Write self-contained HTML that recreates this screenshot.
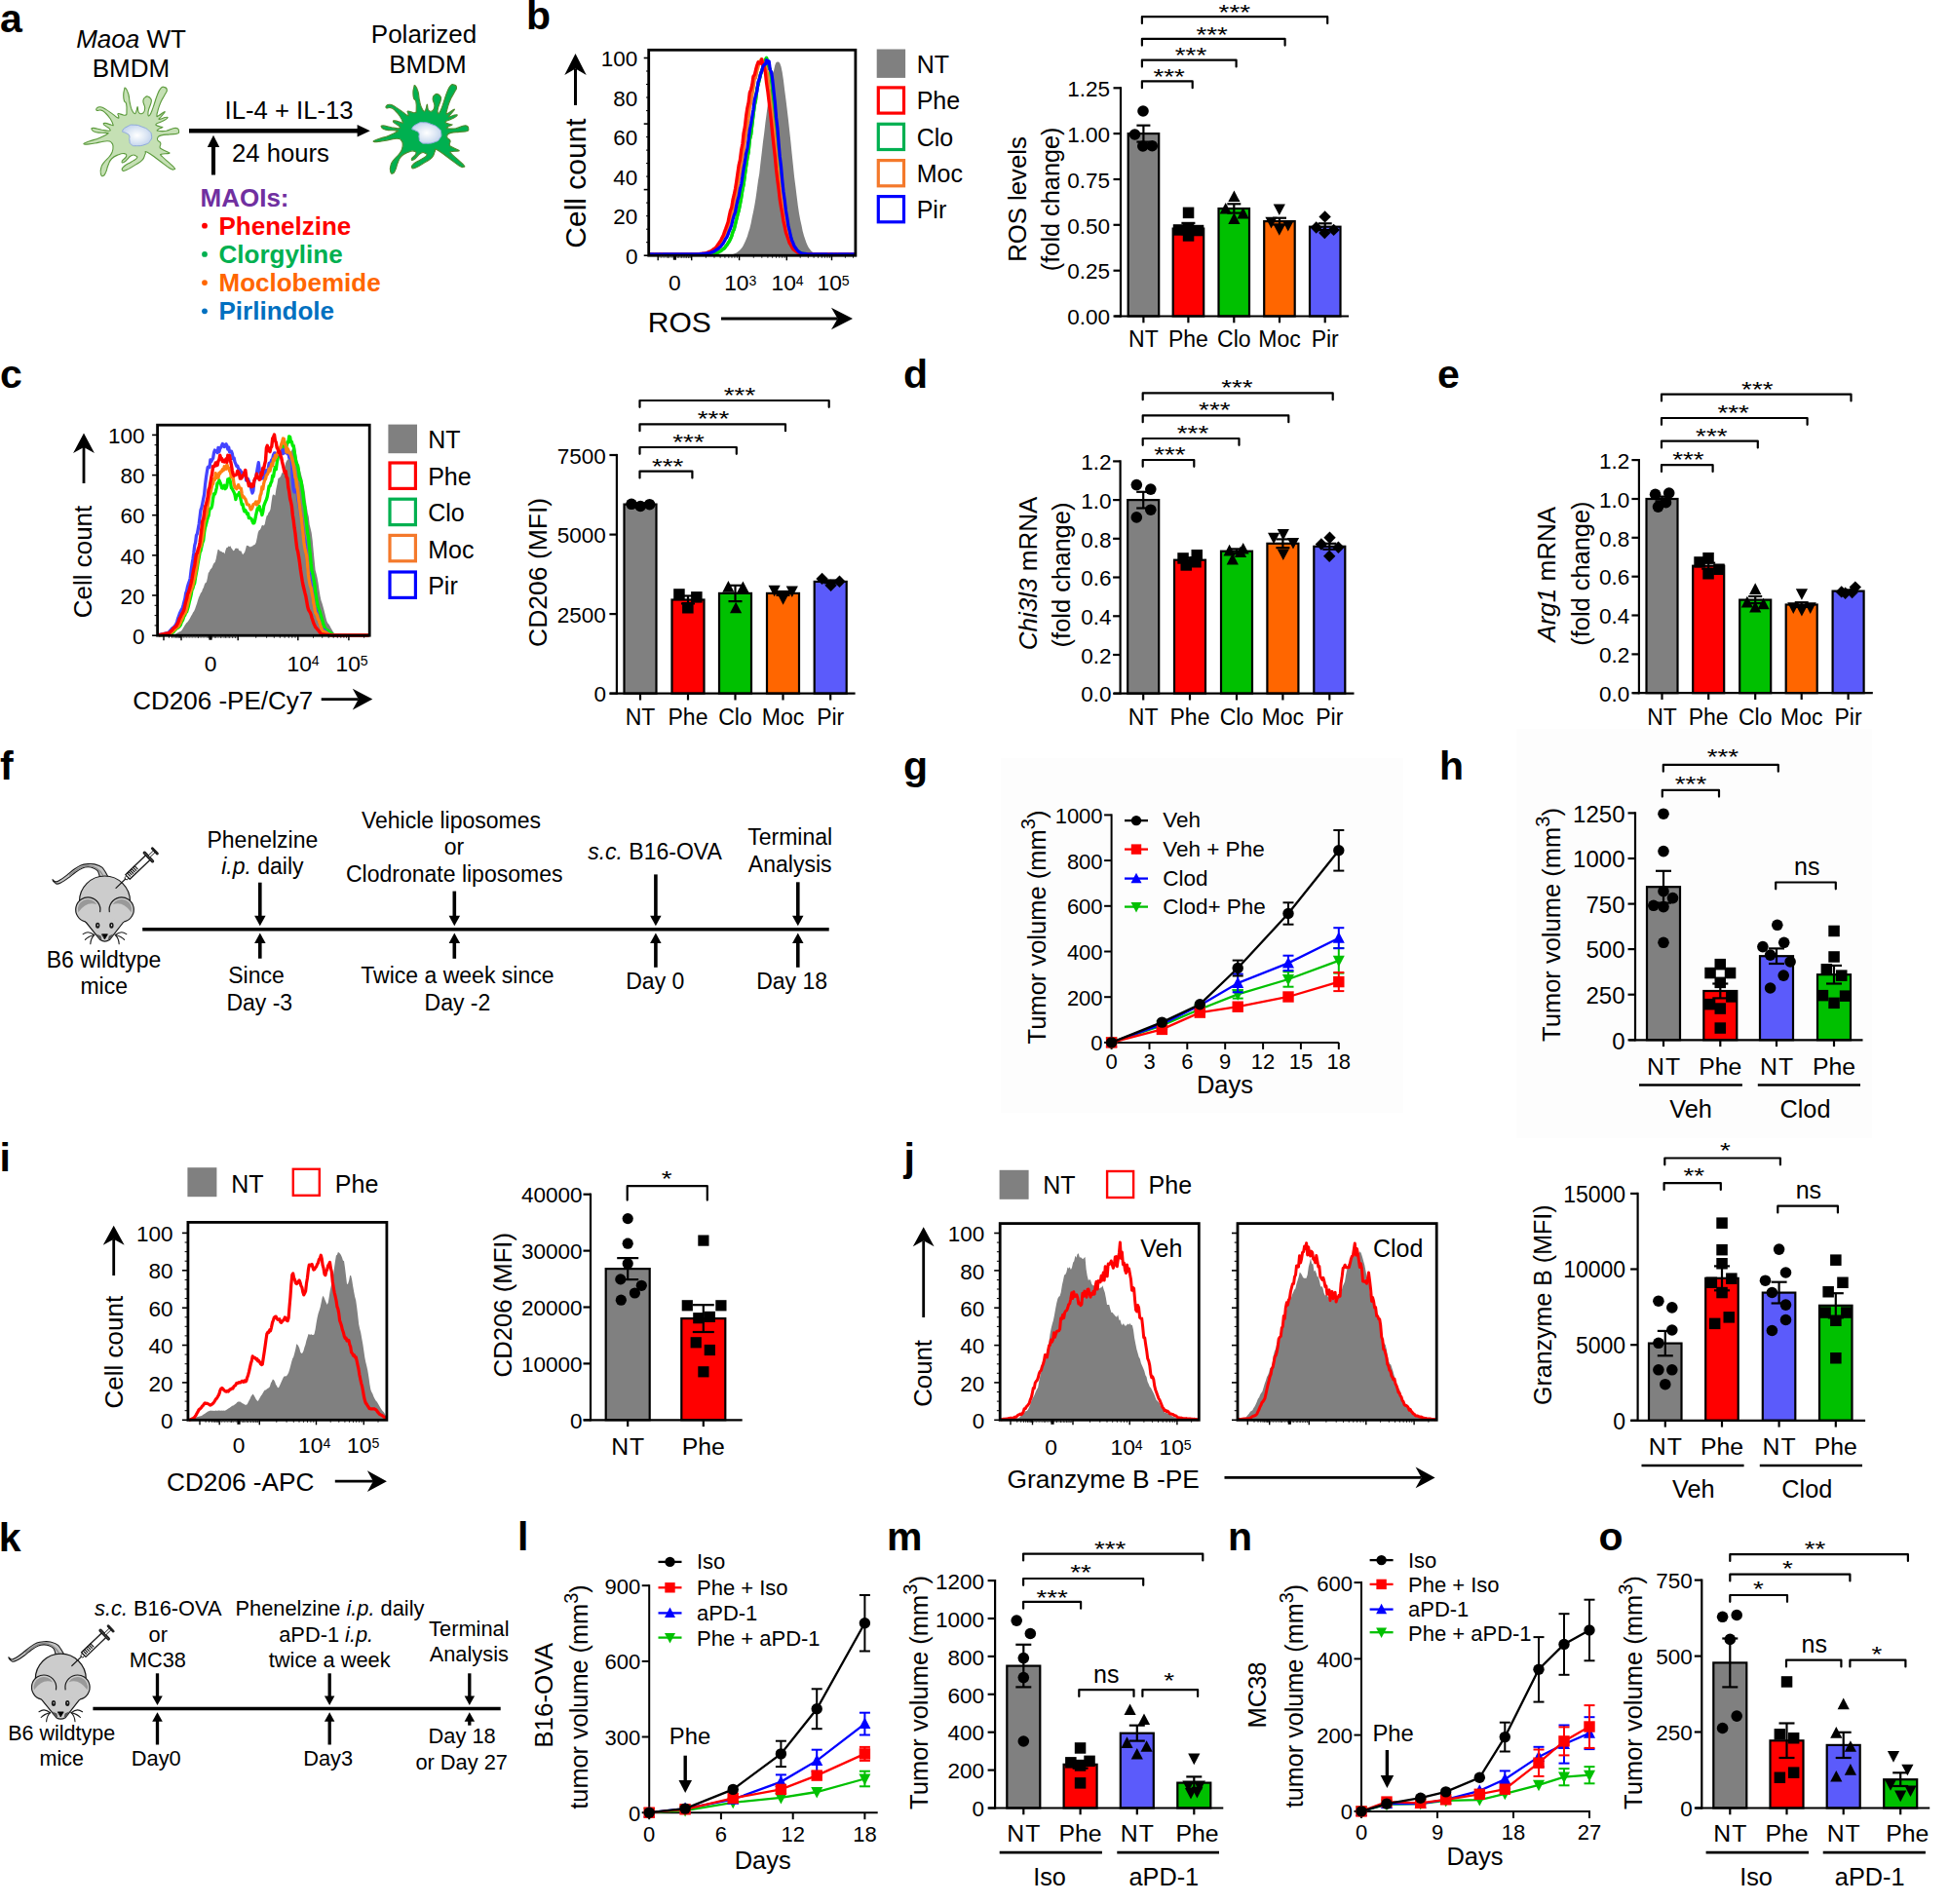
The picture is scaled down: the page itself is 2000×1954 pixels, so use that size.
<!DOCTYPE html>
<html><head><meta charset="utf-8"><title>Figure</title>
<style>
html,body{margin:0;padding:0;background:#fff;}
svg{display:block;font-family:"Liberation Sans",sans-serif;}
</style></head>
<body>
<svg width="2000" height="1954" viewBox="0 0 2000 1954" fill="#000">
<defs><radialGradient id="nuc" cx="0.5" cy="0.5" r="0.6"><stop offset="0" stop-color="#ffffff"/><stop offset="0.55" stop-color="#dbe6f4"/><stop offset="1" stop-color="#b9ccea"/></radialGradient></defs>
<text x="0" y="32.7" font-size="41" font-weight="bold">a</text>
<text x="134.5" y="48.6" font-size="26" text-anchor="middle"><tspan font-style="italic">Maoa</tspan> WT</text>
<text x="134.5" y="78.9" font-size="26" text-anchor="middle">BMDM</text>
<text x="435" y="44.3" font-size="26" text-anchor="middle">Polarized</text>
<text x="439" y="74.6" font-size="26" text-anchor="middle">BMDM</text>
<path d="M128.9 90.4C130.1 91.6 130.6 92.6 131.8 96.5C132.9 100.5 132.3 100.8 133.2 105.2C134.2 109.6 134 110 135.4 113.1C136.7 116.1 137 116.5 138.2 116.7C139.5 116.9 139.3 115.7 140 113.8C140.8 111.9 140.6 109.5 141.1 109.5C141.6 109.5 141.3 112 141.8 113.8C142.4 115.6 141.9 115.7 143.3 116.3C144.6 116.9 145.4 117.4 146.9 115.9C148.3 114.5 148.7 114.2 148.7 110.9C148.7 107.7 146.8 106.7 146.9 103.7C147 100.8 147.7 101 149 99.8C150.4 98.5 150.4 98.6 151.9 99.1C153.4 99.5 153.9 99.9 154.8 101.6C155.6 103.2 155.7 102.3 155.1 105.2C154.5 108 153.5 109.1 152.6 112.4C151.7 115.6 151.6 115.8 151.9 117.4C152.2 118.9 152.3 119.8 153.7 118.1C155 116.4 154.9 116.3 156.9 110.9C158.9 105.6 159.1 103.3 161.2 98C163.3 92.6 162.9 93.1 164.8 90.8C166.7 88.5 166.7 89 168.4 89.4C170.1 89.7 171.1 90.1 171.3 92.2C171.5 94.3 170.9 93.8 169.1 97.3C167.4 100.7 166.7 100.8 164.8 105.2C162.9 109.6 163 110.1 161.9 113.8C160.9 117.4 160.7 117.5 160.9 118.8C161.1 120.2 160.5 120 162.7 118.8C164.9 117.7 168.4 114.3 169.1 114.5C169.9 114.7 167.1 117.4 165.5 119.5C164 121.6 162 122.2 163.4 122.4C164.7 122.6 168.5 120.4 170.6 120.3C172.7 120.1 172.4 120.5 171.3 121.7C170.1 122.8 169.3 122.9 166.3 124.6C163.2 126.2 160 126.3 159.8 127.8C159.6 129.3 163.8 129.5 165.5 130.3C167.3 131.1 167.2 129.9 166.3 130.7C165.3 131.4 162.9 132.2 161.9 133.2C161 134.1 160.4 134 162.7 134.3C165 134.5 166.5 134.9 170.6 134.3C174.6 133.6 174.7 132.4 177.7 131.7C180.8 131.1 180.5 131 182.1 131.7C183.6 132.5 183.5 133.2 183.5 134.6C183.5 136.1 184.5 136.3 182.1 137.1C179.6 138 178.6 137.4 174.2 137.9C169.8 138.3 168.8 138.1 165.5 138.9C162.3 139.8 162.9 139.7 161.9 141.1C161 142.4 161.2 142.4 161.9 144C162.7 145.5 164.2 144.9 164.8 146.8C165.4 148.7 163.7 149.4 164.1 151.1C164.5 152.9 164 152 166.3 153.3C168.6 154.6 170.7 155.1 172.7 156.2C174.7 157.2 174 156.9 173.8 157.2C173.6 157.6 174.2 157.3 172 157.6C169.8 157.9 167.1 157.6 165.5 158.3C164 159.1 164.1 158.2 166.3 160.5C168.4 162.8 170.1 163.9 173.4 166.9C176.8 170 177.5 170.2 178.8 172C180.2 173.8 179.7 173.6 178.5 173.8C177.2 174 178.2 175.1 174.2 172.7C170.1 170.3 169.5 169.2 163.4 164.8C157.3 160.4 155 157.9 151.2 156.2C147.3 154.4 150.4 156.2 149 158.3C147.7 160.4 148.8 161.2 146.1 164.1C143.5 166.9 143.4 166.3 139 169.1C134.6 171.9 133.3 173.1 129.6 174.5C126 175.9 125.9 175.5 125.3 174.5C124.7 173.4 125 172.7 127.5 170.5C130 168.3 131.2 168.4 134.6 166.2C138.1 164 139.2 164 140.4 162.3C141.5 160.6 140.5 160.4 139 159.8C137.4 159.1 137.7 158 134.6 159.8C131.6 161.5 130 164.8 127.5 166.2C125 167.7 124.7 166.7 125.3 165.1C125.9 163.6 129 162.5 129.6 160.5C130.2 158.5 129.6 158.1 127.5 157.6C125.4 157.1 125.2 157.2 121.7 158.7C118.3 160.1 117.4 160 114.5 163C111.7 166 112.5 166.3 110.9 169.8C109.4 173.4 110.1 173.4 108.8 176.3C107.4 179.2 107.4 180 105.9 180.6C104.5 181.2 104 180.7 103.4 178.4C102.8 176.1 102.9 175 103.8 172C104.6 168.9 104.3 170 106.6 166.9C108.9 163.9 110.1 163.5 112.4 160.5C114.7 157.4 114.3 158.1 115.3 155.5C116.2 152.8 116.2 152.8 116 150.4C115.8 148 116.1 148 114.5 146.5C113 144.9 113.7 144.8 110.2 144.7C106.8 144.6 106.6 145.3 101.6 146.1C96.6 147 95.8 147.5 91.5 147.9C87.3 148.3 85.8 148.3 85.8 147.6C85.8 146.8 87.1 146.7 91.5 145C96 143.4 97.3 143.5 102.3 141.4C107.3 139.4 108.5 138.8 110.2 137.5C111.9 136.2 111.9 136.9 108.8 136.4C105.7 135.9 102.6 136.6 98.7 135.7C94.9 134.8 95.2 134.3 94.4 133.2C93.7 132 93.2 131.4 95.9 131.4C98.5 131.4 100.3 132.4 104.5 133.2C108.7 133.9 109.5 134.5 111.7 134.3C113.9 134.1 113.5 133.7 112.7 132.5C112 131.2 110.5 130.9 108.8 129.6C107.1 128.3 106.5 128.3 106.3 127.4C106.1 126.6 105.9 126.2 108.1 126.4C110.3 126.6 112.4 127.8 114.5 128.2C116.6 128.5 116.4 129.5 116 127.8C115.6 126.1 115.2 124.9 113.1 121.7C111 118.5 110.6 118.2 108.1 115.9C105.6 113.6 106.1 113.7 103.8 113.1C101.5 112.4 100.6 114 99.5 113.4C98.3 112.9 98.5 111.9 99.5 110.9C100.4 110 100.6 109.5 103 109.8C105.5 110.2 105.3 110.3 108.8 112.4C112.2 114.4 112.7 115.1 116 117.4C119.2 119.7 119.5 120.4 121 121C122.5 121.5 121.7 120.7 121.7 119.5C121.7 118.4 120.2 117.2 121 116.7C121.8 116.1 122.5 117 124.6 117.4C126.7 117.8 127.5 118.7 128.9 118.1C130.3 117.5 129.8 118.3 130 115.2C130.2 112.2 130.3 109.7 129.6 106.6C128.9 103.5 128.2 106 127.5 103.7C126.7 101.4 126.7 101.1 126.7 98C126.7 94.9 126.9 94.3 127.5 92.2C128 90.2 127.8 89.3 128.9 90.4Z" fill="#c5e0b4" stroke="#5c9a3c" stroke-width="1.1" stroke-linejoin="round"/>
<path d="M125.7 134.3C126.3 132.2 127.5 131.4 131.1 129.6C134.6 127.8 133.2 128 137.5 128.2C141.8 128.3 140.9 128.2 145.4 130C149.9 131.7 149.6 131.2 152.6 133.9C155.6 136.6 155 135.7 155.5 138.9C155.9 142.2 156 141.9 154 144.7C152.1 147.5 153.1 146.8 149 148.3C144.9 149.8 144.7 149.7 140.4 149.7C136.1 149.7 136.9 150 134.6 148.3C132.4 146.5 133.5 146.8 132.9 144C132.2 141.2 133.7 141.2 132.5 138.9C131.3 136.7 130.9 137.8 128.9 136.4C126.9 135 125 136.3 125.7 134.3Z" fill="url(#nuc)" stroke="#8faadc" stroke-width="1"/>
<path d="M426.1 87.9C427.3 89.1 427.8 90.1 429 94C430.1 98 429.5 98.3 430.4 102.7C431.4 107.1 431.2 107.5 432.6 110.6C433.9 113.6 434.2 114 435.4 114.2C436.7 114.4 436.5 113.2 437.2 111.3C438 109.4 437.8 107 438.3 107C438.8 107 438.5 109.5 439 111.3C439.6 113.1 439.1 113.2 440.5 113.8C441.8 114.4 442.6 114.9 444.1 113.4C445.5 112 445.9 111.7 445.9 108.4C445.9 105.2 444 104.2 444.1 101.2C444.2 98.3 444.9 98.5 446.2 97.3C447.6 96 447.6 96.1 449.1 96.6C450.6 97 451.1 97.4 452 99.1C452.8 100.7 452.9 99.8 452.3 102.7C451.7 105.5 450.7 106.6 449.8 109.9C448.9 113.1 448.8 113.3 449.1 114.9C449.4 116.4 449.5 117.3 450.9 115.6C452.2 113.9 452.1 113.8 454.1 108.4C456.1 103.1 456.3 100.8 458.4 95.5C460.5 90.1 460.1 90.6 462 88.3C463.9 86 463.9 86.5 465.6 86.9C467.3 87.2 468.3 87.6 468.5 89.7C468.7 91.8 468.1 91.3 466.3 94.8C464.6 98.2 463.9 98.3 462 102.7C460.1 107.1 460.2 107.6 459.1 111.3C458.1 114.9 457.9 115 458.1 116.3C458.3 117.7 457.7 117.5 459.9 116.3C462.1 115.2 465.6 111.8 466.3 112C467.1 112.2 464.3 114.9 462.7 117C461.2 119.1 459.2 119.7 460.6 119.9C461.9 120.1 465.7 117.9 467.8 117.8C469.9 117.6 469.6 118 468.5 119.2C467.3 120.3 466.5 120.4 463.5 122.1C460.4 123.7 457.2 123.8 457 125.3C456.8 126.8 461 127 462.7 127.8C464.5 128.6 464.4 127.4 463.5 128.2C462.5 128.9 460.1 129.7 459.1 130.7C458.2 131.6 457.6 131.5 459.9 131.8C462.2 132 463.7 132.4 467.8 131.8C471.8 131.1 471.9 129.9 474.9 129.2C478 128.6 477.7 128.5 479.3 129.2C480.8 130 480.7 130.7 480.7 132.1C480.7 133.6 481.7 133.8 479.3 134.6C476.8 135.5 475.8 134.9 471.4 135.4C467 135.8 466 135.6 462.7 136.4C459.5 137.3 460.1 137.2 459.1 138.6C458.2 139.9 458.4 139.9 459.1 141.5C459.9 143 461.4 142.4 462 144.3C462.6 146.2 460.9 146.9 461.3 148.6C461.7 150.4 461.2 149.5 463.5 150.8C465.8 152.1 467.9 152.6 469.9 153.7C471.9 154.7 471.2 154.4 471 154.7C470.8 155.1 471.4 154.8 469.2 155.1C467 155.4 464.3 155.1 462.7 155.8C461.2 156.6 461.3 155.7 463.5 158C465.6 160.3 467.3 161.4 470.6 164.4C474 167.5 474.7 167.7 476 169.5C477.4 171.3 476.9 171.1 475.7 171.3C474.4 171.5 475.4 172.6 471.4 170.2C467.3 167.8 466.7 166.7 460.6 162.3C454.5 157.9 452.2 155.4 448.4 153.7C444.5 151.9 447.6 153.7 446.2 155.8C444.9 157.9 446 158.7 443.3 161.6C440.7 164.4 440.6 163.8 436.2 166.6C431.8 169.4 430.5 170.6 426.8 172C423.2 173.4 423.1 173 422.5 172C421.9 170.9 422.2 170.2 424.7 168C427.2 165.8 428.4 165.9 431.8 163.7C435.3 161.5 436.4 161.5 437.6 159.8C438.7 158.1 437.7 157.9 436.2 157.3C434.6 156.6 434.9 155.5 431.8 157.3C428.8 159 427.2 162.3 424.7 163.7C422.2 165.2 421.9 164.2 422.5 162.6C423.1 161.1 426.2 160 426.8 158C427.4 156 426.8 155.6 424.7 155.1C422.6 154.6 422.4 154.7 418.9 156.2C415.5 157.6 414.6 157.5 411.7 160.5C408.9 163.5 409.7 163.8 408.1 167.3C406.6 170.9 407.3 170.9 406 173.8C404.6 176.7 404.6 177.5 403.1 178.1C401.7 178.7 401.2 178.2 400.6 175.9C400 173.6 400.1 172.5 401 169.5C401.8 166.4 401.5 167.5 403.8 164.4C406.1 161.4 407.3 161 409.6 158C411.9 154.9 411.5 155.6 412.5 153C413.4 150.3 413.4 150.3 413.2 147.9C413 145.5 413.3 145.5 411.7 144C410.2 142.4 410.9 142.3 407.4 142.2C404 142.1 403.8 142.8 398.8 143.6C393.8 144.5 393 145 388.7 145.4C384.5 145.8 383 145.8 383 145.1C383 144.3 384.3 144.2 388.7 142.5C393.2 140.9 394.5 141 399.5 138.9C404.5 136.9 405.7 136.3 407.4 135C409.1 133.7 409.1 134.4 406 133.9C402.9 133.4 399.8 134.1 395.9 133.2C392.1 132.3 392.4 131.8 391.6 130.7C390.9 129.5 390.4 128.9 393.1 128.9C395.7 128.9 397.5 129.9 401.7 130.7C405.9 131.4 406.7 132 408.9 131.8C411.1 131.6 410.7 131.2 409.9 130C409.2 128.7 407.7 128.4 406 127.1C404.3 125.8 403.7 125.8 403.5 124.9C403.3 124.1 403.1 123.7 405.3 123.9C407.5 124.1 409.6 125.3 411.7 125.7C413.8 126 413.6 127 413.2 125.3C412.8 123.6 412.4 122.4 410.3 119.2C408.2 116 407.8 115.7 405.3 113.4C402.8 111.1 403.3 111.2 401 110.6C398.7 109.9 397.8 111.5 396.7 110.9C395.5 110.4 395.7 109.4 396.7 108.4C397.6 107.5 397.8 107 400.2 107.3C402.7 107.7 402.5 107.8 406 109.9C409.4 111.9 409.9 112.6 413.2 114.9C416.4 117.2 416.7 117.9 418.2 118.5C419.7 119 418.9 118.2 418.9 117C418.9 115.9 417.4 114.7 418.2 114.2C419 113.6 419.7 114.5 421.8 114.9C423.9 115.3 424.7 116.2 426.1 115.6C427.5 115 427 115.8 427.2 112.7C427.4 109.7 427.5 107.2 426.8 104.1C426.1 101 425.4 103.5 424.7 101.2C423.9 98.9 423.9 98.6 423.9 95.5C423.9 92.4 424.1 91.8 424.7 89.7C425.2 87.7 425 86.8 426.1 87.9Z" fill="#00b050" stroke="#4f8a2c" stroke-width="1.1" stroke-linejoin="round"/>
<path d="M422.9 131.8C423.5 129.7 424.7 128.9 428.3 127.1C431.8 125.3 430.4 125.5 434.7 125.7C439 125.8 438.1 125.7 442.6 127.5C447.1 129.2 446.8 128.7 449.8 131.4C452.8 134.1 452.2 133.2 452.7 136.4C453.1 139.7 453.2 139.4 451.2 142.2C449.3 145 450.3 144.3 446.2 145.8C442.1 147.3 441.9 147.2 437.6 147.2C433.3 147.2 434.1 147.5 431.8 145.8C429.6 144 430.7 144.3 430.1 141.5C429.4 138.7 430.9 138.7 429.7 136.4C428.5 134.2 428.1 135.3 426.1 133.9C424.1 132.5 422.2 133.8 422.9 131.8Z" fill="url(#nuc)" stroke="#8faadc" stroke-width="1"/>
<line x1="194" y1="134.3" x2="367.6" y2="134.3" stroke="#000" stroke-width="4.6"/>
<polygon points="379.8,134.3 366.6,140.6 366.6,128" fill="#000"/>
<text x="230.5" y="122.1" font-size="25.7">IL-4 + IL-13</text>
<line x1="219" y1="179.5" x2="219" y2="149.9" stroke="#000" stroke-width="4.1"/>
<polygon points="219,138.8 225.2,150.9 212.8,150.9" fill="#000"/>
<text x="238" y="165.9" font-size="25.7">24 hours</text>
<text x="205.5" y="211.6" font-size="26" font-weight="bold" fill="#7030a0">MAOIs:</text>
<circle cx="210" cy="231.7" r="2.9" fill="#ff0000"/>
<text x="224.5" y="240.6" font-size="26" font-weight="bold" fill="#ff0000">Phenelzine</text>
<circle cx="210" cy="260.9" r="2.9" fill="#00b050"/>
<text x="224.5" y="269.8" font-size="26" font-weight="bold" fill="#00b050">Clorgyline</text>
<circle cx="210" cy="290.1" r="2.9" fill="#ff6600"/>
<text x="224.5" y="299" font-size="26" font-weight="bold" fill="#ff6600">Moclobemide</text>
<circle cx="210" cy="319.3" r="2.9" fill="#0070c0"/>
<text x="224.5" y="328.2" font-size="26" font-weight="bold" fill="#0070c0">Pirlindole</text>
<text x="540" y="29.7" font-size="41" font-weight="bold">b</text>
<path d="M666.7 262.2 L666.7 262.2 L667.9 262.2 L669.2 262.2 L670.4 262.2 L671.6 262.2 L672.9 262.2 L674.1 262.2 L675.4 262.2 L676.6 262.2 L677.8 262.2 L679.1 262.2 L680.3 262.2 L681.5 262.2 L682.8 262.2 L684 262.2 L685.2 262.2 L686.5 262.2 L687.7 262.2 L689 262.2 L690.2 262.2 L691.4 262.2 L692.7 262.2 L693.9 262.2 L695.1 262.2 L696.4 262.2 L697.6 262.2 L698.8 262.2 L700.1 262.2 L701.3 262.2 L702.6 262.2 L703.8 262.2 L705 262.2 L706.3 262.2 L707.5 262.2 L708.7 262.2 L710 262.2 L711.2 262.2 L712.4 262.2 L713.7 262.2 L714.9 262.2 L716.2 262.2 L717.4 262.2 L718.6 262.2 L719.9 262.2 L721.1 262.2 L722.3 262.2 L723.6 262.2 L724.8 262.2 L726.1 262.2 L727.3 262.2 L728.5 262.2 L729.8 262.2 L731 262.2 L732.2 262.2 L733.5 262.2 L734.7 262.2 L735.9 262.2 L737.2 262.2 L738.4 262.2 L739.7 262.1 L740.9 262.1 L742.1 262.1 L743.4 262 L744.6 262 L745.8 261.9 L747.1 261.8 L748.3 261.6 L749.5 261.4 L750.8 261.2 L752 260.9 L753.3 260.5 L754.5 260.1 L755.7 259.5 L757 258.5 L758.2 257.4 L759.4 256.4 L760.7 255 L761.9 253.4 L763.1 251.2 L764.4 248.4 L765.6 245.7 L766.9 242.5 L768.1 238.3 L769.3 234.7 L770.6 229.3 L771.8 223.1 L773 217.4 L774.3 210.7 L775.5 203.6 L776.7 194.9 L778 185.3 L779.2 178.5 L780.5 166.8 L781.7 156.7 L782.9 146.2 L784.2 136.4 L785.4 125.9 L786.6 117 L787.9 107.2 L789.1 98.7 L790.3 92 L791.6 80.9 L792.8 75.8 L794.1 72.2 L795.3 66.7 L796.5 64.1 L797.8 63.4 L799 63.6 L800.2 64.7 L801.5 68.3 L802.7 74.1 L803.9 82.1 L805.2 92.7 L806.4 101.7 L807.7 112.6 L808.9 122.5 L810.1 133.4 L811.4 145.6 L812.6 157.6 L813.8 169.1 L815.1 181.7 L816.3 190.7 L817.5 200.8 L818.8 210.9 L820 218.9 L821.3 226 L822.5 231.2 L823.7 237.3 L825 242.1 L826.2 245.6 L827.4 249.1 L828.7 252 L829.9 254.2 L831.2 255.9 L832.4 257.5 L833.6 258.6 L834.9 259.4 L836.1 260.1 L837.3 260.7 L838.6 261.1 L839.8 261.4 L841 261.6 L842.3 261.8 L843.5 261.9 L844.8 262 L846 262.1 L847.2 262.1 L848.5 262.1 L849.7 262.2 L850.9 262.2 L852.2 262.2 L853.4 262.2 L854.6 262.2 L855.9 262.2 L857.1 262.2 L858.4 262.2 L859.6 262.2 L860.8 262.2 L862.1 262.2 L863.3 262.2 L864.5 262.2 L865.8 262.2 L867 262.2 L868.2 262.2 L869.5 262.2 L870.7 262.2 L872 262.2 L873.2 262.2 L874.4 262.2 L875.7 262.2 L876.9 262.2 L876.9 262.2 Z" fill="#808080"/>
<polyline points="666.7,261 667.9,260.9 669.2,260.9 670.4,260.9 671.6,260.9 672.9,260.9 674.1,261.1 675.4,261 676.6,260.9 677.8,261 679.1,260.9 680.3,261 681.5,261 682.8,261 684,261 685.2,261 686.5,261.1 687.7,261 689,261 690.2,260.9 691.4,260.9 692.7,261 693.9,260.9 695.1,261 696.4,261 697.6,261 698.8,261.1 700.1,260.9 701.3,261 702.6,261 703.8,260.9 705,260.9 706.3,261 707.5,260.9 708.7,261 710,260.9 711.2,261 712.4,260.9 713.7,260.9 714.9,260.9 716.2,260.9 717.4,261 718.6,261 719.9,261 721.1,261 722.3,261 723.6,260.9 724.8,260.8 726.1,260.8 727.3,260.6 728.5,260.6 729.8,260.5 731,260.2 732.2,260.1 733.5,259.9 734.7,259.5 735.9,259.1 737.2,258.9 738.4,258 739.7,257.7 740.9,256.5 742.1,255.5 743.4,254.8 744.6,252.9 745.8,251.6 747.1,249.5 748.3,247.8 749.5,245.3 750.8,242.3 752,238 753.3,235.3 754.5,230.3 755.7,225.3 757,220.1 758.2,215.7 759.4,209.6 760.7,202.6 761.9,194.8 763.1,189.2 764.4,179.3 765.6,170.8 766.9,161.9 768.1,156.2 769.3,143.6 770.6,138.2 771.8,128.1 773,118.1 774.3,108 775.5,102.7 776.7,91.9 778,86.9 779.2,81.8 780.5,76.3 781.7,72.5 782.9,69.4 784.2,66.4 785.4,61.6 786.6,59.4 787.9,65.9 789.1,70.3 790.3,70.9 791.6,81.6 792.8,92.1 794.1,104.1 795.3,114.6 796.5,126.5 797.8,141.4 799,154.8 800.2,169 801.5,178.4 802.7,192.7 803.9,202 805.2,210.8 806.4,220.9 807.7,227.2 808.9,233.4 810.1,239.4 811.4,243.8 812.6,248.2 813.8,250.9 815.1,253.6 816.3,255 817.5,256.8 818.8,257.9 820,258.6 821.3,259.3 822.5,259.7 823.7,260.2 825,260.4 826.2,260.6 827.4,260.7 828.7,260.9 829.9,260.9 831.2,261 832.4,261 833.6,260.9 834.9,260.9 836.1,261 837.3,261 838.6,261 839.8,261.1 841,261 842.3,260.9 843.5,260.9 844.8,261 846,260.9 847.2,260.9 848.5,261 849.7,261 850.9,260.9 852.2,261 853.4,260.9 854.6,261 855.9,261 857.1,260.9 858.4,261 859.6,261 860.8,260.9 862.1,261 863.3,261 864.5,261.1 865.8,261 867,261 868.2,261 869.5,261 870.7,260.9 872,261 873.2,260.9 874.4,261 875.7,261 876.9,260.9" fill="none" stroke="#00b050" stroke-width="3.3" stroke-linejoin="round"/>
<polyline points="666.7,261 667.9,260.9 669.2,260.9 670.4,260.9 671.6,260.9 672.9,260.9 674.1,261.1 675.4,261 676.6,260.9 677.8,261 679.1,260.9 680.3,261 681.5,261 682.8,261 684,261 685.2,261 686.5,261.1 687.7,261 689,261 690.2,260.9 691.4,260.9 692.7,261 693.9,260.9 695.1,261 696.4,261 697.6,261 698.8,261.1 700.1,260.9 701.3,261 702.6,261 703.8,260.9 705,260.9 706.3,261 707.5,260.9 708.7,261 710,260.9 711.2,261 712.4,260.9 713.7,260.9 714.9,260.9 716.2,260.9 717.4,261 718.6,261 719.9,261 721.1,261 722.3,261 723.6,260.9 724.8,260.8 726.1,260.8 727.3,260.6 728.5,260.6 729.8,260.5 731,260.2 732.2,260.1 733.5,259.9 734.7,259.5 735.9,259.1 737.2,258.9 738.4,258 739.7,257.7 740.9,256.5 742.1,255.5 743.4,254.8 744.6,252.9 745.8,251.6 747.1,249.5 748.3,247.8 749.5,245.3 750.8,242.3 752,238 753.3,235.3 754.5,230.3 755.7,225.3 757,220.1 758.2,215.7 759.4,209.6 760.7,202.6 761.9,194.8 763.1,189.2 764.4,179.3 765.6,170.8 766.9,161.9 768.1,156.2 769.3,143.6 770.6,138.2 771.8,128.1 773,118.1 774.3,108 775.5,102.7 776.7,91.9 778,86.9 779.2,81.8 780.5,76.3 781.7,72.5 782.9,69.4 784.2,66.4 785.4,61.6 786.6,59.4 787.9,65.9 789.1,70.3 790.3,70.9 791.6,81.6 792.8,92.1 794.1,104.1 795.3,114.6 796.5,126.5 797.8,141.4 799,154.8 800.2,169 801.5,178.4 802.7,192.7 803.9,202 805.2,210.8 806.4,220.9 807.7,227.2 808.9,233.4 810.1,239.4 811.4,243.8 812.6,248.2 813.8,250.9 815.1,253.6 816.3,255 817.5,256.8 818.8,257.9 820,258.6 821.3,259.3 822.5,259.7 823.7,260.2 825,260.4 826.2,260.6 827.4,260.7 828.7,260.9 829.9,260.9 831.2,261 832.4,261 833.6,260.9 834.9,260.9 836.1,261 837.3,261 838.6,261 839.8,261.1 841,261 842.3,260.9 843.5,260.9 844.8,261 846,260.9 847.2,260.9 848.5,261 849.7,261 850.9,260.9 852.2,261 853.4,260.9 854.6,261 855.9,261 857.1,260.9 858.4,261 859.6,261 860.8,260.9 862.1,261 863.3,261 864.5,261.1 865.8,261 867,261 868.2,261 869.5,261 870.7,260.9 872,261 873.2,260.9 874.4,261 875.7,261 876.9,260.9" fill="none" stroke="#00e000" stroke-width="3.3" stroke-linejoin="round"/>
<polyline points="666.7,261 667.9,261 669.2,261 670.4,261.1 671.6,261 672.9,261 674.1,261.1 675.4,261 676.6,261.1 677.8,261 679.1,261.1 680.3,261.1 681.5,261 682.8,260.9 684,261 685.2,261 686.5,261 687.7,260.9 689,261 690.2,261 691.4,260.9 692.7,261.1 693.9,260.9 695.1,261 696.4,261 697.6,261 698.8,261 700.1,260.9 701.3,261 702.6,261 703.8,261 705,261 706.3,261 707.5,261 708.7,261 710,261 711.2,260.9 712.4,260.9 713.7,260.9 714.9,260.9 716.2,260.8 717.4,260.8 718.6,260.7 719.9,260.6 721.1,260.6 722.3,260.4 723.6,260.3 724.8,260 726.1,259.8 727.3,259.7 728.5,259.1 729.8,259 731,258.4 732.2,257.7 733.5,257.2 734.7,256.2 735.9,255.5 737.2,253.9 738.4,252.5 739.7,251 740.9,248.9 742.1,247.3 743.4,244.5 744.6,241.8 745.8,238.8 747.1,235.5 748.3,231 749.5,226.5 750.8,222.6 752,217.1 753.3,212.8 754.5,205.3 755.7,199 757,191.1 758.2,184.2 759.4,178.3 760.7,170.1 761.9,160.9 763.1,155.1 764.4,144.9 765.6,137.7 766.9,129.5 768.1,121.5 769.3,110 770.6,105.5 771.8,97.5 773,90 774.3,81 775.5,80 776.7,73.1 778,68.6 779.2,63.5 780.5,61.8 781.7,60.4 782.9,63.8 784.2,64.7 785.4,68.6 786.6,71 787.9,77.8 789.1,91 790.3,100.6 791.6,111.1 792.8,122.5 794.1,133.3 795.3,145 796.5,158.2 797.8,170.8 799,180.5 800.2,191.2 801.5,200.4 802.7,208.4 803.9,217.2 805.2,224.7 806.4,230.8 807.7,236.2 808.9,241.7 810.1,244.6 811.4,248.1 812.6,250.7 813.8,253 815.1,255.1 816.3,256.5 817.5,257.7 818.8,258.4 820,259.2 821.3,259.7 822.5,260.1 823.7,260.3 825,260.5 826.2,260.7 827.4,260.8 828.7,260.9 829.9,260.9 831.2,260.9 832.4,261 833.6,260.9 834.9,260.9 836.1,261 837.3,261 838.6,261 839.8,261 841,261 842.3,260.9 843.5,260.9 844.8,261 846,261 847.2,261.1 848.5,261.1 849.7,261 850.9,261 852.2,260.9 853.4,261 854.6,261.1 855.9,260.9 857.1,261 858.4,261 859.6,261 860.8,261.1 862.1,261 863.3,260.9 864.5,260.9 865.8,261 867,261 868.2,261 869.5,261 870.7,260.9 872,261 873.2,260.9 874.4,261 875.7,261 876.9,260.9" fill="none" stroke="#f4792b" stroke-width="3.3" stroke-linejoin="round"/>
<polyline points="666.7,261 667.9,261 669.2,261 670.4,261 671.6,261 672.9,261.1 674.1,261.1 675.4,260.9 676.6,261 677.8,261 679.1,260.9 680.3,261 681.5,260.9 682.8,261 684,261 685.2,261 686.5,261 687.7,260.9 689,261 690.2,260.9 691.4,261 692.7,261.1 693.9,260.9 695.1,261 696.4,261 697.6,261.1 698.8,260.9 700.1,261 701.3,260.9 702.6,260.9 703.8,260.9 705,260.9 706.3,261 707.5,260.9 708.7,260.9 710,260.8 711.2,260.8 712.4,260.9 713.7,260.9 714.9,260.8 716.2,260.6 717.4,260.6 718.6,260.5 719.9,260.4 721.1,260.2 722.3,260.1 723.6,259.8 724.8,259.5 726.1,259.1 727.3,258.6 728.5,258.1 729.8,257.4 731,256.7 732.2,255.7 733.5,254.8 734.7,253.9 735.9,252.1 737.2,250.3 738.4,248.5 739.7,246.6 740.9,244 742.1,241.9 743.4,238 744.6,234.9 745.8,231.5 747.1,227.7 748.3,221.6 749.5,216.2 750.8,212.6 752,205 753.3,199.7 754.5,193.7 755.7,186.2 757,177.2 758.2,169.1 759.4,164.1 760.7,153.7 761.9,147.7 763.1,136.5 764.4,129.9 765.6,119.1 766.9,110.6 768.1,105.2 769.3,95.2 770.6,92 771.8,87 773,78.5 774.3,76.8 775.5,71.8 776.7,67.3 778,63.7 779.2,64.9 780.5,65.1 781.7,61 782.9,67.2 784.2,68 785.4,74.8 786.6,85.6 787.9,94.3 789.1,104.2 790.3,114.6 791.6,126.5 792.8,138.5 794.1,150.2 795.3,160.7 796.5,173.7 797.8,184.7 799,193.9 800.2,204.6 801.5,212.8 802.7,219 803.9,226.8 805.2,232.6 806.4,238.5 807.7,242.3 808.9,245.8 810.1,249.4 811.4,251.5 812.6,253.6 813.8,255.6 815.1,256.6 816.3,257.7 817.5,258.5 818.8,259.2 820,259.6 821.3,259.9 822.5,260.4 823.7,260.6 825,260.6 826.2,260.6 827.4,260.9 828.7,260.9 829.9,260.9 831.2,261 832.4,261 833.6,261 834.9,261 836.1,261 837.3,261 838.6,261 839.8,260.9 841,261.1 842.3,261 843.5,260.9 844.8,261 846,261 847.2,260.9 848.5,261 849.7,261 850.9,261 852.2,261 853.4,261.1 854.6,261 855.9,261 857.1,260.9 858.4,261 859.6,260.9 860.8,261 862.1,261 863.3,261 864.5,260.9 865.8,261 867,261 868.2,261 869.5,261 870.7,261 872,260.9 873.2,260.9 874.4,261 875.7,261 876.9,260.9" fill="none" stroke="#ff0000" stroke-width="3.3" stroke-linejoin="round"/>
<polyline points="666.7,261 667.9,261 669.2,261 670.4,260.9 671.6,261.1 672.9,261 674.1,260.9 675.4,261.1 676.6,261 677.8,261 679.1,261.1 680.3,261 681.5,260.9 682.8,261 684,260.9 685.2,261 686.5,261 687.7,261 689,261 690.2,260.9 691.4,261 692.7,260.9 693.9,261 695.1,260.9 696.4,261 697.6,261 698.8,261 700.1,260.9 701.3,261 702.6,261 703.8,261 705,261 706.3,261 707.5,260.9 708.7,261 710,260.9 711.2,260.9 712.4,261 713.7,260.9 714.9,260.9 716.2,260.9 717.4,260.8 718.6,260.6 719.9,260.7 721.1,260.5 722.3,260.5 723.6,260.3 724.8,260 726.1,260 727.3,259.8 728.5,259.5 729.8,259 731,258.8 732.2,258.3 733.5,257.5 734.7,256.6 735.9,256 737.2,255.1 738.4,253.8 739.7,252.9 740.9,251.1 742.1,249.8 743.4,247.5 744.6,245 745.8,243.6 747.1,240.3 748.3,237.2 749.5,234.5 750.8,230.7 752,225.4 753.3,220.9 754.5,217.9 755.7,211.4 757,205.3 758.2,201.2 759.4,193.9 760.7,189.1 761.9,181.2 763.1,173 764.4,165.9 765.6,157.6 766.9,152.6 768.1,143.7 769.3,133.7 770.6,127.1 771.8,120 773,112.8 774.3,102.6 775.5,97.8 776.7,94.3 778,84.1 779.2,81.3 780.5,75.9 781.7,73.1 782.9,68.3 784.2,66.4 785.4,66 786.6,61.8 787.9,64.8 789.1,62.8 790.3,71.7 791.6,74 792.8,82.6 794.1,94.7 795.3,105.4 796.5,120.4 797.8,131.4 799,146.3 800.2,160.4 801.5,170.8 802.7,184.9 803.9,196.4 805.2,205.5 806.4,216 807.7,223.6 808.9,231.6 810.1,236.6 811.4,242.4 812.6,246.8 813.8,249.3 815.1,252.6 816.3,254.3 817.5,256 818.8,257.5 820,258.7 821.3,259.3 822.5,259.8 823.7,260.1 825,260.4 826.2,260.5 827.4,260.7 828.7,260.9 829.9,260.9 831.2,261 832.4,261 833.6,260.9 834.9,260.9 836.1,261 837.3,261 838.6,260.9 839.8,260.9 841,261 842.3,260.9 843.5,261 844.8,260.9 846,260.9 847.2,260.9 848.5,261 849.7,261.1 850.9,261.1 852.2,261 853.4,261 854.6,261 855.9,261.1 857.1,260.9 858.4,261 859.6,261.1 860.8,261 862.1,261 863.3,261 864.5,261 865.8,261 867,261 868.2,260.9 869.5,261 870.7,260.9 872,261.1 873.2,260.9 874.4,260.9 875.7,261 876.9,261" fill="none" stroke="#0000ff" stroke-width="3.3" stroke-linejoin="round"/>
<rect x="665.7" y="51.3" width="212.2" height="210.9" fill="none" stroke="#000" stroke-width="2.8"/>
<text x="654.4" y="270.9" font-size="22.5" text-anchor="end">0</text>
<text x="654.4" y="230.3" font-size="22.5" text-anchor="end">20</text>
<text x="654.4" y="189.8" font-size="22.5" text-anchor="end">40</text>
<text x="654.4" y="149.2" font-size="22.5" text-anchor="end">60</text>
<text x="654.4" y="108.7" font-size="22.5" text-anchor="end">80</text>
<text x="654.4" y="68.2" font-size="22.5" text-anchor="end">100</text>
<line x1="660.7" y1="262.2" x2="665.7" y2="262.2" stroke="#000" stroke-width="1.6"/>
<line x1="663" y1="248.7" x2="665.7" y2="248.7" stroke="#000" stroke-width="1"/>
<line x1="663" y1="235.2" x2="665.7" y2="235.2" stroke="#000" stroke-width="1"/>
<line x1="663" y1="221.7" x2="665.7" y2="221.7" stroke="#000" stroke-width="1"/>
<line x1="663" y1="208.1" x2="665.7" y2="208.1" stroke="#000" stroke-width="1"/>
<line x1="660.7" y1="194.6" x2="665.7" y2="194.6" stroke="#000" stroke-width="1.6"/>
<line x1="663" y1="181.1" x2="665.7" y2="181.1" stroke="#000" stroke-width="1"/>
<line x1="663" y1="167.6" x2="665.7" y2="167.6" stroke="#000" stroke-width="1"/>
<line x1="663" y1="154.1" x2="665.7" y2="154.1" stroke="#000" stroke-width="1"/>
<line x1="663" y1="140.6" x2="665.7" y2="140.6" stroke="#000" stroke-width="1"/>
<line x1="660.7" y1="127.1" x2="665.7" y2="127.1" stroke="#000" stroke-width="1.6"/>
<line x1="663" y1="113.6" x2="665.7" y2="113.6" stroke="#000" stroke-width="1"/>
<line x1="663" y1="100" x2="665.7" y2="100" stroke="#000" stroke-width="1"/>
<line x1="663" y1="86.5" x2="665.7" y2="86.5" stroke="#000" stroke-width="1"/>
<line x1="663" y1="73" x2="665.7" y2="73" stroke="#000" stroke-width="1"/>
<line x1="660.7" y1="59.5" x2="665.7" y2="59.5" stroke="#000" stroke-width="1.6"/>
<line x1="675.2" y1="262.2" x2="675.2" y2="267.2" stroke="#000" stroke-width="1.4"/>
<line x1="709.7" y1="262.2" x2="709.7" y2="267.2" stroke="#000" stroke-width="1.4"/>
<line x1="758.6" y1="262.2" x2="758.6" y2="267.2" stroke="#000" stroke-width="1.4"/>
<line x1="807.3" y1="262.2" x2="807.3" y2="267.2" stroke="#000" stroke-width="1.4"/>
<line x1="853.5" y1="262.2" x2="853.5" y2="267.2" stroke="#000" stroke-width="1.4"/>
<line x1="685.6" y1="262.2" x2="685.6" y2="264.8" stroke="#000" stroke-width="0.8"/>
<line x1="691.7" y1="262.2" x2="691.7" y2="264.8" stroke="#000" stroke-width="0.8"/>
<line x1="696" y1="262.2" x2="696" y2="264.8" stroke="#000" stroke-width="0.8"/>
<line x1="699.3" y1="262.2" x2="699.3" y2="264.8" stroke="#000" stroke-width="0.8"/>
<line x1="702" y1="262.2" x2="702" y2="264.8" stroke="#000" stroke-width="0.8"/>
<line x1="704.4" y1="262.2" x2="704.4" y2="264.8" stroke="#000" stroke-width="0.8"/>
<line x1="706.4" y1="262.2" x2="706.4" y2="264.8" stroke="#000" stroke-width="0.8"/>
<line x1="708.1" y1="262.2" x2="708.1" y2="264.8" stroke="#000" stroke-width="0.8"/>
<line x1="724.4" y1="262.2" x2="724.4" y2="264.8" stroke="#000" stroke-width="0.8"/>
<line x1="733" y1="262.2" x2="733" y2="264.8" stroke="#000" stroke-width="0.8"/>
<line x1="739.1" y1="262.2" x2="739.1" y2="264.8" stroke="#000" stroke-width="0.8"/>
<line x1="743.9" y1="262.2" x2="743.9" y2="264.8" stroke="#000" stroke-width="0.8"/>
<line x1="747.8" y1="262.2" x2="747.8" y2="264.8" stroke="#000" stroke-width="0.8"/>
<line x1="751" y1="262.2" x2="751" y2="264.8" stroke="#000" stroke-width="0.8"/>
<line x1="753.9" y1="262.2" x2="753.9" y2="264.8" stroke="#000" stroke-width="0.8"/>
<line x1="756.4" y1="262.2" x2="756.4" y2="264.8" stroke="#000" stroke-width="0.8"/>
<line x1="773.3" y1="262.2" x2="773.3" y2="264.8" stroke="#000" stroke-width="0.8"/>
<line x1="781.8" y1="262.2" x2="781.8" y2="264.8" stroke="#000" stroke-width="0.8"/>
<line x1="787.9" y1="262.2" x2="787.9" y2="264.8" stroke="#000" stroke-width="0.8"/>
<line x1="792.6" y1="262.2" x2="792.6" y2="264.8" stroke="#000" stroke-width="0.8"/>
<line x1="796.5" y1="262.2" x2="796.5" y2="264.8" stroke="#000" stroke-width="0.8"/>
<line x1="799.8" y1="262.2" x2="799.8" y2="264.8" stroke="#000" stroke-width="0.8"/>
<line x1="802.6" y1="262.2" x2="802.6" y2="264.8" stroke="#000" stroke-width="0.8"/>
<line x1="805.1" y1="262.2" x2="805.1" y2="264.8" stroke="#000" stroke-width="0.8"/>
<line x1="821.2" y1="262.2" x2="821.2" y2="264.8" stroke="#000" stroke-width="0.8"/>
<line x1="829.3" y1="262.2" x2="829.3" y2="264.8" stroke="#000" stroke-width="0.8"/>
<line x1="835.1" y1="262.2" x2="835.1" y2="264.8" stroke="#000" stroke-width="0.8"/>
<line x1="839.6" y1="262.2" x2="839.6" y2="264.8" stroke="#000" stroke-width="0.8"/>
<line x1="843.3" y1="262.2" x2="843.3" y2="264.8" stroke="#000" stroke-width="0.8"/>
<line x1="846.3" y1="262.2" x2="846.3" y2="264.8" stroke="#000" stroke-width="0.8"/>
<line x1="849" y1="262.2" x2="849" y2="264.8" stroke="#000" stroke-width="0.8"/>
<line x1="851.4" y1="262.2" x2="851.4" y2="264.8" stroke="#000" stroke-width="0.8"/>
<line x1="867.4" y1="262.2" x2="867.4" y2="264.8" stroke="#000" stroke-width="0.8"/>
<line x1="875.5" y1="262.2" x2="875.5" y2="264.8" stroke="#000" stroke-width="0.8"/>
<line x1="677" y1="262.2" x2="677" y2="264.8" stroke="#333" stroke-width="0.6"/>
<line x1="678.5" y1="262.2" x2="678.5" y2="264.8" stroke="#333" stroke-width="0.6"/>
<line x1="680.1" y1="262.2" x2="680.1" y2="264.8" stroke="#333" stroke-width="0.6"/>
<line x1="681.6" y1="262.2" x2="681.6" y2="264.8" stroke="#333" stroke-width="0.6"/>
<line x1="683.2" y1="262.2" x2="683.2" y2="264.8" stroke="#333" stroke-width="0.6"/>
<line x1="684.8" y1="262.2" x2="684.8" y2="264.8" stroke="#333" stroke-width="0.6"/>
<line x1="686.3" y1="262.2" x2="686.3" y2="264.8" stroke="#333" stroke-width="0.6"/>
<line x1="687.9" y1="262.2" x2="687.9" y2="264.8" stroke="#333" stroke-width="0.6"/>
<line x1="689.4" y1="262.2" x2="689.4" y2="264.8" stroke="#333" stroke-width="0.6"/>
<line x1="691" y1="262.2" x2="691" y2="264.8" stroke="#333" stroke-width="0.6"/>
<line x1="692.5" y1="262.2" x2="692.5" y2="264.8" stroke="#333" stroke-width="0.6"/>
<line x1="694" y1="262.2" x2="694" y2="264.8" stroke="#333" stroke-width="0.6"/>
<line x1="695.6" y1="262.2" x2="695.6" y2="264.8" stroke="#333" stroke-width="0.6"/>
<line x1="697.1" y1="262.2" x2="697.1" y2="264.8" stroke="#333" stroke-width="0.6"/>
<line x1="698.7" y1="262.2" x2="698.7" y2="264.8" stroke="#333" stroke-width="0.6"/>
<line x1="700.2" y1="262.2" x2="700.2" y2="264.8" stroke="#333" stroke-width="0.6"/>
<line x1="701.8" y1="262.2" x2="701.8" y2="264.8" stroke="#333" stroke-width="0.6"/>
<line x1="703.4" y1="262.2" x2="703.4" y2="264.8" stroke="#333" stroke-width="0.6"/>
<line x1="704.9" y1="262.2" x2="704.9" y2="264.8" stroke="#333" stroke-width="0.6"/>
<line x1="706.5" y1="262.2" x2="706.5" y2="264.8" stroke="#333" stroke-width="0.6"/>
<line x1="708" y1="262.2" x2="708" y2="264.8" stroke="#333" stroke-width="0.6"/>
<rect x="690.8" y="262.2" width="3.2" height="4.5" fill="#000"/>
<text x="692.4" y="298.2" font-size="22.8" text-anchor="middle">0</text>
<text x="743.2" y="298.2" font-size="22.8">10<tspan dy="-5.4" font-size="14.1">3</tspan></text>
<text x="791.5" y="298.2" font-size="22.8">10<tspan dy="-5.4" font-size="14.1">4</tspan></text>
<text x="838.5" y="298.2" font-size="22.8">10<tspan dy="-5.4" font-size="14.1">5</tspan></text>
<text x="601.1" y="188" font-size="30" text-anchor="middle" transform="rotate(-90 601.1 188)">Cell count</text>
<line x1="590.5" y1="108" x2="590.5" y2="70.5" stroke="#000" stroke-width="3"/>
<polygon points="590.5,55 601.7,77 590.5,70.5 579.3,77" fill="#000"/>
<text x="664.8" y="340.8" font-size="30">ROS</text>
<line x1="740" y1="327" x2="859.5" y2="327" stroke="#000" stroke-width="3"/>
<polygon points="875,327 853,338.2 859.5,327 853,315.8" fill="#000"/>
<rect x="899.7" y="50.5" width="29.4" height="29.4" fill="#808080"/>
<text x="940.7" y="74.5" font-size="25">NT</text>
<rect x="901.3" y="89.9" width="26.2" height="26.2" fill="none" stroke="#ff0000" stroke-width="3.2"/>
<text x="940.7" y="112.3" font-size="25">Phe</text>
<rect x="901.3" y="127.3" width="26.2" height="26.2" fill="none" stroke="#00b050" stroke-width="3.2"/>
<text x="940.7" y="149.7" font-size="25">Clo</text>
<rect x="901.3" y="164.6" width="26.2" height="26.2" fill="none" stroke="#f4792b" stroke-width="3.2"/>
<text x="940.7" y="187" font-size="25">Moc</text>
<rect x="901.3" y="201.6" width="26.2" height="26.2" fill="none" stroke="#0000ff" stroke-width="3.2"/>
<text x="940.7" y="224" font-size="25">Pir</text>
<rect x="1157.7" y="137.1" width="31.5" height="187.4" fill="#808080" stroke="#000" stroke-width="2.2"/>
<rect x="1203.7" y="234.6" width="31.5" height="89.9" fill="#ff0000" stroke="#000" stroke-width="2.2"/>
<rect x="1250.5" y="214" width="31.5" height="110.5" fill="#00c000" stroke="#000" stroke-width="2.2"/>
<rect x="1297.2" y="227.1" width="31.5" height="97.4" fill="#ff6600" stroke="#000" stroke-width="2.2"/>
<rect x="1344" y="232.7" width="31.5" height="91.8" fill="#5b5bfb" stroke="#000" stroke-width="2.2"/>
<line x1="1173.4" y1="128.7" x2="1173.4" y2="145.6" stroke="#000" stroke-width="2.2"/>
<line x1="1166.4" y1="128.7" x2="1180.4" y2="128.7" stroke="#000" stroke-width="2.2"/>
<line x1="1166.4" y1="145.6" x2="1180.4" y2="145.6" stroke="#000" stroke-width="2.2"/>
<line x1="1219.4" y1="228.9" x2="1219.4" y2="240.2" stroke="#000" stroke-width="2.2"/>
<line x1="1212.4" y1="228.9" x2="1226.4" y2="228.9" stroke="#000" stroke-width="2.2"/>
<line x1="1212.4" y1="240.2" x2="1226.4" y2="240.2" stroke="#000" stroke-width="2.2"/>
<line x1="1266.3" y1="209.3" x2="1266.3" y2="218.6" stroke="#000" stroke-width="2.2"/>
<line x1="1259.3" y1="209.3" x2="1273.3" y2="209.3" stroke="#000" stroke-width="2.2"/>
<line x1="1259.3" y1="218.6" x2="1273.3" y2="218.6" stroke="#000" stroke-width="2.2"/>
<line x1="1313" y1="223.7" x2="1313" y2="230.4" stroke="#000" stroke-width="2.2"/>
<line x1="1306" y1="223.7" x2="1320" y2="223.7" stroke="#000" stroke-width="2.2"/>
<line x1="1306" y1="230.4" x2="1320" y2="230.4" stroke="#000" stroke-width="2.2"/>
<line x1="1359.7" y1="229.3" x2="1359.7" y2="236.1" stroke="#000" stroke-width="2.2"/>
<line x1="1352.7" y1="229.3" x2="1366.7" y2="229.3" stroke="#000" stroke-width="2.2"/>
<line x1="1352.7" y1="236.1" x2="1366.7" y2="236.1" stroke="#000" stroke-width="2.2"/>
<circle cx="1173" cy="114" r="5.8" fill="#000"/>
<circle cx="1164.5" cy="138" r="5.8" fill="#000"/>
<circle cx="1172.8" cy="150" r="5.8" fill="#000"/>
<circle cx="1182.3" cy="149.7" r="5.8" fill="#000"/>
<rect x="1213.8" y="212.6" width="11.5" height="11.5" fill="#000"/>
<rect x="1203.8" y="230.2" width="11.5" height="11.5" fill="#000"/>
<rect x="1223.8" y="230.8" width="11.5" height="11.5" fill="#000"/>
<rect x="1213.8" y="236.2" width="11.5" height="11.5" fill="#000"/>
<rect x="1213.8" y="229.2" width="11.5" height="11.5" fill="#000"/>
<polygon points="1266.4,195.5 1272.5,207.1 1260.3,207.1" fill="#000"/>
<polygon points="1257.7,207.9 1263.8,219.5 1251.6,219.5" fill="#000"/>
<polygon points="1275.6,212.8 1281.7,224.4 1269.5,224.4" fill="#000"/>
<polygon points="1266.4,218.3 1272.5,229.9 1260.3,229.9" fill="#000"/>
<polygon points="1312.8,221.1 1318.9,209.5 1306.7,209.5" fill="#000"/>
<polygon points="1304.5,234.4 1310.6,222.8 1298.4,222.8" fill="#000"/>
<polygon points="1321.8,237.5 1327.9,225.9 1315.7,225.9" fill="#000"/>
<polygon points="1312.8,241.8 1318.9,230.2 1306.7,230.2" fill="#000"/>
<polygon points="1359.6,216.2 1365.8,222.4 1359.6,228.6 1353.4,222.4" fill="#000"/>
<polygon points="1350.7,227.3 1356.9,233.5 1350.7,239.7 1344.5,233.5" fill="#000"/>
<polygon points="1368.6,229.7 1374.8,235.9 1368.6,242.1 1362.4,235.9" fill="#000"/>
<polygon points="1359.3,232.8 1365.5,239 1359.3,245.2 1353.1,239" fill="#000"/>
<line x1="1150" y1="89.2" x2="1150" y2="325.6" stroke="#000" stroke-width="2.2"/>
<line x1="1143.7" y1="324.5" x2="1384" y2="324.5" stroke="#000" stroke-width="2.2"/>
<line x1="1142.5" y1="324.5" x2="1150" y2="324.5" stroke="#000" stroke-width="2.2"/>
<text x="1139" y="333.2" font-size="22.5" text-anchor="end">0.00</text>
<line x1="1142.5" y1="277.7" x2="1150" y2="277.7" stroke="#000" stroke-width="2.2"/>
<text x="1139" y="286.3" font-size="22.5" text-anchor="end">0.25</text>
<line x1="1142.5" y1="230.8" x2="1150" y2="230.8" stroke="#000" stroke-width="2.2"/>
<text x="1139" y="239.5" font-size="22.5" text-anchor="end">0.50</text>
<line x1="1142.5" y1="184" x2="1150" y2="184" stroke="#000" stroke-width="2.2"/>
<text x="1139" y="192.6" font-size="22.5" text-anchor="end">0.75</text>
<line x1="1142.5" y1="137.1" x2="1150" y2="137.1" stroke="#000" stroke-width="2.2"/>
<text x="1139" y="145.8" font-size="22.5" text-anchor="end">1.00</text>
<line x1="1142.5" y1="90.3" x2="1150" y2="90.3" stroke="#000" stroke-width="2.2"/>
<text x="1139" y="99" font-size="22.5" text-anchor="end">1.25</text>
<line x1="1173.4" y1="324.5" x2="1173.4" y2="331.3" stroke="#000" stroke-width="2.2"/>
<line x1="1219.4" y1="324.5" x2="1219.4" y2="331.3" stroke="#000" stroke-width="2.2"/>
<line x1="1266.3" y1="324.5" x2="1266.3" y2="331.3" stroke="#000" stroke-width="2.2"/>
<line x1="1313" y1="324.5" x2="1313" y2="331.3" stroke="#000" stroke-width="2.2"/>
<line x1="1359.7" y1="324.5" x2="1359.7" y2="331.3" stroke="#000" stroke-width="2.2"/>
<text x="1173.4" y="356.2" font-size="23" text-anchor="middle">NT</text>
<text x="1219.4" y="356.2" font-size="23" text-anchor="middle">Phe</text>
<text x="1266.3" y="356.2" font-size="23" text-anchor="middle">Clo</text>
<text x="1313" y="356.2" font-size="23" text-anchor="middle">Moc</text>
<text x="1359.7" y="356.2" font-size="23" text-anchor="middle">Pir</text>
<text x="1053.4" y="204.5" font-size="25.7" text-anchor="middle" transform="rotate(-90 1053.4 204.5)">ROS levels</text>
<text x="1086.9" y="204.3" font-size="25.3" text-anchor="middle" transform="rotate(-90 1086.9 204.3)">(fold change)</text>
<path d="M1171.9 90.2 V83.4 H1223.7 V90.2" fill="none" stroke="#000" stroke-width="2.2" stroke-linejoin="round" stroke-linecap="round"/>
<text transform="translate(1199.6 86.1) scale(1.11 0.865)" font-size="25" text-anchor="middle">***</text>
<path d="M1171.9 68.4 V61.6 H1268.6 V68.4" fill="none" stroke="#000" stroke-width="2.2" stroke-linejoin="round" stroke-linecap="round"/>
<text transform="translate(1222 64.3) scale(1.11 0.865)" font-size="25" text-anchor="middle">***</text>
<path d="M1171.9 46.6 V39.8 H1318.6 V46.6" fill="none" stroke="#000" stroke-width="2.2" stroke-linejoin="round" stroke-linecap="round"/>
<text transform="translate(1243.7 42.5) scale(1.11 0.865)" font-size="25" text-anchor="middle">***</text>
<path d="M1171.9 24 V17.2 H1362.2 V24" fill="none" stroke="#000" stroke-width="2.2" stroke-linejoin="round" stroke-linecap="round"/>
<text transform="translate(1266.8 19.9) scale(1.11 0.865)" font-size="25" text-anchor="middle">***</text>
<text x="0" y="397.7" font-size="41" font-weight="bold">c</text>
<path d="M162.9 652.2 L162.9 652.2 L163.8 652.2 L164.8 652.2 L165.8 652.2 L166.8 652.2 L167.8 652.2 L168.7 652.2 L169.7 652.2 L170.7 652.2 L171.7 652.2 L172.7 652.2 L173.6 652.2 L174.6 652.2 L175.6 652.2 L176.6 652.2 L177.6 652 L178.5 651.5 L179.5 650.9 L180.5 650.4 L181.5 649.7 L182.5 649.2 L183.4 648.7 L184.4 648.2 L185.4 647.9 L186.4 646.9 L187.4 645.6 L188.3 644.1 L189.3 642.3 L190.3 640.8 L191.3 639.2 L192.3 638.4 L193.2 637.3 L194.2 635.8 L195.2 633.9 L196.2 632 L197.2 630.4 L198.1 628.6 L199.1 627.2 L200.1 624.9 L201.1 622.1 L202.1 619.2 L203 616.1 L204 613.1 L205 610.9 L206 608.6 L207 607.4 L207.9 604.8 L208.9 602.9 L209.9 599.8 L210.9 597.9 L211.9 597.6 L212.8 593.4 L213.8 587.9 L214.8 586.8 L215.8 584.6 L216.8 583.6 L217.7 582.2 L218.7 579.5 L219.7 577.8 L220.7 577 L221.7 573.5 L222.6 568.7 L223.6 564.1 L224.6 564.1 L225.6 565.6 L226.6 565.8 L227.6 566.3 L228.5 567.1 L229.5 566.8 L230.5 568.6 L231.5 564.6 L232.5 562 L233.4 562.1 L234.4 560.4 L235.4 561 L236.4 560.2 L237.4 562.6 L238.3 563.6 L239.3 565.3 L240.3 565 L241.3 563 L242.3 562.5 L243.2 562.9 L244.2 562.6 L245.2 564.8 L246.2 565.4 L247.2 565.2 L248.1 566.9 L249.1 569.2 L250.1 568 L251.1 566.8 L252.1 563.5 L253 559.8 L254 560 L255 560.3 L256 561.1 L257 561.4 L257.9 560.5 L258.9 560.7 L259.9 559.5 L260.9 559.3 L261.9 558.6 L262.8 556.4 L263.8 551.8 L264.8 546.5 L265.8 544.3 L266.8 543.8 L267.7 542 L268.7 539.2 L269.7 538.9 L270.7 539.6 L271.7 538.1 L272.6 533.5 L273.6 529.5 L274.6 528.8 L275.6 526.1 L276.6 525.1 L277.5 522.8 L278.5 515.6 L279.5 508.8 L280.5 507.2 L281.5 507.9 L282.4 508.4 L283.4 501.8 L284.4 497 L285.4 491.1 L286.4 490.4 L287.3 489.7 L288.3 488.2 L289.3 485 L290.3 485.7 L291.3 483.2 L292.2 479.3 L293.2 475 L294.2 472.7 L295.2 471.7 L296.2 468.1 L297.1 467.7 L298.1 465.6 L299.1 462.4 L300.1 460.2 L301.1 458.7 L302.1 455.2 L303 457.5 L304 464.9 L305 471.5 L306 474.7 L307 478.4 L307.9 482.8 L308.9 486.4 L309.9 490.1 L310.9 494.9 L311.9 499.5 L312.8 504.8 L313.8 513.5 L314.8 520.3 L315.8 526.6 L316.8 530.4 L317.7 538.4 L318.7 542.6 L319.7 547.1 L320.7 554.7 L321.7 565.7 L322.6 575.1 L323.6 585 L324.6 588.8 L325.6 593 L326.6 598.7 L327.5 605.3 L328.5 611.4 L329.5 616.3 L330.5 619.1 L331.5 622.4 L332.4 625.8 L333.4 629.8 L334.4 633.9 L335.4 637.5 L336.4 639.5 L337.3 640.5 L338.3 642.1 L339.3 643.9 L340.3 645.8 L341.3 647.5 L342.2 649 L343.2 650.2 L344.2 650.5 L345.2 650.7 L346.2 651 L347.1 651.3 L348.1 651.6 L349.1 651.9 L350.1 652.1 L351.1 652.2 L352 652.2 L353 652.2 L354 652.2 L355 652.2 L356 652.2 L356.9 652.2 L357.9 652.2 L358.9 652.2 L359.9 652.2 L360.9 652.2 L361.8 652.2 L362.8 652.2 L363.8 652.2 L364.8 652.2 L365.8 652.2 L366.7 652.2 L367.7 652.2 L368.7 652.2 L369.7 652.2 L370.7 652.2 L371.6 652.2 L372.6 652.2 L373.6 652.2 L374.6 652.2 L375.6 652.2 L376.6 652.2 L377.5 652.2 L378.5 652.2 L378.5 652.2 Z" fill="#808080"/>
<polyline points="162.9,651.9 163.8,651.7 164.7,651.7 165.5,651.6 166.4,651.5 167.3,651.2 168.2,651.1 169.1,651 170,650.8 170.9,650.8 171.8,650.7 172.7,650.5 173.6,650.3 174.5,650.3 175.4,650.1 176.3,649.8 177.2,649.2 178.1,648.5 179,647.2 179.9,646.3 180.8,645.3 181.7,644.6 182.6,644.3 183.5,643.5 184.4,642.6 185.3,641.5 186.2,638.8 187.1,637.2 188,635.3 188.9,632.3 189.8,631.3 190.7,628.6 191.6,627.9 192.5,625.1 193.4,622 194.3,617.9 195.2,614.4 196.1,610.7 197,605.3 197.9,603.9 198.8,600.4 199.7,598.6 200.6,592.4 201.5,587.6 202.4,582.6 203.3,577.1 204.2,572.4 205.1,567 206,565.2 206.9,561 207.8,556.8 208.7,554.9 209.6,546.8 210.5,541.5 211.4,538.5 212.3,534.6 213.2,531.5 214.1,529.1 215,522.6 215.9,522 216.8,521.6 217.7,518.6 218.6,511.8 219.5,507 220.4,507.2 221.3,504.7 222.2,500.8 223.1,495.9 224,495.6 224.9,492.8 225.8,495.1 226.7,496.9 227.6,500.7 228.4,501.1 229.3,500.6 230.2,498.1 231.1,501.7 232,500.8 232.9,498.4 233.8,491.8 234.7,491.9 235.6,491 236.5,495.1 237.4,500.8 238.3,501.6 239.2,503.5 240.1,505.2 241,507.8 241.9,512.7 242.8,508.9 243.7,507.7 244.6,508.1 245.5,505.5 246.4,509.6 247.3,513.7 248.2,517.9 249.1,517.5 250,522.4 250.9,524.9 251.8,523.6 252.7,525.4 253.6,527.5 254.5,526.9 255.4,531.6 256.3,531.5 257.2,532 258.1,532.6 259,535.1 259.9,536.9 260.8,536.8 261.7,533.6 262.6,528.9 263.5,524.8 264.4,521.5 265.3,521.2 266.2,519.6 267.1,523.9 268,524.9 268.9,528.5 269.8,525.3 270.7,519.4 271.6,516.9 272.5,514.6 273.4,512.8 274.3,509.5 275.2,504.2 276.1,498.8 277,498.9 277.9,495.7 278.8,494.2 279.7,488.1 280.6,489.2 281.5,482.9 282.4,479.5 283.3,481.8 284.2,474.7 285.1,470.5 286,465.9 286.9,465.6 287.8,466.5 288.7,464.1 289.6,458.9 290.5,457.7 291.3,461.4 292.2,460.8 293.1,459.4 294,458.2 294.9,453.7 295.8,454 296.7,447.8 297.6,448.4 298.5,453.6 299.4,453.5 300.3,457.3 301.2,457.9 302.1,463.4 303,469.1 303.9,474.3 304.8,476.7 305.7,478.2 306.6,484.1 307.5,492 308.4,491.7 309.3,495.2 310.2,502.2 311.1,508.6 312,517 312.9,520.8 313.8,531.8 314.7,538 315.6,547.2 316.5,550.5 317.4,560.5 318.3,568.3 319.2,578.7 320.1,586.6 321,589.5 321.9,594.5 322.8,599.1 323.7,607.2 324.6,613.3 325.5,618.9 326.4,622.4 327.3,625.8 328.2,627.4 329.1,630.6 330,633.6 330.9,636.8 331.8,640.6 332.7,643 333.6,645.1 334.5,645.8 335.4,646.6 336.3,646.9 337.2,647.6 338.1,648.7 339,649.5 339.9,650 340.8,650.9 341.7,651.4 342.6,651.6 343.5,651.6 344.4,651.6 345.3,651.6 346.2,651.6 347.1,651.7 348,651.6 348.9,651.6 349.8,651.7 350.7,651.7 351.6,651.7 352.5,651.7 353.4,651.7 354.2,651.7 355.1,651.7 356,651.7 356.9,651.7 357.8,651.7 358.7,651.8 359.6,651.8 360.5,651.8 361.4,651.8 362.3,651.8 363.2,651.8 364.1,651.9 365,651.8 365.9,651.8 366.8,651.8 367.7,651.8 368.6,651.9 369.5,651.9 370.4,651.9 371.3,651.9 372.2,651.9 373.1,651.9 374,651.9 374.9,652 375.8,651.9 376.7,652 377.6,651.9 378.5,651.9" fill="none" stroke="#00ee00" stroke-width="3.3" stroke-linejoin="round"/>
<polyline points="162.9,651.5 163.8,651.5 164.7,651.4 165.5,651 166.4,651 167.3,650.8 168.2,650.4 169.1,650.3 170,650 170.9,650 171.8,649.7 172.7,649.3 173.6,648.5 174.5,647.4 175.4,646.5 176.3,645.3 177.2,644.5 178.1,644.1 179,642.9 179.9,641.9 180.8,640.2 181.7,638 182.6,634.7 183.5,632.4 184.4,629.5 185.3,627.6 186.2,625.7 187.1,624.4 188,621.2 188.9,617.7 189.8,614.4 190.7,608.8 191.6,606.3 192.5,601.9 193.4,598.9 194.3,596.7 195.2,593.3 196.1,585.5 197,579.3 197.9,574 198.8,567.8 199.7,559.9 200.6,556.6 201.5,549.4 202.4,547.8 203.3,542.9 204.2,537.7 205.1,530.5 206,523.3 206.9,520.9 207.8,516.5 208.7,511.9 209.6,507.3 210.5,498.1 211.4,490.7 212.3,484.7 213.2,479.6 214.1,478.9 215,479.5 215.9,471.9 216.8,473.6 217.7,471.7 218.6,470.4 219.5,464.8 220.4,462 221.3,462.8 222.2,463.1 223.1,464.6 224,459.3 224.9,463.5 225.8,460.1 226.7,459.3 227.6,457.3 228.4,455.4 229.3,456.6 230.2,458.6 231.1,456.5 232,455.7 232.9,457.3 233.8,461.1 234.7,459.1 235.6,464 236.5,463.1 237.4,463.2 238.3,465.6 239.2,470.8 240.1,469.9 241,474 241.9,476.2 242.8,478.4 243.7,478.1 244.6,480.7 245.5,483 246.4,482.5 247.3,484.1 248.2,486.8 249.1,485.4 250,486 250.9,487.8 251.8,486.7 252.7,493 253.6,491.4 254.5,491.6 255.4,494 256.3,497.6 257.2,498.4 258.1,503.3 259,506 259.9,503.6 260.8,493.5 261.7,492 262.6,490 263.5,485.1 264.4,479.6 265.3,474.7 266.2,482.3 267.1,486.2 268,491.1 268.9,490.4 269.8,490.9 270.7,488.8 271.6,485.2 272.5,482.9 273.4,482.5 274.3,485.5 275.2,481.1 276.1,475.5 277,477.7 277.9,474.6 278.8,471.8 279.7,470.9 280.6,466.7 281.5,465 282.4,464.9 283.3,465.4 284.2,465.5 285.1,465.3 286,466.5 286.9,462.8 287.8,466 288.7,461.2 289.6,462.4 290.5,465.6 291.3,462.4 292.2,461.3 293.1,464.5 294,461.6 294.9,465.7 295.8,462.9 296.7,469.5 297.6,467.5 298.5,466.7 299.4,475.4 300.3,493.6 301.2,502.4 302.1,505 303,504.7 303.9,502.7 304.8,503.4 305.7,512 306.6,516.5 307.5,521.7 308.4,528.3 309.3,530.2 310.2,537 311.1,545.7 312,551.5 312.9,554.4 313.8,563 314.7,572.5 315.6,580.1 316.5,586.6 317.4,588.3 318.3,594.1 319.2,599.8 320.1,606.3 321,612.6 321.9,619.8 322.8,623.5 323.7,624.6 324.6,627.3 325.5,630.9 326.4,633.8 327.3,637.7 328.2,640.8 329.1,643.6 330,645.3 330.9,646 331.8,646.4 332.7,646.8 333.6,648 334.5,648.6 335.4,649.3 336.3,650.1 337.2,650.8 338.1,651.3 339,651.6 339.9,651.6 340.8,651.6 341.7,651.6 342.6,651.6 343.5,651.7 344.4,651.7 345.3,651.7 346.2,651.6 347.1,651.6 348,651.6 348.9,651.7 349.8,651.7 350.7,651.7 351.6,651.7 352.5,651.7 353.4,651.7 354.2,651.7 355.1,651.7 356,651.7 356.9,651.7 357.8,651.8 358.7,651.8 359.6,651.8 360.5,651.8 361.4,651.8 362.3,651.8 363.2,651.9 364.1,651.9 365,651.9 365.9,651.9 366.8,651.9 367.7,651.9 368.6,651.9 369.5,651.9 370.4,651.9 371.3,651.9 372.2,651.9 373.1,651.9 374,651.9 374.9,651.9 375.8,652 376.7,652 377.6,651.9 378.5,652" fill="none" stroke="#4444ff" stroke-width="3.3" stroke-linejoin="round"/>
<polyline points="162.9,651.8 163.8,651.7 164.7,651.6 165.5,651.6 166.4,651.4 167.3,651.2 168.2,651 169.1,651 170,650.8 170.9,650.6 171.8,650.5 172.7,650.3 173.6,650.3 174.5,650.2 175.4,649.5 176.3,648.8 177.2,648 178.1,647 179,646.2 179.9,645.5 180.8,644.2 181.7,643.6 182.6,643.1 183.5,642.1 184.4,640.1 185.3,638.7 186.2,636.1 187.1,634.3 188,631.9 188.9,630 189.8,629.1 190.7,627.6 191.6,624.1 192.5,620.1 193.4,616.3 194.3,612.4 195.2,608.1 196.1,605.8 197,603.3 197.9,600.6 198.8,595.7 199.7,592.9 200.6,588 201.5,582.7 202.4,577.6 203.3,571.7 204.2,566.1 205.1,561.5 206,560.6 206.9,556.5 207.8,551.4 208.7,545.2 209.6,536.9 210.5,532.3 211.4,529.3 212.3,527.1 213.2,519.6 214.1,514.5 215,508.3 215.9,506.6 216.8,502.1 217.7,497.9 218.6,496.6 219.5,491.3 220.4,492.5 221.3,485.7 222.2,490.4 223.1,488.2 224,490.1 224.9,485.4 225.8,485.9 226.7,483.9 227.6,483.8 228.4,481.7 229.3,482.6 230.2,478.8 231.1,479.3 232,481.2 232.9,476.8 233.8,479.6 234.7,480.2 235.6,483.3 236.5,484.6 237.4,489.7 238.3,488 239.2,489.9 240.1,496.7 241,500.2 241.9,499.9 242.8,501.7 243.7,499.4 244.6,497.6 245.5,500.3 246.4,501 247.3,501.1 248.2,506.6 249.1,510 250,509.6 250.9,511.2 251.8,512.1 252.7,514.7 253.6,517.7 254.5,517.8 255.4,518 256.3,519.9 257.2,522.9 258.1,522.6 259,520.8 259.9,517.6 260.8,517.3 261.7,516.8 262.6,515 263.5,518 264.4,514.9 265.3,515.9 266.2,514.3 267.1,508.6 268,506.3 268.9,499.7 269.8,501.9 270.7,496.1 271.6,492.9 272.5,491.6 273.4,487.8 274.3,486.9 275.2,485.1 276.1,481.3 277,483.3 277.9,479.5 278.8,475.9 279.7,477.7 280.6,471 281.5,472.5 282.4,467.5 283.3,469.3 284.2,466.3 285.1,464.6 286,464.8 286.9,459.2 287.8,459.3 288.7,455.8 289.6,453.3 290.5,450 291.3,450.3 292.2,455.8 293.1,456.3 294,464.1 294.9,460.2 295.8,461.6 296.7,464.9 297.6,464.4 298.5,467.2 299.4,469.7 300.3,473.5 301.2,477.9 302.1,483.5 303,489.9 303.9,491.6 304.8,498.7 305.7,504.3 306.6,512.7 307.5,519.3 308.4,526.9 309.3,531.5 310.2,540.2 311.1,548.4 312,557 312.9,562.6 313.8,566.7 314.7,571.3 315.6,580.6 316.5,590 317.4,596 318.3,601 319.2,603.4 320.1,608.5 321,613.2 321.9,619.9 322.8,623.9 323.7,628.8 324.6,629.8 325.5,632.1 326.4,635.2 327.3,637.1 328.2,640.4 329.1,643 330,645.5 330.9,647 331.8,648.2 332.7,648.3 333.6,648.8 334.5,649.2 335.4,649.8 336.3,650.4 337.2,650.7 338.1,651.2 339,651.6 339.9,651.8 340.8,651.8 341.7,651.9 342.6,651.9 343.5,651.8 344.4,651.9 345.3,651.8 346.2,651.9 347.1,651.8 348,651.9 348.9,651.8 349.8,651.8 350.7,651.9 351.6,651.9 352.5,651.9 353.4,651.9 354.2,651.9 355.1,651.9 356,651.9 356.9,651.9 357.8,651.9 358.7,651.9 359.6,651.9 360.5,651.9 361.4,651.9 362.3,651.9 363.2,651.9 364.1,651.9 365,651.9 365.9,651.9 366.8,651.9 367.7,651.9 368.6,651.9 369.5,652 370.4,651.9 371.3,651.9 372.2,651.9 373.1,652 374,652 374.9,651.9 375.8,651.9 376.7,652 377.6,652 378.5,652" fill="none" stroke="#ff7f10" stroke-width="3.3" stroke-linejoin="round"/>
<polyline points="162.9,651.6 163.8,651.5 164.7,651.4 165.5,651.1 166.4,651.1 167.3,650.8 168.2,650.7 169.1,650.4 170,650.3 170.9,650 171.8,649.9 172.7,649.7 173.6,649.5 174.5,648.7 175.4,647.7 176.3,647.1 177.2,645.9 178.1,644.6 179,643.9 179.9,643.4 180.8,642.7 181.7,640.7 182.6,639.6 183.5,636.8 184.4,634.4 185.3,633.1 186.2,630.9 187.1,629.5 188,627.7 188.9,625.5 189.8,621.3 190.7,617.4 191.6,614.6 192.5,609.6 193.4,608 194.3,605.3 195.2,601.9 196.1,598.3 197,594.1 197.9,588.7 198.8,583.9 199.7,580.4 200.6,573.7 201.5,568.4 202.4,567.5 203.3,563.3 204.2,561.2 205.1,556.5 206,549.4 206.9,542.3 207.8,534.7 208.7,532.5 209.6,525.9 210.5,519.9 211.4,517.8 212.3,514.1 213.2,510.1 214.1,502.7 215,500.4 215.9,495.3 216.8,490.2 217.7,485.7 218.6,478.4 219.5,478.8 220.4,477.7 221.3,474.9 222.2,477.7 223.1,477.3 224,473.1 224.9,471.8 225.8,467.2 226.7,470.4 227.6,470.5 228.4,473.5 229.3,472.2 230.2,474 231.1,473.8 232,471.1 232.9,474.3 233.8,467.3 234.7,467.9 235.6,467.6 236.5,472.8 237.4,477.2 238.3,482.8 239.2,486.5 240.1,488.3 241,487.7 241.9,487.4 242.8,486.9 243.7,483.5 244.6,484.1 245.5,486.1 246.4,491.1 247.3,491.1 248.2,490.1 249.1,487.9 250,487.6 250.9,484.6 251.8,482.5 252.7,489.1 253.6,492.4 254.5,494.2 255.4,498.7 256.3,496.4 257.2,497.9 258.1,499.6 259,497 259.9,498.9 260.8,493.8 261.7,491.1 262.6,490.2 263.5,486.2 264.4,490.2 265.3,490 266.2,492.3 267.1,491.6 268,485.3 268.9,487.4 269.8,480.3 270.7,480.8 271.6,476.4 272.5,472.8 273.4,459.9 274.3,457.3 275.2,462.4 276.1,462.7 277,463.6 277.9,459.2 278.8,458.4 279.7,450 280.6,448.6 281.5,446 282.4,452.3 283.3,454.1 284.2,459.5 285.1,460.8 286,464.2 286.9,463.4 287.8,467.2 288.7,469.6 289.6,474.2 290.5,477.8 291.3,481.5 292.2,485.2 293.1,483.6 294,489.6 294.9,490.6 295.8,500.1 296.7,504.4 297.6,511.5 298.5,515 299.4,519.5 300.3,528.4 301.2,534.1 302.1,541.6 303,547.5 303.9,556 304.8,563.1 305.7,566.3 306.6,571.6 307.5,577.5 308.4,584.7 309.3,590.4 310.2,596.3 311.1,601 312,604.5 312.9,608.4 313.8,611.8 314.7,616.9 315.6,622.2 316.5,625.6 317.4,627.2 318.3,628.6 319.2,630.9 320.1,634.3 321,636.9 321.9,639.7 322.8,641.5 323.7,643.6 324.6,644.3 325.5,645.7 326.4,646.5 327.3,647.8 328.2,648.9 329.1,650.1 330,650.9 330.9,651 331.8,651 332.7,651.1 333.6,651.2 334.5,651.4 335.4,651.4 336.3,651.4 337.2,651.6 338.1,651.7 339,651.7 339.9,651.8 340.8,651.9 341.7,651.9 342.6,651.9 343.5,651.9 344.4,652 345.3,651.9 346.2,651.9 347.1,652 348,652 348.9,652 349.8,651.9 350.7,651.9 351.6,652 352.5,652 353.4,652 354.2,651.9 355.1,651.9 356,652 356.9,652 357.8,651.9 358.7,652 359.6,652 360.5,652 361.4,651.9 362.3,652 363.2,651.9 364.1,652 365,652 365.9,651.9 366.8,652 367.7,652 368.6,652 369.5,652 370.4,652 371.3,651.9 372.2,652 373.1,651.9 374,651.9 374.9,651.9 375.8,652 376.7,652 377.6,651.9 378.5,652" fill="none" stroke="#ff0000" stroke-width="3.4" stroke-linejoin="round"/>
<rect x="161.6" y="436.2" width="217.6" height="216" fill="none" stroke="#000" stroke-width="2.8"/>
<text x="148.6" y="660.9" font-size="22.5" text-anchor="end">0</text>
<text x="148.6" y="619.7" font-size="22.5" text-anchor="end">20</text>
<text x="148.6" y="578.5" font-size="22.5" text-anchor="end">40</text>
<text x="148.6" y="537.4" font-size="22.5" text-anchor="end">60</text>
<text x="148.6" y="496.2" font-size="22.5" text-anchor="end">80</text>
<text x="148.6" y="455.1" font-size="22.5" text-anchor="end">100</text>
<line x1="156.1" y1="652.2" x2="161.6" y2="652.2" stroke="#000" stroke-width="1.6"/>
<line x1="158.6" y1="641.9" x2="161.6" y2="641.9" stroke="#000" stroke-width="1"/>
<line x1="158.6" y1="631.6" x2="161.6" y2="631.6" stroke="#000" stroke-width="1"/>
<line x1="158.6" y1="621.3" x2="161.6" y2="621.3" stroke="#000" stroke-width="1"/>
<line x1="156.1" y1="611" x2="161.6" y2="611" stroke="#000" stroke-width="1.6"/>
<line x1="158.6" y1="600.8" x2="161.6" y2="600.8" stroke="#000" stroke-width="1"/>
<line x1="158.6" y1="590.5" x2="161.6" y2="590.5" stroke="#000" stroke-width="1"/>
<line x1="158.6" y1="580.2" x2="161.6" y2="580.2" stroke="#000" stroke-width="1"/>
<line x1="156.1" y1="569.9" x2="161.6" y2="569.9" stroke="#000" stroke-width="1.6"/>
<line x1="158.6" y1="559.6" x2="161.6" y2="559.6" stroke="#000" stroke-width="1"/>
<line x1="158.6" y1="549.3" x2="161.6" y2="549.3" stroke="#000" stroke-width="1"/>
<line x1="158.6" y1="539" x2="161.6" y2="539" stroke="#000" stroke-width="1"/>
<line x1="156.1" y1="528.7" x2="161.6" y2="528.7" stroke="#000" stroke-width="1.6"/>
<line x1="158.6" y1="518.4" x2="161.6" y2="518.4" stroke="#000" stroke-width="1"/>
<line x1="158.6" y1="508.1" x2="161.6" y2="508.1" stroke="#000" stroke-width="1"/>
<line x1="158.6" y1="497.9" x2="161.6" y2="497.9" stroke="#000" stroke-width="1"/>
<line x1="156.1" y1="487.6" x2="161.6" y2="487.6" stroke="#000" stroke-width="1.6"/>
<line x1="158.6" y1="477.3" x2="161.6" y2="477.3" stroke="#000" stroke-width="1"/>
<line x1="158.6" y1="467" x2="161.6" y2="467" stroke="#000" stroke-width="1"/>
<line x1="158.6" y1="456.7" x2="161.6" y2="456.7" stroke="#000" stroke-width="1"/>
<line x1="156.1" y1="446.4" x2="161.6" y2="446.4" stroke="#000" stroke-width="1.6"/>
<line x1="168" y1="652.2" x2="168" y2="657.2" stroke="#000" stroke-width="1.4"/>
<line x1="186" y1="652.2" x2="186" y2="657.2" stroke="#000" stroke-width="1.4"/>
<line x1="244.2" y1="652.2" x2="244.2" y2="657.2" stroke="#000" stroke-width="1.4"/>
<line x1="305.8" y1="652.2" x2="305.8" y2="657.2" stroke="#000" stroke-width="1.4"/>
<line x1="357.9" y1="652.2" x2="357.9" y2="657.2" stroke="#000" stroke-width="1.4"/>
<line x1="173.4" y1="652.2" x2="173.4" y2="654.8" stroke="#000" stroke-width="0.8"/>
<line x1="176.6" y1="652.2" x2="176.6" y2="654.8" stroke="#000" stroke-width="0.8"/>
<line x1="178.8" y1="652.2" x2="178.8" y2="654.8" stroke="#000" stroke-width="0.8"/>
<line x1="180.6" y1="652.2" x2="180.6" y2="654.8" stroke="#000" stroke-width="0.8"/>
<line x1="182" y1="652.2" x2="182" y2="654.8" stroke="#000" stroke-width="0.8"/>
<line x1="183.2" y1="652.2" x2="183.2" y2="654.8" stroke="#000" stroke-width="0.8"/>
<line x1="184.3" y1="652.2" x2="184.3" y2="654.8" stroke="#000" stroke-width="0.8"/>
<line x1="185.2" y1="652.2" x2="185.2" y2="654.8" stroke="#000" stroke-width="0.8"/>
<line x1="203.5" y1="652.2" x2="203.5" y2="654.8" stroke="#000" stroke-width="0.8"/>
<line x1="213.8" y1="652.2" x2="213.8" y2="654.8" stroke="#000" stroke-width="0.8"/>
<line x1="221" y1="652.2" x2="221" y2="654.8" stroke="#000" stroke-width="0.8"/>
<line x1="226.7" y1="652.2" x2="226.7" y2="654.8" stroke="#000" stroke-width="0.8"/>
<line x1="231.3" y1="652.2" x2="231.3" y2="654.8" stroke="#000" stroke-width="0.8"/>
<line x1="235.2" y1="652.2" x2="235.2" y2="654.8" stroke="#000" stroke-width="0.8"/>
<line x1="238.6" y1="652.2" x2="238.6" y2="654.8" stroke="#000" stroke-width="0.8"/>
<line x1="241.5" y1="652.2" x2="241.5" y2="654.8" stroke="#000" stroke-width="0.8"/>
<line x1="262.7" y1="652.2" x2="262.7" y2="654.8" stroke="#000" stroke-width="0.8"/>
<line x1="273.6" y1="652.2" x2="273.6" y2="654.8" stroke="#000" stroke-width="0.8"/>
<line x1="281.3" y1="652.2" x2="281.3" y2="654.8" stroke="#000" stroke-width="0.8"/>
<line x1="287.3" y1="652.2" x2="287.3" y2="654.8" stroke="#000" stroke-width="0.8"/>
<line x1="292.1" y1="652.2" x2="292.1" y2="654.8" stroke="#000" stroke-width="0.8"/>
<line x1="296.3" y1="652.2" x2="296.3" y2="654.8" stroke="#000" stroke-width="0.8"/>
<line x1="299.8" y1="652.2" x2="299.8" y2="654.8" stroke="#000" stroke-width="0.8"/>
<line x1="303" y1="652.2" x2="303" y2="654.8" stroke="#000" stroke-width="0.8"/>
<line x1="321.5" y1="652.2" x2="321.5" y2="654.8" stroke="#000" stroke-width="0.8"/>
<line x1="330.7" y1="652.2" x2="330.7" y2="654.8" stroke="#000" stroke-width="0.8"/>
<line x1="337.2" y1="652.2" x2="337.2" y2="654.8" stroke="#000" stroke-width="0.8"/>
<line x1="342.2" y1="652.2" x2="342.2" y2="654.8" stroke="#000" stroke-width="0.8"/>
<line x1="346.3" y1="652.2" x2="346.3" y2="654.8" stroke="#000" stroke-width="0.8"/>
<line x1="349.8" y1="652.2" x2="349.8" y2="654.8" stroke="#000" stroke-width="0.8"/>
<line x1="352.9" y1="652.2" x2="352.9" y2="654.8" stroke="#000" stroke-width="0.8"/>
<line x1="355.5" y1="652.2" x2="355.5" y2="654.8" stroke="#000" stroke-width="0.8"/>
<line x1="373.6" y1="652.2" x2="373.6" y2="654.8" stroke="#000" stroke-width="0.8"/>
<line x1="187" y1="652.2" x2="187" y2="654.8" stroke="#333" stroke-width="0.6"/>
<line x1="188.5" y1="652.2" x2="188.5" y2="654.8" stroke="#333" stroke-width="0.6"/>
<line x1="190" y1="652.2" x2="190" y2="654.8" stroke="#333" stroke-width="0.6"/>
<line x1="191.5" y1="652.2" x2="191.5" y2="654.8" stroke="#333" stroke-width="0.6"/>
<line x1="193.1" y1="652.2" x2="193.1" y2="654.8" stroke="#333" stroke-width="0.6"/>
<line x1="194.6" y1="652.2" x2="194.6" y2="654.8" stroke="#333" stroke-width="0.6"/>
<line x1="196.1" y1="652.2" x2="196.1" y2="654.8" stroke="#333" stroke-width="0.6"/>
<line x1="197.6" y1="652.2" x2="197.6" y2="654.8" stroke="#333" stroke-width="0.6"/>
<line x1="199.1" y1="652.2" x2="199.1" y2="654.8" stroke="#333" stroke-width="0.6"/>
<line x1="200.6" y1="652.2" x2="200.6" y2="654.8" stroke="#333" stroke-width="0.6"/>
<line x1="202.1" y1="652.2" x2="202.1" y2="654.8" stroke="#333" stroke-width="0.6"/>
<line x1="203.6" y1="652.2" x2="203.6" y2="654.8" stroke="#333" stroke-width="0.6"/>
<line x1="205.2" y1="652.2" x2="205.2" y2="654.8" stroke="#333" stroke-width="0.6"/>
<line x1="206.7" y1="652.2" x2="206.7" y2="654.8" stroke="#333" stroke-width="0.6"/>
<line x1="208.2" y1="652.2" x2="208.2" y2="654.8" stroke="#333" stroke-width="0.6"/>
<line x1="209.7" y1="652.2" x2="209.7" y2="654.8" stroke="#333" stroke-width="0.6"/>
<line x1="211.2" y1="652.2" x2="211.2" y2="654.8" stroke="#333" stroke-width="0.6"/>
<line x1="212.7" y1="652.2" x2="212.7" y2="654.8" stroke="#333" stroke-width="0.6"/>
<line x1="214.2" y1="652.2" x2="214.2" y2="654.8" stroke="#333" stroke-width="0.6"/>
<line x1="215.8" y1="652.2" x2="215.8" y2="654.8" stroke="#333" stroke-width="0.6"/>
<line x1="217.3" y1="652.2" x2="217.3" y2="654.8" stroke="#333" stroke-width="0.6"/>
<line x1="218.8" y1="652.2" x2="218.8" y2="654.8" stroke="#333" stroke-width="0.6"/>
<line x1="220.3" y1="652.2" x2="220.3" y2="654.8" stroke="#333" stroke-width="0.6"/>
<line x1="221.8" y1="652.2" x2="221.8" y2="654.8" stroke="#333" stroke-width="0.6"/>
<line x1="223.3" y1="652.2" x2="223.3" y2="654.8" stroke="#333" stroke-width="0.6"/>
<line x1="224.8" y1="652.2" x2="224.8" y2="654.8" stroke="#333" stroke-width="0.6"/>
<line x1="226.4" y1="652.2" x2="226.4" y2="654.8" stroke="#333" stroke-width="0.6"/>
<line x1="227.9" y1="652.2" x2="227.9" y2="654.8" stroke="#333" stroke-width="0.6"/>
<line x1="229.4" y1="652.2" x2="229.4" y2="654.8" stroke="#333" stroke-width="0.6"/>
<line x1="230.9" y1="652.2" x2="230.9" y2="654.8" stroke="#333" stroke-width="0.6"/>
<line x1="232.4" y1="652.2" x2="232.4" y2="654.8" stroke="#333" stroke-width="0.6"/>
<line x1="233.9" y1="652.2" x2="233.9" y2="654.8" stroke="#333" stroke-width="0.6"/>
<line x1="235.4" y1="652.2" x2="235.4" y2="654.8" stroke="#333" stroke-width="0.6"/>
<line x1="236.9" y1="652.2" x2="236.9" y2="654.8" stroke="#333" stroke-width="0.6"/>
<line x1="238.5" y1="652.2" x2="238.5" y2="654.8" stroke="#333" stroke-width="0.6"/>
<line x1="240" y1="652.2" x2="240" y2="654.8" stroke="#333" stroke-width="0.6"/>
<line x1="241.5" y1="652.2" x2="241.5" y2="654.8" stroke="#333" stroke-width="0.6"/>
<line x1="243" y1="652.2" x2="243" y2="654.8" stroke="#333" stroke-width="0.6"/>
<rect x="214.4" y="652.2" width="3.2" height="4.5" fill="#000"/>
<text x="216" y="688.6" font-size="22.8" text-anchor="middle">0</text>
<text x="294.5" y="688.6" font-size="22.8">10<tspan dy="-5.4" font-size="14.1">4</tspan></text>
<text x="344.5" y="688.6" font-size="22.8">10<tspan dy="-5.4" font-size="14.1">5</tspan></text>
<text x="94.3" y="576.5" font-size="26" text-anchor="middle" transform="rotate(-90 94.3 576.5)">Cell count</text>
<line x1="86" y1="496" x2="86" y2="459" stroke="#000" stroke-width="2.8"/>
<polygon points="86,444.5 96.9,465 86,459 75.1,465" fill="#000"/>
<text x="136.3" y="727.6" font-size="26">CD206 -PE/Cy7</text>
<line x1="329.7" y1="717.6" x2="367.8" y2="717.6" stroke="#000" stroke-width="2.8"/>
<polygon points="382.3,717.6 361.8,728.5 367.8,717.6 361.8,706.7" fill="#000"/>
<rect x="398.4" y="435.6" width="29.6" height="29.6" fill="#808080"/>
<text x="439.2" y="460.4" font-size="25">NT</text>
<rect x="400" y="475" width="26.4" height="26.4" fill="none" stroke="#ff0000" stroke-width="3.2"/>
<text x="439.2" y="498.2" font-size="25">Phe</text>
<rect x="400" y="512.2" width="26.4" height="26.4" fill="none" stroke="#00b050" stroke-width="3.2"/>
<text x="439.2" y="535.4" font-size="25">Clo</text>
<rect x="400" y="549.4" width="26.4" height="26.4" fill="none" stroke="#f4792b" stroke-width="3.2"/>
<text x="439.2" y="572.6" font-size="25">Moc</text>
<rect x="400" y="587" width="26.4" height="26.4" fill="none" stroke="#0000ff" stroke-width="3.2"/>
<text x="439.2" y="610.2" font-size="25">Pir</text>
<rect x="640.5" y="517.6" width="33" height="194.1" fill="#808080" stroke="#000" stroke-width="2.2"/>
<rect x="689.5" y="615.5" width="33" height="96.2" fill="#ff0000" stroke="#000" stroke-width="2.2"/>
<rect x="738" y="608.9" width="33" height="102.8" fill="#00c000" stroke="#000" stroke-width="2.2"/>
<rect x="787" y="608.9" width="33" height="102.8" fill="#ff6600" stroke="#000" stroke-width="2.2"/>
<rect x="835.7" y="596.9" width="33" height="114.8" fill="#5b5bfb" stroke="#000" stroke-width="2.2"/>
<line x1="657" y1="516.3" x2="657" y2="518.9" stroke="#000" stroke-width="2.2"/>
<line x1="650" y1="516.3" x2="664" y2="516.3" stroke="#000" stroke-width="2.2"/>
<line x1="650" y1="518.9" x2="664" y2="518.9" stroke="#000" stroke-width="2.2"/>
<line x1="706" y1="611.5" x2="706" y2="619.4" stroke="#000" stroke-width="2.2"/>
<line x1="699" y1="611.5" x2="713" y2="611.5" stroke="#000" stroke-width="2.2"/>
<line x1="699" y1="619.4" x2="713" y2="619.4" stroke="#000" stroke-width="2.2"/>
<line x1="754.5" y1="600.8" x2="754.5" y2="617.1" stroke="#000" stroke-width="2.2"/>
<line x1="747.5" y1="600.8" x2="761.5" y2="600.8" stroke="#000" stroke-width="2.2"/>
<line x1="747.5" y1="617.1" x2="761.5" y2="617.1" stroke="#000" stroke-width="2.2"/>
<line x1="803.5" y1="607" x2="803.5" y2="610.9" stroke="#000" stroke-width="2.2"/>
<line x1="796.5" y1="607" x2="810.5" y2="607" stroke="#000" stroke-width="2.2"/>
<line x1="796.5" y1="610.9" x2="810.5" y2="610.9" stroke="#000" stroke-width="2.2"/>
<line x1="852.2" y1="595.5" x2="852.2" y2="598.2" stroke="#000" stroke-width="2.2"/>
<line x1="845.2" y1="595.5" x2="859.2" y2="595.5" stroke="#000" stroke-width="2.2"/>
<line x1="845.2" y1="598.2" x2="859.2" y2="598.2" stroke="#000" stroke-width="2.2"/>
<circle cx="648" cy="517.3" r="5.8" fill="#000"/>
<circle cx="657.2" cy="519.5" r="5.8" fill="#000"/>
<circle cx="666.6" cy="517.7" r="5.8" fill="#000"/>
<rect x="691.2" y="604.2" width="11.5" height="11.5" fill="#000"/>
<rect x="709.1" y="607.1" width="11.5" height="11.5" fill="#000"/>
<rect x="700.1" y="618" width="11.5" height="11.5" fill="#000"/>
<polygon points="747.4,596.1 753.5,607.7 741.3,607.7" fill="#000"/>
<polygon points="762.4,596.5 768.5,608.1 756.3,608.1" fill="#000"/>
<polygon points="755.1,617.7 761.2,629.3 749,629.3" fill="#000"/>
<polygon points="794.6,612.3 800.7,600.7 788.5,600.7" fill="#000"/>
<polygon points="812.8,613 818.9,601.4 806.7,601.4" fill="#000"/>
<polygon points="803.6,620.7 809.7,609.1 797.5,609.1" fill="#000"/>
<polygon points="843.6,587.7 849.8,593.9 843.6,600.1 837.4,593.9" fill="#000"/>
<polygon points="861.5,590.6 867.7,596.8 861.5,603 855.3,596.8" fill="#000"/>
<polygon points="852.6,594.5 858.8,600.7 852.6,606.9 846.4,600.7" fill="#000"/>
<line x1="632.9" y1="465.9" x2="632.9" y2="712.8" stroke="#000" stroke-width="2.2"/>
<line x1="625.7" y1="711.7" x2="877.6" y2="711.7" stroke="#000" stroke-width="2.2"/>
<line x1="625.4" y1="711.7" x2="632.9" y2="711.7" stroke="#000" stroke-width="2.2"/>
<text x="621.9" y="720.4" font-size="22.5" text-anchor="end">0</text>
<line x1="625.4" y1="630.1" x2="632.9" y2="630.1" stroke="#000" stroke-width="2.2"/>
<text x="621.9" y="638.8" font-size="22.5" text-anchor="end">2500</text>
<line x1="625.4" y1="548.6" x2="632.9" y2="548.6" stroke="#000" stroke-width="2.2"/>
<text x="621.9" y="557.2" font-size="22.5" text-anchor="end">5000</text>
<line x1="625.4" y1="467" x2="632.9" y2="467" stroke="#000" stroke-width="2.2"/>
<text x="621.9" y="475.7" font-size="22.5" text-anchor="end">7500</text>
<line x1="657" y1="711.7" x2="657" y2="718.5" stroke="#000" stroke-width="2.2"/>
<line x1="706" y1="711.7" x2="706" y2="718.5" stroke="#000" stroke-width="2.2"/>
<line x1="754.5" y1="711.7" x2="754.5" y2="718.5" stroke="#000" stroke-width="2.2"/>
<line x1="803.5" y1="711.7" x2="803.5" y2="718.5" stroke="#000" stroke-width="2.2"/>
<line x1="852.2" y1="711.7" x2="852.2" y2="718.5" stroke="#000" stroke-width="2.2"/>
<text x="657" y="743.9" font-size="23" text-anchor="middle">NT</text>
<text x="706" y="743.9" font-size="23" text-anchor="middle">Phe</text>
<text x="754.5" y="743.9" font-size="23" text-anchor="middle">Clo</text>
<text x="803.5" y="743.9" font-size="23" text-anchor="middle">Moc</text>
<text x="852.2" y="743.9" font-size="23" text-anchor="middle">Pir</text>
<text x="561.4" y="587.4" font-size="26.5" text-anchor="middle" transform="rotate(-90 561.4 587.4)">CD206 (MFI)</text>
<path d="M656.5 490.4 V483.6 H710.4 V490.4" fill="none" stroke="#000" stroke-width="2.2" stroke-linejoin="round" stroke-linecap="round"/>
<text transform="translate(685.2 485.5) scale(1.11 0.865)" font-size="25" text-anchor="middle">***</text>
<path d="M656.5 465.8 V459 H755.8 V465.8" fill="none" stroke="#000" stroke-width="2.2" stroke-linejoin="round" stroke-linecap="round"/>
<text transform="translate(706.5 460.9) scale(1.11 0.865)" font-size="25" text-anchor="middle">***</text>
<path d="M656.5 442.2 V435.4 H806 V442.2" fill="none" stroke="#000" stroke-width="2.2" stroke-linejoin="round" stroke-linecap="round"/>
<text transform="translate(732 437.3) scale(1.11 0.865)" font-size="25" text-anchor="middle">***</text>
<path d="M656.5 417.8 V411 H850.7 V417.8" fill="none" stroke="#000" stroke-width="2.2" stroke-linejoin="round" stroke-linecap="round"/>
<text transform="translate(759 412.9) scale(1.11 0.865)" font-size="25" text-anchor="middle">***</text>
<text x="927" y="397.7" font-size="41" font-weight="bold">d</text>
<rect x="1157.2" y="513.1" width="32" height="198.6" fill="#808080" stroke="#000" stroke-width="2.2"/>
<rect x="1205" y="574.7" width="32" height="137" fill="#ff0000" stroke="#000" stroke-width="2.2"/>
<rect x="1253" y="565.7" width="32" height="146" fill="#00c000" stroke="#000" stroke-width="2.2"/>
<rect x="1300.4" y="557.8" width="32" height="153.9" fill="#ff6600" stroke="#000" stroke-width="2.2"/>
<rect x="1348.3" y="560.8" width="32" height="150.9" fill="#5b5bfb" stroke="#000" stroke-width="2.2"/>
<line x1="1173.2" y1="504.8" x2="1173.2" y2="521.5" stroke="#000" stroke-width="2.2"/>
<line x1="1166.2" y1="504.8" x2="1180.2" y2="504.8" stroke="#000" stroke-width="2.2"/>
<line x1="1166.2" y1="521.5" x2="1180.2" y2="521.5" stroke="#000" stroke-width="2.2"/>
<line x1="1221" y1="572.3" x2="1221" y2="577.1" stroke="#000" stroke-width="2.2"/>
<line x1="1214" y1="572.3" x2="1228" y2="572.3" stroke="#000" stroke-width="2.2"/>
<line x1="1214" y1="577.1" x2="1228" y2="577.1" stroke="#000" stroke-width="2.2"/>
<line x1="1269" y1="563.4" x2="1269" y2="568.1" stroke="#000" stroke-width="2.2"/>
<line x1="1262" y1="563.4" x2="1276" y2="563.4" stroke="#000" stroke-width="2.2"/>
<line x1="1262" y1="568.1" x2="1276" y2="568.1" stroke="#000" stroke-width="2.2"/>
<line x1="1316.4" y1="553.4" x2="1316.4" y2="562.2" stroke="#000" stroke-width="2.2"/>
<line x1="1309.4" y1="553.4" x2="1323.4" y2="553.4" stroke="#000" stroke-width="2.2"/>
<line x1="1309.4" y1="562.2" x2="1323.4" y2="562.2" stroke="#000" stroke-width="2.2"/>
<line x1="1364.3" y1="557.8" x2="1364.3" y2="563.8" stroke="#000" stroke-width="2.2"/>
<line x1="1357.3" y1="557.8" x2="1371.3" y2="557.8" stroke="#000" stroke-width="2.2"/>
<line x1="1357.3" y1="563.8" x2="1371.3" y2="563.8" stroke="#000" stroke-width="2.2"/>
<circle cx="1166.3" cy="497.6" r="5.8" fill="#000"/>
<circle cx="1180.8" cy="502.1" r="5.8" fill="#000"/>
<circle cx="1180.8" cy="523.2" r="5.8" fill="#000"/>
<circle cx="1166.3" cy="530.9" r="5.8" fill="#000"/>
<rect x="1208.3" y="567.2" width="11.5" height="11.5" fill="#000"/>
<rect x="1222.5" y="564" width="11.5" height="11.5" fill="#000"/>
<rect x="1221.2" y="571" width="11.5" height="11.5" fill="#000"/>
<rect x="1211.5" y="574.2" width="11.5" height="11.5" fill="#000"/>
<polygon points="1261.6,558.8 1267.7,570.4 1255.5,570.4" fill="#000"/>
<polygon points="1275.7,556.9 1281.8,568.5 1269.6,568.5" fill="#000"/>
<polygon points="1264.8,567.8 1270.9,579.4 1258.7,579.4" fill="#000"/>
<polygon points="1273,560.5 1279.1,572.1 1266.9,572.1" fill="#000"/>
<polygon points="1316.8,554.5 1322.9,542.9 1310.7,542.9" fill="#000"/>
<polygon points="1307.1,558.3 1313.2,546.7 1301,546.7" fill="#000"/>
<polygon points="1327,563.5 1333.1,551.9 1320.9,551.9" fill="#000"/>
<polygon points="1316.8,575 1322.9,563.4 1310.7,563.4" fill="#000"/>
<polygon points="1364.5,545.6 1370.7,551.8 1364.5,558 1358.3,551.8" fill="#000"/>
<polygon points="1355.9,552.3 1362.1,558.5 1355.9,564.7 1349.7,558.5" fill="#000"/>
<polygon points="1373.4,555.6 1379.6,561.8 1373.4,568 1367.2,561.8" fill="#000"/>
<polygon points="1364.2,564.6 1370.4,570.8 1364.2,577 1358,570.8" fill="#000"/>
<line x1="1149.6" y1="472.3" x2="1149.6" y2="712.8" stroke="#000" stroke-width="2.2"/>
<line x1="1143" y1="711.7" x2="1389.5" y2="711.7" stroke="#000" stroke-width="2.2"/>
<line x1="1142.1" y1="711.7" x2="1149.6" y2="711.7" stroke="#000" stroke-width="2.2"/>
<text x="1140.6" y="720.4" font-size="22.5" text-anchor="end">0.0</text>
<line x1="1142.1" y1="672" x2="1149.6" y2="672" stroke="#000" stroke-width="2.2"/>
<text x="1140.6" y="680.6" font-size="22.5" text-anchor="end">0.2</text>
<line x1="1142.1" y1="632.3" x2="1149.6" y2="632.3" stroke="#000" stroke-width="2.2"/>
<text x="1140.6" y="640.9" font-size="22.5" text-anchor="end">0.4</text>
<line x1="1142.1" y1="592.5" x2="1149.6" y2="592.5" stroke="#000" stroke-width="2.2"/>
<text x="1140.6" y="601.2" font-size="22.5" text-anchor="end">0.6</text>
<line x1="1142.1" y1="552.8" x2="1149.6" y2="552.8" stroke="#000" stroke-width="2.2"/>
<text x="1140.6" y="561.5" font-size="22.5" text-anchor="end">0.8</text>
<line x1="1142.1" y1="513.1" x2="1149.6" y2="513.1" stroke="#000" stroke-width="2.2"/>
<text x="1140.6" y="521.8" font-size="22.5" text-anchor="end">1.0</text>
<line x1="1142.1" y1="473.4" x2="1149.6" y2="473.4" stroke="#000" stroke-width="2.2"/>
<text x="1140.6" y="482.1" font-size="22.5" text-anchor="end">1.2</text>
<line x1="1173.2" y1="711.7" x2="1173.2" y2="718.5" stroke="#000" stroke-width="2.2"/>
<line x1="1221" y1="711.7" x2="1221" y2="718.5" stroke="#000" stroke-width="2.2"/>
<line x1="1269" y1="711.7" x2="1269" y2="718.5" stroke="#000" stroke-width="2.2"/>
<line x1="1316.4" y1="711.7" x2="1316.4" y2="718.5" stroke="#000" stroke-width="2.2"/>
<line x1="1364.3" y1="711.7" x2="1364.3" y2="718.5" stroke="#000" stroke-width="2.2"/>
<text x="1173.2" y="743.9" font-size="23" text-anchor="middle">NT</text>
<text x="1221" y="743.9" font-size="23" text-anchor="middle">Phe</text>
<text x="1269" y="743.9" font-size="23" text-anchor="middle">Clo</text>
<text x="1316.4" y="743.9" font-size="23" text-anchor="middle">Moc</text>
<text x="1364.3" y="743.9" font-size="23" text-anchor="middle">Pir</text>
<text x="1064.1" y="588.4" font-size="26" text-anchor="middle" transform="rotate(-90 1064.1 588.4)"><tspan font-style="italic">Chi3l3</tspan> mRNA</text>
<text x="1098.1" y="590" font-size="25.5" text-anchor="middle" transform="rotate(-90 1098.1 590)">(fold change)</text>
<path d="M1172.7 478.8 V472 H1225.3 V478.8" fill="none" stroke="#000" stroke-width="2.2" stroke-linejoin="round" stroke-linecap="round"/>
<text transform="translate(1200.4 473.9) scale(1.11 0.865)" font-size="25" text-anchor="middle">***</text>
<path d="M1172.7 456.8 V450 H1271.5 V456.8" fill="none" stroke="#000" stroke-width="2.2" stroke-linejoin="round" stroke-linecap="round"/>
<text transform="translate(1224 451.9) scale(1.11 0.865)" font-size="25" text-anchor="middle">***</text>
<path d="M1172.7 433.2 V426.4 H1322.3 V433.2" fill="none" stroke="#000" stroke-width="2.2" stroke-linejoin="round" stroke-linecap="round"/>
<text transform="translate(1246.3 428.3) scale(1.11 0.865)" font-size="25" text-anchor="middle">***</text>
<path d="M1172.7 410.2 V403.4 H1367.7 V410.2" fill="none" stroke="#000" stroke-width="2.2" stroke-linejoin="round" stroke-linecap="round"/>
<text transform="translate(1269.4 405.3) scale(1.11 0.865)" font-size="25" text-anchor="middle">***</text>
<text x="1475" y="397.7" font-size="41" font-weight="bold">e</text>
<rect x="1689.5" y="512" width="32" height="199.2" fill="#808080" stroke="#000" stroke-width="2.2"/>
<rect x="1737.2" y="580.7" width="32" height="130.5" fill="#ff0000" stroke="#000" stroke-width="2.2"/>
<rect x="1785.2" y="615.6" width="32" height="95.6" fill="#00c000" stroke="#000" stroke-width="2.2"/>
<rect x="1832.7" y="620.5" width="32" height="90.7" fill="#ff6600" stroke="#000" stroke-width="2.2"/>
<rect x="1880.6" y="606.6" width="32" height="104.6" fill="#5b5bfb" stroke="#000" stroke-width="2.2"/>
<line x1="1705.5" y1="509.6" x2="1705.5" y2="514.3" stroke="#000" stroke-width="2.2"/>
<line x1="1698.5" y1="509.6" x2="1712.5" y2="509.6" stroke="#000" stroke-width="2.2"/>
<line x1="1698.5" y1="514.3" x2="1712.5" y2="514.3" stroke="#000" stroke-width="2.2"/>
<line x1="1753.2" y1="577.7" x2="1753.2" y2="583.7" stroke="#000" stroke-width="2.2"/>
<line x1="1746.2" y1="577.7" x2="1760.2" y2="577.7" stroke="#000" stroke-width="2.2"/>
<line x1="1746.2" y1="583.7" x2="1760.2" y2="583.7" stroke="#000" stroke-width="2.2"/>
<line x1="1801.2" y1="612" x2="1801.2" y2="619.1" stroke="#000" stroke-width="2.2"/>
<line x1="1794.2" y1="612" x2="1808.2" y2="612" stroke="#000" stroke-width="2.2"/>
<line x1="1794.2" y1="619.1" x2="1808.2" y2="619.1" stroke="#000" stroke-width="2.2"/>
<line x1="1848.7" y1="618.2" x2="1848.7" y2="622.9" stroke="#000" stroke-width="2.2"/>
<line x1="1841.7" y1="618.2" x2="1855.7" y2="618.2" stroke="#000" stroke-width="2.2"/>
<line x1="1841.7" y1="622.9" x2="1855.7" y2="622.9" stroke="#000" stroke-width="2.2"/>
<line x1="1896.6" y1="605.4" x2="1896.6" y2="607.8" stroke="#000" stroke-width="2.2"/>
<line x1="1889.6" y1="605.4" x2="1903.6" y2="605.4" stroke="#000" stroke-width="2.2"/>
<line x1="1889.6" y1="607.8" x2="1903.6" y2="607.8" stroke="#000" stroke-width="2.2"/>
<circle cx="1698.6" cy="507.3" r="5.8" fill="#000"/>
<circle cx="1712.7" cy="506" r="5.8" fill="#000"/>
<circle cx="1709.5" cy="515.7" r="5.8" fill="#000"/>
<circle cx="1701.5" cy="520.1" r="5.8" fill="#000"/>
<rect x="1747.3" y="567" width="11.5" height="11.5" fill="#000"/>
<rect x="1738.3" y="571.2" width="11.5" height="11.5" fill="#000"/>
<rect x="1758.2" y="578.5" width="11.5" height="11.5" fill="#000"/>
<rect x="1747.3" y="583" width="11.5" height="11.5" fill="#000"/>
<polygon points="1801.2,598.3 1807.3,609.9 1795.1,609.9" fill="#000"/>
<polygon points="1792.9,611.8 1799,623.4 1786.8,623.4" fill="#000"/>
<polygon points="1809.6,613.7 1815.7,625.3 1803.5,625.3" fill="#000"/>
<polygon points="1801.2,616.9 1807.3,628.5 1795.1,628.5" fill="#000"/>
<polygon points="1848.9,615.8 1855,604.2 1842.8,604.2" fill="#000"/>
<polygon points="1840.3,629.9 1846.4,618.3 1834.2,618.3" fill="#000"/>
<polygon points="1857.7,629.9 1863.8,618.3 1851.6,618.3" fill="#000"/>
<polygon points="1848.9,632.5 1855,620.9 1842.8,620.9" fill="#000"/>
<polygon points="1903.8,596.4 1910,602.6 1903.8,608.8 1897.6,602.6" fill="#000"/>
<polygon points="1889.7,601.2 1895.9,607.4 1889.7,613.6 1883.5,607.4" fill="#000"/>
<polygon points="1893.6,602.5 1899.8,608.7 1893.6,614.9 1887.4,608.7" fill="#000"/>
<polygon points="1900.6,601.8 1906.8,608 1900.6,614.2 1894.4,608" fill="#000"/>
<line x1="1681.9" y1="471" x2="1681.9" y2="712.3" stroke="#000" stroke-width="2.2"/>
<line x1="1675.5" y1="711.2" x2="1921.8" y2="711.2" stroke="#000" stroke-width="2.2"/>
<line x1="1674.4" y1="711.2" x2="1681.9" y2="711.2" stroke="#000" stroke-width="2.2"/>
<text x="1672.4" y="719.9" font-size="22.5" text-anchor="end">0.0</text>
<line x1="1674.4" y1="671.4" x2="1681.9" y2="671.4" stroke="#000" stroke-width="2.2"/>
<text x="1672.4" y="680" font-size="22.5" text-anchor="end">0.2</text>
<line x1="1674.4" y1="631.5" x2="1681.9" y2="631.5" stroke="#000" stroke-width="2.2"/>
<text x="1672.4" y="640.2" font-size="22.5" text-anchor="end">0.4</text>
<line x1="1674.4" y1="591.7" x2="1681.9" y2="591.7" stroke="#000" stroke-width="2.2"/>
<text x="1672.4" y="600.3" font-size="22.5" text-anchor="end">0.6</text>
<line x1="1674.4" y1="551.8" x2="1681.9" y2="551.8" stroke="#000" stroke-width="2.2"/>
<text x="1672.4" y="560.5" font-size="22.5" text-anchor="end">0.8</text>
<line x1="1674.4" y1="512" x2="1681.9" y2="512" stroke="#000" stroke-width="2.2"/>
<text x="1672.4" y="520.6" font-size="22.5" text-anchor="end">1.0</text>
<line x1="1674.4" y1="472.1" x2="1681.9" y2="472.1" stroke="#000" stroke-width="2.2"/>
<text x="1672.4" y="480.8" font-size="22.5" text-anchor="end">1.2</text>
<line x1="1705.5" y1="711.2" x2="1705.5" y2="718" stroke="#000" stroke-width="2.2"/>
<line x1="1753.2" y1="711.2" x2="1753.2" y2="718" stroke="#000" stroke-width="2.2"/>
<line x1="1801.2" y1="711.2" x2="1801.2" y2="718" stroke="#000" stroke-width="2.2"/>
<line x1="1848.7" y1="711.2" x2="1848.7" y2="718" stroke="#000" stroke-width="2.2"/>
<line x1="1896.6" y1="711.2" x2="1896.6" y2="718" stroke="#000" stroke-width="2.2"/>
<text x="1705.5" y="743.9" font-size="23" text-anchor="middle">NT</text>
<text x="1753.2" y="743.9" font-size="23" text-anchor="middle">Phe</text>
<text x="1801.2" y="743.9" font-size="23" text-anchor="middle">Clo</text>
<text x="1848.7" y="743.9" font-size="23" text-anchor="middle">Moc</text>
<text x="1896.6" y="743.9" font-size="23" text-anchor="middle">Pir</text>
<text x="1596.1" y="589.3" font-size="26" text-anchor="middle" transform="rotate(-90 1596.1 589.3)"><tspan font-style="italic">Arg1</tspan> mRNA</text>
<text x="1631.1" y="588.6" font-size="25.4" text-anchor="middle" transform="rotate(-90 1631.1 588.6)">(fold change)</text>
<path d="M1705 484 V477.2 H1757.6 V484" fill="none" stroke="#000" stroke-width="2.2" stroke-linejoin="round" stroke-linecap="round"/>
<text transform="translate(1732.4 479.1) scale(1.11 0.865)" font-size="25" text-anchor="middle">***</text>
<path d="M1705 459.4 V452.6 H1803.8 V459.4" fill="none" stroke="#000" stroke-width="2.2" stroke-linejoin="round" stroke-linecap="round"/>
<text transform="translate(1756.3 454.5) scale(1.11 0.865)" font-size="25" text-anchor="middle">***</text>
<path d="M1705 435.8 V429 H1854.6 V435.8" fill="none" stroke="#000" stroke-width="2.2" stroke-linejoin="round" stroke-linecap="round"/>
<text transform="translate(1778.6 430.9) scale(1.11 0.865)" font-size="25" text-anchor="middle">***</text>
<path d="M1705 411.4 V404.6 H1899.5 V411.4" fill="none" stroke="#000" stroke-width="2.2" stroke-linejoin="round" stroke-linecap="round"/>
<text transform="translate(1803.3 406.5) scale(1.11 0.865)" font-size="25" text-anchor="middle">***</text>
<text x="0" y="799.7" font-size="41" font-weight="bold">f</text>
<g transform="translate(107.5 925) scale(1)" stroke-linecap="round" stroke-linejoin="round">
<path d="M3.6 -25C2.5 -26.6 -0.4 -32.6 -2.8 -34.8C-5.2 -37 -8.3 -37.5 -10.7 -38.1C-13.1 -38.7 -14.9 -38.6 -17.2 -38.4C-19.5 -38.2 -22 -38 -24.4 -37C-26.8 -36 -29.2 -34.4 -31.6 -32.7C-34 -31 -36.4 -28.7 -38.8 -26.9C-41.2 -25.1 -44 -23 -45.9 -21.9C-47.8 -20.8 -49 -20 -50.3 -20.1C-51.6 -20.2 -53 -21.9 -53.5 -22.3L-52.9 -20.7C-52.3 -20.2 -50.8 -18.2 -49.5 -17.9C-48.2 -17.6 -47.2 -18 -45.2 -19C-43.2 -20 -39.8 -22.3 -37.3 -24.1C-34.8 -25.9 -32.5 -28.1 -30.1 -29.8C-27.7 -31.5 -25.1 -33.2 -23 -34.1C-20.9 -35 -19.1 -35.2 -17.2 -35.2C-15.3 -35.2 -13.2 -34.8 -11.5 -34.1C-9.8 -33.4 -8.3 -32.7 -7.2 -31.2C-6.1 -29.7 -5.4 -26 -5 -25Z" fill="#c4c4c4" stroke="#1a1a1a" stroke-width="1.1"/>
<path d="M-2 -27 C-5 -32 -10 -36.4 -17.2 -36.7 C-24 -36.8 -30 -32 -36 -27" fill="none" stroke="#8a8a8a" stroke-width="1.2"/>
<circle cx="0" cy="0" r="26" fill="#cccccc" stroke="#1a1a1a" stroke-width="1.2"/>
<path d="M-20.1 20.5 L-4.6 39.6 Q0 42.6 4.9 39.6 L19.8 20.5 L19 8 L-19 8 Z" fill="#cccccc"/>
<path d="M-20.1 20.5 L-4.6 39.6 Q0 42.6 4.9 39.6 L19.8 20.5" fill="none" stroke="#1a1a1a" stroke-width="1.2"/>
<circle cx="-17.2" cy="8.5" r="12.6" fill="#cccccc"/>
<path d="M-27.3 11.2 A10.4 10.4 0 0 1 -8.2 3.3 Q-18.2 -1 -27.3 11.2 Z" fill="#999999"/>
<path d="M-20.1 20.8 A12.6 12.6 0 1 1 -4.8 10.7" fill="none" stroke="#1a1a1a" stroke-width="1.2"/>
<circle cx="17.2" cy="8.5" r="12.6" fill="#cccccc"/>
<path d="M27.3 11.2 A10.4 10.4 0 0 0 8.2 3.3 Q18.2 -1 27.3 11.2 Z" fill="#999999"/>
<path d="M20.1 20.8 A12.6 12.6 0 1 0 4.8 10.7" fill="none" stroke="#1a1a1a" stroke-width="1.2"/>
<ellipse cx="-7.3" cy="24.8" rx="2.2" ry="3" fill="#1a1a1a"/>
<ellipse cx="-7.2" cy="24.5" rx="0.55" ry="0.95" fill="#fff"/>
<ellipse cx="6.9" cy="24.8" rx="2.2" ry="3" fill="#1a1a1a"/>
<ellipse cx="7" cy="24.5" rx="0.55" ry="0.95" fill="#fff"/>
<polygon points="-8.5,33.5 -4,35.5 -3,39.5 -6,38.2" fill="#555"/>
<polygon points="8.5,33.5 4.3,35.5 3.3,39.5 6.3,38.2" fill="#555"/>
<polygon points="-2.7,33.8 2.9,33.8 0.1,38.6" fill="#000" stroke="#000" stroke-width="0.8"/>
<path d="M10.8 34.5 C16 30.5 19 31.5 22.3 33.6" fill="none" stroke="#1a1a1a" stroke-width="1.1"/>
<path d="M10.8 34.5 C15 35.5 18 37 20.1 39.4" fill="none" stroke="#1a1a1a" stroke-width="1.1"/>
<path d="M10.8 34.5 C13.5 37 14.5 41 14.7 43.7" fill="none" stroke="#1a1a1a" stroke-width="1.1"/>
<path d="M-10.8 34.5 C-16 30.5 -19 31.5 -22.3 33.6" fill="none" stroke="#1a1a1a" stroke-width="1.1"/>
<path d="M-10.8 34.5 C-15 35.5 -18 37 -20.1 39.4" fill="none" stroke="#1a1a1a" stroke-width="1.1"/>
<path d="M-10.8 34.5 C-13.5 37 -14.5 41 -14.7 43.7" fill="none" stroke="#1a1a1a" stroke-width="1.1"/>
<g transform="translate(11.5 -13.6) rotate(-43.7)">
<line x1="0" y1="0" x2="15" y2="0" stroke="#1a1a1a" stroke-width="1.2"/>
<rect x="14" y="-1.6" width="2.6" height="3.2" fill="#fff" stroke="#1a1a1a" stroke-width="0.9"/>
<rect x="16.6" y="-3.2" width="29" height="6.4" fill="#fff" stroke="#1a1a1a" stroke-width="1.35"/>
<line x1="19" y1="-3.2" x2="19" y2="1.2" stroke="#1a1a1a" stroke-width="1.2"/>
<line x1="21.1" y1="-3.2" x2="21.1" y2="1.2" stroke="#1a1a1a" stroke-width="1.2"/>
<line x1="23.2" y1="-3.2" x2="23.2" y2="1.2" stroke="#1a1a1a" stroke-width="1.2"/>
<line x1="25.3" y1="-3.2" x2="25.3" y2="1.2" stroke="#1a1a1a" stroke-width="1.2"/>
<line x1="27.4" y1="-3.2" x2="27.4" y2="1.2" stroke="#1a1a1a" stroke-width="1.2"/>
<line x1="29.5" y1="-3.2" x2="29.5" y2="1.2" stroke="#1a1a1a" stroke-width="1.2"/>
<rect x="45.2" y="-7" width="2" height="14" rx="1" fill="#555" stroke="#1a1a1a" stroke-width="1.3"/>
<rect x="47.4" y="-1.2" width="7" height="2.4" fill="#fff" stroke="#1a1a1a" stroke-width="0.9"/>
<rect x="54.2" y="-4.6" width="1.8" height="9.2" rx="0.9" fill="#1a1a1a" stroke="#1a1a1a" stroke-width="1"/>
</g>
</g>
<text x="106.5" y="992.6" font-size="23" text-anchor="middle">B6 wildtype</text>
<text x="106.7" y="1020.2" font-size="23" text-anchor="middle">mice</text>
<line x1="146.2" y1="953.8" x2="850.7" y2="953.8" stroke="#000" stroke-width="3.6"/>
<text x="269.4" y="869.6" font-size="23" text-anchor="middle">Phenelzine</text>
<text x="269.4" y="896.6" font-size="23" text-anchor="middle"><tspan font-style="italic">i.p.</tspan> daily</text>
<line x1="266.8" y1="905.7" x2="266.8" y2="940.7" stroke="#000" stroke-width="3.6"/>
<polygon points="266.8,950.2 261.1,939.7 272.6,939.7" fill="#000"/>
<line x1="266.8" y1="983.7" x2="266.8" y2="966.9" stroke="#000" stroke-width="3.6"/>
<polygon points="266.8,957.4 272.6,967.9 261.1,967.9" fill="#000"/>
<text x="263" y="1009.4" font-size="23" text-anchor="middle">Since</text>
<text x="266.3" y="1037.1" font-size="23" text-anchor="middle">Day -3</text>
<text x="463" y="849.5" font-size="23" text-anchor="middle">Vehicle liposomes</text>
<text x="466" y="876.9" font-size="23" text-anchor="middle">or</text>
<text x="466.2" y="904.5" font-size="23" text-anchor="middle">Clodronate liposomes</text>
<line x1="466.3" y1="914.6" x2="466.3" y2="940.7" stroke="#000" stroke-width="3.6"/>
<polygon points="466.3,950.2 460.6,939.7 472.1,939.7" fill="#000"/>
<line x1="466.3" y1="983.8" x2="466.3" y2="966.9" stroke="#000" stroke-width="3.6"/>
<polygon points="466.3,957.4 472.1,967.9 460.6,967.9" fill="#000"/>
<text x="469.4" y="1008.9" font-size="23" text-anchor="middle">Twice a week since</text>
<text x="469.4" y="1037.2" font-size="23" text-anchor="middle">Day -2</text>
<text x="672" y="881.9" font-size="23" text-anchor="middle"><tspan font-style="italic">s.c.</tspan> B16-OVA</text>
<line x1="672.9" y1="897.4" x2="672.9" y2="940.7" stroke="#000" stroke-width="3.6"/>
<polygon points="672.9,950.2 667.1,939.7 678.6,939.7" fill="#000"/>
<line x1="672.9" y1="992.8" x2="672.9" y2="966.9" stroke="#000" stroke-width="3.6"/>
<polygon points="672.9,957.4 678.6,967.9 667.1,967.9" fill="#000"/>
<text x="672.3" y="1015.1" font-size="23" text-anchor="middle">Day 0</text>
<text x="810.7" y="867" font-size="23" text-anchor="middle">Terminal</text>
<text x="810.7" y="894.6" font-size="23" text-anchor="middle">Analysis</text>
<line x1="818.8" y1="905.3" x2="818.8" y2="940.7" stroke="#000" stroke-width="3.6"/>
<polygon points="818.8,950.2 813,939.7 824.5,939.7" fill="#000"/>
<line x1="818.8" y1="992.8" x2="818.8" y2="966.9" stroke="#000" stroke-width="3.6"/>
<polygon points="818.8,957.4 824.5,967.9 813,967.9" fill="#000"/>
<text x="812.6" y="1015.1" font-size="23" text-anchor="middle">Day 18</text>
<text x="927" y="799.7" font-size="41" font-weight="bold">g</text>
<rect x="1027" y="778" width="413" height="364" fill="#fdfdfd"/>
<line x1="1140.6" y1="835.4" x2="1140.6" y2="1070.9" stroke="#000" stroke-width="2"/>
<line x1="1139.6" y1="1069.9" x2="1373.8" y2="1069.9" stroke="#000" stroke-width="2"/>
<line x1="1133.1" y1="1069.9" x2="1140.6" y2="1069.9" stroke="#000" stroke-width="2"/>
<text x="1131.6" y="1078.4" font-size="22" text-anchor="end">0</text>
<line x1="1133.1" y1="1023.2" x2="1140.6" y2="1023.2" stroke="#000" stroke-width="2"/>
<text x="1131.6" y="1031.7" font-size="22" text-anchor="end">200</text>
<line x1="1133.1" y1="976.5" x2="1140.6" y2="976.5" stroke="#000" stroke-width="2"/>
<text x="1131.6" y="985" font-size="22" text-anchor="end">400</text>
<line x1="1133.1" y1="929.8" x2="1140.6" y2="929.8" stroke="#000" stroke-width="2"/>
<text x="1131.6" y="938.3" font-size="22" text-anchor="end">600</text>
<line x1="1133.1" y1="883.1" x2="1140.6" y2="883.1" stroke="#000" stroke-width="2"/>
<text x="1131.6" y="891.6" font-size="22" text-anchor="end">800</text>
<line x1="1133.1" y1="836.4" x2="1140.6" y2="836.4" stroke="#000" stroke-width="2"/>
<text x="1131.6" y="844.9" font-size="22" text-anchor="end">1000</text>
<line x1="1140.6" y1="1069.9" x2="1140.6" y2="1076.9" stroke="#000" stroke-width="2"/>
<text x="1140.6" y="1096.6" font-size="22" text-anchor="middle">0</text>
<line x1="1179.5" y1="1069.9" x2="1179.5" y2="1076.9" stroke="#000" stroke-width="2"/>
<text x="1179.5" y="1096.6" font-size="22" text-anchor="middle">3</text>
<line x1="1218.3" y1="1069.9" x2="1218.3" y2="1076.9" stroke="#000" stroke-width="2"/>
<text x="1218.3" y="1096.6" font-size="22" text-anchor="middle">6</text>
<line x1="1257.2" y1="1069.9" x2="1257.2" y2="1076.9" stroke="#000" stroke-width="2"/>
<text x="1257.2" y="1096.6" font-size="22" text-anchor="middle">9</text>
<line x1="1296.1" y1="1069.9" x2="1296.1" y2="1076.9" stroke="#000" stroke-width="2"/>
<text x="1296.1" y="1096.6" font-size="22" text-anchor="middle">12</text>
<line x1="1334.9" y1="1069.9" x2="1334.9" y2="1076.9" stroke="#000" stroke-width="2"/>
<text x="1334.9" y="1096.6" font-size="22" text-anchor="middle">15</text>
<line x1="1373.8" y1="1069.9" x2="1373.8" y2="1076.9" stroke="#000" stroke-width="2"/>
<text x="1373.8" y="1096.6" font-size="22" text-anchor="middle">18</text>
<polyline points="1140.6,1069.9 1192.4,1052.4 1231.3,1035.8 1270.2,1020.4 1322,1005 1373.8,985.8" fill="none" stroke="#00c000" stroke-width="2.3"/>
<line x1="1270.2" y1="1016.2" x2="1270.2" y2="1024.6" stroke="#00c000" stroke-width="2"/>
<line x1="1264.7" y1="1016.2" x2="1275.7" y2="1016.2" stroke="#00c000" stroke-width="2"/>
<line x1="1264.7" y1="1024.6" x2="1275.7" y2="1024.6" stroke="#00c000" stroke-width="2"/>
<line x1="1322" y1="997.3" x2="1322" y2="1012.7" stroke="#00c000" stroke-width="2"/>
<line x1="1316.5" y1="997.3" x2="1327.5" y2="997.3" stroke="#00c000" stroke-width="2"/>
<line x1="1316.5" y1="1012.7" x2="1327.5" y2="1012.7" stroke="#00c000" stroke-width="2"/>
<line x1="1373.8" y1="973" x2="1373.8" y2="998.7" stroke="#00c000" stroke-width="2"/>
<line x1="1368.3" y1="973" x2="1379.3" y2="973" stroke="#00c000" stroke-width="2"/>
<line x1="1368.3" y1="998.7" x2="1379.3" y2="998.7" stroke="#00c000" stroke-width="2"/>
<polygon points="1140.6,1076.3 1146.6,1064.8 1134.6,1064.8" fill="#00c000"/>
<polygon points="1192.4,1058.8 1198.5,1047.3 1186.4,1047.3" fill="#00c000"/>
<polygon points="1231.3,1042.2 1237.3,1030.7 1225.2,1030.7" fill="#00c000"/>
<polygon points="1270.2,1026.8 1276.2,1015.3 1264.1,1015.3" fill="#00c000"/>
<polygon points="1322,1011.4 1328,999.9 1315.9,999.9" fill="#00c000"/>
<polygon points="1373.8,992.3 1379.8,980.8 1367.8,980.8" fill="#00c000"/>
<polyline points="1140.6,1069.9 1192.4,1051.2 1231.3,1031.8 1270.2,1009 1322,988.4 1373.8,962.7" fill="none" stroke="#0000ff" stroke-width="2.3"/>
<line x1="1270.2" y1="999.6" x2="1270.2" y2="1018.3" stroke="#0000ff" stroke-width="2"/>
<line x1="1264.7" y1="999.6" x2="1275.7" y2="999.6" stroke="#0000ff" stroke-width="2"/>
<line x1="1264.7" y1="1018.3" x2="1275.7" y2="1018.3" stroke="#0000ff" stroke-width="2"/>
<line x1="1322" y1="980.7" x2="1322" y2="996.1" stroke="#0000ff" stroke-width="2"/>
<line x1="1316.5" y1="980.7" x2="1327.5" y2="980.7" stroke="#0000ff" stroke-width="2"/>
<line x1="1316.5" y1="996.1" x2="1327.5" y2="996.1" stroke="#0000ff" stroke-width="2"/>
<line x1="1373.8" y1="952.2" x2="1373.8" y2="973.2" stroke="#0000ff" stroke-width="2"/>
<line x1="1368.3" y1="952.2" x2="1379.3" y2="952.2" stroke="#0000ff" stroke-width="2"/>
<line x1="1368.3" y1="973.2" x2="1379.3" y2="973.2" stroke="#0000ff" stroke-width="2"/>
<polygon points="1140.6,1063.5 1146.6,1075 1134.6,1075" fill="#0000ff"/>
<polygon points="1192.4,1044.8 1198.5,1056.3 1186.4,1056.3" fill="#0000ff"/>
<polygon points="1231.3,1025.4 1237.3,1036.9 1225.2,1036.9" fill="#0000ff"/>
<polygon points="1270.2,1002.5 1276.2,1014 1264.1,1014" fill="#0000ff"/>
<polygon points="1322,982 1328,993.5 1315.9,993.5" fill="#0000ff"/>
<polygon points="1373.8,956.3 1379.8,967.8 1367.8,967.8" fill="#0000ff"/>
<polyline points="1140.6,1069.9 1192.4,1056.4 1231.3,1039.1 1270.2,1033.2 1322,1023 1373.8,1007.6" fill="none" stroke="#ff0000" stroke-width="2.3"/>
<line x1="1373.8" y1="998" x2="1373.8" y2="1017.1" stroke="#ff0000" stroke-width="2"/>
<line x1="1368.3" y1="998" x2="1379.3" y2="998" stroke="#ff0000" stroke-width="2"/>
<line x1="1368.3" y1="1017.1" x2="1379.3" y2="1017.1" stroke="#ff0000" stroke-width="2"/>
<rect x="1134.9" y="1064.2" width="11.4" height="11.4" fill="#ff0000"/>
<rect x="1186.7" y="1050.7" width="11.4" height="11.4" fill="#ff0000"/>
<rect x="1225.6" y="1033.4" width="11.4" height="11.4" fill="#ff0000"/>
<rect x="1264.5" y="1027.5" width="11.4" height="11.4" fill="#ff0000"/>
<rect x="1316.3" y="1017.3" width="11.4" height="11.4" fill="#ff0000"/>
<rect x="1368.1" y="1001.9" width="11.4" height="11.4" fill="#ff0000"/>
<polyline points="1140.6,1069.9 1192.4,1049.1 1231.3,1030.7 1270.2,993.5 1322,937.5 1373.8,872.8" fill="none" stroke="#000" stroke-width="2.3"/>
<line x1="1270.2" y1="985.6" x2="1270.2" y2="1001.5" stroke="#000" stroke-width="2"/>
<line x1="1264.7" y1="985.6" x2="1275.7" y2="985.6" stroke="#000" stroke-width="2"/>
<line x1="1264.7" y1="1001.5" x2="1275.7" y2="1001.5" stroke="#000" stroke-width="2"/>
<line x1="1322" y1="926.3" x2="1322" y2="948.7" stroke="#000" stroke-width="2"/>
<line x1="1316.5" y1="926.3" x2="1327.5" y2="926.3" stroke="#000" stroke-width="2"/>
<line x1="1316.5" y1="948.7" x2="1327.5" y2="948.7" stroke="#000" stroke-width="2"/>
<line x1="1373.8" y1="852" x2="1373.8" y2="893.6" stroke="#000" stroke-width="2"/>
<line x1="1368.3" y1="852" x2="1379.3" y2="852" stroke="#000" stroke-width="2"/>
<line x1="1368.3" y1="893.6" x2="1379.3" y2="893.6" stroke="#000" stroke-width="2"/>
<circle cx="1140.6" cy="1069.9" r="5.7" fill="#000"/>
<circle cx="1192.4" cy="1049.1" r="5.7" fill="#000"/>
<circle cx="1231.3" cy="1030.7" r="5.7" fill="#000"/>
<circle cx="1270.2" cy="993.5" r="5.7" fill="#000"/>
<circle cx="1322" cy="937.5" r="5.7" fill="#000"/>
<circle cx="1373.8" cy="872.8" r="5.7" fill="#000"/>
<text x="1257" y="1122.3" font-size="25.5" text-anchor="middle">Days</text>
<text x="1073.2" y="951.5" font-size="25.5" text-anchor="middle" transform="rotate(-90 1073.2 951.5)">Tumor volume (mm<tspan dy="-10.7" font-size="20.1">3</tspan><tspan dy="10.7">)</tspan></text>
<line x1="1154" y1="842.1" x2="1178" y2="842.1" stroke="#000" stroke-width="2.3"/>
<circle cx="1166" cy="842.1" r="5.2" fill="#000"/>
<text x="1193.2" y="849.1" font-size="22.5">Veh</text>
<line x1="1154" y1="871.6" x2="1178" y2="871.6" stroke="#ff0000" stroke-width="2.3"/>
<rect x="1160.8" y="866.4" width="10.4" height="10.4" fill="#ff0000"/>
<text x="1193.2" y="878.6" font-size="22.5">Veh + Phe</text>
<line x1="1154" y1="901.6" x2="1178" y2="901.6" stroke="#0000ff" stroke-width="2.3"/>
<polygon points="1166,895.7 1171.5,906.2 1160.5,906.2" fill="#0000ff"/>
<text x="1193.2" y="908.9" font-size="22.5">Clod</text>
<line x1="1154" y1="930.6" x2="1178" y2="930.6" stroke="#00c000" stroke-width="2.3"/>
<polygon points="1166,936.5 1171.5,926 1160.5,926" fill="#00c000"/>
<text x="1193.2" y="938.4" font-size="22.5">Clod+ Phe</text>
<rect x="1556" y="748" width="365" height="420" fill="#fdfdfd"/>
<text x="1477" y="799.7" font-size="41" font-weight="bold">h</text>
<rect x="1690" y="910.2" width="34" height="157.1" fill="#808080" stroke="#000" stroke-width="2.2"/>
<rect x="1748.3" y="1017" width="34" height="50.3" fill="#ff0000" stroke="#000" stroke-width="2.2"/>
<rect x="1806" y="981.2" width="34" height="86.1" fill="#5b5bfb" stroke="#000" stroke-width="2.2"/>
<rect x="1865" y="1000.2" width="34" height="67.1" fill="#00c000" stroke="#000" stroke-width="2.2"/>
<line x1="1707" y1="893.8" x2="1707" y2="926.6" stroke="#000" stroke-width="2.2"/>
<line x1="1699" y1="893.8" x2="1715" y2="893.8" stroke="#000" stroke-width="2.2"/>
<line x1="1699" y1="926.6" x2="1715" y2="926.6" stroke="#000" stroke-width="2.2"/>
<line x1="1765.3" y1="1009.5" x2="1765.3" y2="1024.4" stroke="#000" stroke-width="2.2"/>
<line x1="1757.3" y1="1009.5" x2="1773.3" y2="1009.5" stroke="#000" stroke-width="2.2"/>
<line x1="1757.3" y1="1024.4" x2="1773.3" y2="1024.4" stroke="#000" stroke-width="2.2"/>
<line x1="1823" y1="973.4" x2="1823" y2="989" stroke="#000" stroke-width="2.2"/>
<line x1="1815" y1="973.4" x2="1831" y2="973.4" stroke="#000" stroke-width="2.2"/>
<line x1="1815" y1="989" x2="1831" y2="989" stroke="#000" stroke-width="2.2"/>
<line x1="1882" y1="990.9" x2="1882" y2="1009.5" stroke="#000" stroke-width="2.2"/>
<line x1="1874" y1="990.9" x2="1890" y2="990.9" stroke="#000" stroke-width="2.2"/>
<line x1="1874" y1="1009.5" x2="1890" y2="1009.5" stroke="#000" stroke-width="2.2"/>
<circle cx="1707" cy="835.2" r="5.8" fill="#000"/>
<circle cx="1707" cy="873.6" r="5.8" fill="#000"/>
<circle cx="1707" cy="914.7" r="5.8" fill="#000"/>
<circle cx="1716.5" cy="921.6" r="5.8" fill="#000"/>
<circle cx="1696.8" cy="929.3" r="5.8" fill="#000"/>
<circle cx="1707" cy="930.6" r="5.8" fill="#000"/>
<circle cx="1707" cy="967.3" r="5.8" fill="#000"/>
<rect x="1759.5" y="983.9" width="11.5" height="11.5" fill="#000"/>
<rect x="1749.3" y="992.8" width="11.5" height="11.5" fill="#000"/>
<rect x="1769.8" y="992.8" width="11.5" height="11.5" fill="#000"/>
<rect x="1759.5" y="1002.6" width="11.5" height="11.5" fill="#000"/>
<rect x="1771.1" y="1017.2" width="11.5" height="11.5" fill="#000"/>
<rect x="1748.8" y="1024.9" width="11.5" height="11.5" fill="#000"/>
<rect x="1759.5" y="1029.3" width="11.5" height="11.5" fill="#000"/>
<rect x="1759.5" y="1049.3" width="11.5" height="11.5" fill="#000"/>
<circle cx="1823.8" cy="949.3" r="5.8" fill="#000"/>
<circle cx="1830.7" cy="967.3" r="5.8" fill="#000"/>
<circle cx="1808.9" cy="971.6" r="5.8" fill="#000"/>
<circle cx="1816.6" cy="980.1" r="5.8" fill="#000"/>
<circle cx="1837.1" cy="987" r="5.8" fill="#000"/>
<circle cx="1830.2" cy="1001.1" r="5.8" fill="#000"/>
<circle cx="1816.6" cy="1014" r="5.8" fill="#000"/>
<rect x="1876.3" y="949.7" width="11.5" height="11.5" fill="#000"/>
<rect x="1876.3" y="976.2" width="11.5" height="11.5" fill="#000"/>
<rect x="1868.6" y="989" width="11.5" height="11.5" fill="#000"/>
<rect x="1884" y="995.4" width="11.5" height="11.5" fill="#000"/>
<rect x="1864.7" y="1015.9" width="11.5" height="11.5" fill="#000"/>
<rect x="1887.8" y="1016.4" width="11.5" height="11.5" fill="#000"/>
<rect x="1876.3" y="1023.6" width="11.5" height="11.5" fill="#000"/>
<line x1="1678" y1="833.3" x2="1678" y2="1068.4" stroke="#000" stroke-width="2.2"/>
<line x1="1671.6" y1="1067.3" x2="1911.5" y2="1067.3" stroke="#000" stroke-width="2.2"/>
<line x1="1670.5" y1="1067.3" x2="1678" y2="1067.3" stroke="#000" stroke-width="2.2"/>
<text x="1667.5" y="1076.5" font-size="24" text-anchor="end">0</text>
<line x1="1670.5" y1="1020.7" x2="1678" y2="1020.7" stroke="#000" stroke-width="2.2"/>
<text x="1667.5" y="1029.9" font-size="24" text-anchor="end">250</text>
<line x1="1670.5" y1="974.1" x2="1678" y2="974.1" stroke="#000" stroke-width="2.2"/>
<text x="1667.5" y="983.3" font-size="24" text-anchor="end">500</text>
<line x1="1670.5" y1="927.6" x2="1678" y2="927.6" stroke="#000" stroke-width="2.2"/>
<text x="1667.5" y="936.8" font-size="24" text-anchor="end">750</text>
<line x1="1670.5" y1="881" x2="1678" y2="881" stroke="#000" stroke-width="2.2"/>
<text x="1667.5" y="890.2" font-size="24" text-anchor="end">1000</text>
<line x1="1670.5" y1="834.4" x2="1678" y2="834.4" stroke="#000" stroke-width="2.2"/>
<text x="1667.5" y="843.6" font-size="24" text-anchor="end">1250</text>
<line x1="1707" y1="1067.3" x2="1707" y2="1074.1" stroke="#000" stroke-width="2.2"/>
<line x1="1765.3" y1="1067.3" x2="1765.3" y2="1074.1" stroke="#000" stroke-width="2.2"/>
<line x1="1823" y1="1067.3" x2="1823" y2="1074.1" stroke="#000" stroke-width="2.2"/>
<line x1="1882" y1="1067.3" x2="1882" y2="1074.1" stroke="#000" stroke-width="2.2"/>
<text x="1707.5" y="1102.6" font-size="24.8" text-anchor="middle" letter-spacing="1">NT</text>
<text x="1765.3" y="1102.6" font-size="24.8" text-anchor="middle">Phe</text>
<text x="1823.5" y="1102.6" font-size="24.8" text-anchor="middle" letter-spacing="1">NT</text>
<text x="1882" y="1102.6" font-size="24.8" text-anchor="middle">Phe</text>
<line x1="1682" y1="1113.5" x2="1787.9" y2="1113.5" stroke="#000" stroke-width="2.7"/>
<line x1="1803.8" y1="1113.5" x2="1909" y2="1113.5" stroke="#000" stroke-width="2.7"/>
<text x="1735" y="1146.8" font-size="25.3" text-anchor="middle">Veh</text>
<text x="1852.5" y="1146.8" font-size="25.3" text-anchor="middle">Clod</text>
<text x="1601.2" y="949" font-size="25.5" text-anchor="middle" transform="rotate(-90 1601.2 949)">Tumor volume (mm<tspan dy="-10.7" font-size="20.1">3</tspan><tspan dy="10.7">)</tspan></text>
<path d="M1705.8 817.6 V810.8 H1764 V817.6" fill="none" stroke="#000" stroke-width="2.2" stroke-linejoin="round" stroke-linecap="round"/>
<text transform="translate(1735 811.6) scale(1.11 0.865)" font-size="25" text-anchor="middle">***</text>
<path d="M1706.8 791.7 V784.9 H1824.8 V791.7" fill="none" stroke="#000" stroke-width="2.2" stroke-linejoin="round" stroke-linecap="round"/>
<text transform="translate(1767.9 783.9) scale(1.11 0.865)" font-size="25" text-anchor="middle">***</text>
<path d="M1822.2 912.3 V905.5 H1883.8 V912.3" fill="none" stroke="#000" stroke-width="2.2" stroke-linejoin="round" stroke-linecap="round"/>
<text x="1854.3" y="898.1" font-size="25" text-anchor="middle">ns</text>
<text x="-0.5" y="1202" font-size="41" font-weight="bold">i</text>
<rect x="192.4" y="1198.2" width="30" height="30" fill="#808080"/>
<text x="237.3" y="1223.7" font-size="25">NT</text>
<rect x="300.8" y="1199.8" width="27" height="27" fill="none" stroke="#ff0000" stroke-width="2.4"/>
<text x="343.8" y="1223.7" font-size="25">Phe</text>
<path d="M193.7 1457.3 L193.7 1457.3 L194.7 1457.1 L195.7 1456.8 L196.7 1456.4 L197.7 1456.1 L198.8 1455.6 L199.8 1455.3 L200.8 1454.8 L201.8 1454.4 L202.8 1454.1 L203.8 1453.7 L204.8 1453.6 L205.9 1453.3 L206.9 1452.9 L207.9 1452.2 L208.9 1451.6 L209.9 1451 L210.9 1450.3 L212 1449.6 L213 1448.7 L214 1448.2 L215 1448 L216 1447.6 L217 1447.8 L218 1447.7 L219.1 1447.8 L220.1 1447.9 L221.1 1447.6 L222.1 1447.8 L223.1 1447.8 L224.1 1447.5 L225.1 1447.6 L226.2 1447.8 L227.2 1447.5 L228.2 1447.7 L229.2 1447.6 L230.2 1447.8 L231.2 1447.4 L232.2 1447 L233.3 1446.3 L234.3 1445.5 L235.3 1445 L236.3 1444.2 L237.3 1443.5 L238.3 1442.8 L239.3 1442.4 L240.4 1441.8 L241.4 1440.9 L242.4 1440.3 L243.4 1439 L244.4 1438.5 L245.4 1438.4 L246.4 1438.5 L247.5 1439.2 L248.5 1439.9 L249.5 1440.4 L250.5 1440.9 L251.5 1441.8 L252.5 1441.7 L253.6 1441.3 L254.6 1439.2 L255.6 1437.2 L256.6 1435.6 L257.6 1433.1 L258.6 1431.7 L259.6 1430.4 L260.7 1432.2 L261.7 1434.1 L262.7 1436 L263.7 1437.2 L264.7 1437.9 L265.7 1436.3 L266.7 1434.5 L267.8 1432.6 L268.8 1431.2 L269.8 1429.4 L270.8 1427.8 L271.8 1426.5 L272.8 1426.6 L273.8 1425.4 L274.9 1424.8 L275.9 1424.3 L276.9 1423.1 L277.9 1419.6 L278.9 1417.8 L279.9 1415.5 L280.9 1416 L282 1417.7 L283 1420.7 L284 1422.3 L285 1424.3 L286 1423.9 L287 1421.9 L288 1419.7 L289.1 1417.3 L290.1 1415.1 L291.1 1413 L292.1 1412.2 L293.1 1412.6 L294.1 1412.1 L295.2 1410.5 L296.2 1408.5 L297.2 1405.2 L298.2 1401.6 L299.2 1397.5 L300.2 1394.3 L301.2 1392.6 L302.3 1388.6 L303.3 1384.5 L304.3 1379.2 L305.3 1380.1 L306.3 1381.6 L307.3 1383.8 L308.3 1387.7 L309.4 1389 L310.4 1388.6 L311.4 1386.4 L312.4 1382.7 L313.4 1380 L314.4 1375.7 L315.4 1372.8 L316.5 1369.1 L317.5 1369.6 L318.5 1369.7 L319.5 1369.2 L320.5 1369.9 L321.5 1370 L322.5 1369.2 L323.6 1364.2 L324.6 1357.7 L325.6 1352.3 L326.6 1347.9 L327.6 1345 L328.6 1341.8 L329.6 1336.9 L330.7 1331.6 L331.7 1329.8 L332.7 1332.1 L333.7 1334.4 L334.7 1336.8 L335.7 1338.9 L336.8 1336.6 L337.8 1330.4 L338.8 1324.1 L339.8 1319.4 L340.8 1313.8 L341.8 1309.8 L342.8 1302.7 L343.9 1294.7 L344.9 1288.4 L345.9 1287.7 L346.9 1284.9 L347.9 1285.5 L348.9 1286.6 L349.9 1288.1 L351 1290.6 L352 1293.7 L353 1293.9 L354 1301 L355 1309.2 L356 1317.8 L357 1317.8 L358.1 1314.3 L359.1 1308.9 L360.1 1309 L361.1 1313 L362.1 1319.6 L363.1 1325.2 L364.1 1330.6 L365.2 1334.6 L366.2 1341.8 L367.2 1350.1 L368.2 1358.9 L369.2 1363.8 L370.2 1367.5 L371.2 1373.2 L372.3 1379.2 L373.3 1386.1 L374.3 1393 L375.3 1397.9 L376.3 1401.9 L377.3 1406.5 L378.4 1413.3 L379.4 1420.7 L380.4 1426.2 L381.4 1428.8 L382.4 1430.6 L383.4 1433.3 L384.4 1435.2 L385.5 1437.3 L386.5 1438.3 L387.5 1439.8 L388.5 1441.4 L389.5 1443.2 L390.5 1445.1 L391.5 1446.6 L392.6 1447.9 L393.6 1449 L394.6 1450.6 L395.6 1452.3 L396.6 1453.5 L396.6 1457.3 Z" fill="#808080"/>
<polyline points="193.7,1457.3 194.6,1457 195.5,1456.7 196.5,1456.3 197.4,1455.9 198.3,1455.5 199.2,1455 200.1,1453.8 201.1,1452.4 202,1450.5 202.9,1449.1 203.8,1447.2 204.8,1446.1 205.7,1445.5 206.6,1444.5 207.5,1443.2 208.4,1442.3 209.4,1440.8 210.3,1439.8 211.2,1440.4 212.1,1440.2 213.1,1440.6 214,1440.9 214.9,1441.6 215.8,1442.1 216.7,1441.7 217.7,1441 218.6,1440.2 219.5,1439.2 220.4,1437.7 221.4,1436 222.3,1435.2 223.2,1433.8 224.1,1432.3 225.1,1430 226,1426.7 226.9,1425.1 227.8,1424.5 228.7,1425.3 229.7,1426.6 230.6,1427.3 231.5,1427.9 232.4,1428.1 233.4,1427.4 234.3,1428 235.2,1426.9 236.1,1425.9 237,1425.7 238,1424.8 238.9,1425 239.8,1423.1 240.7,1422.3 241.7,1421.6 242.6,1419.7 243.5,1419.3 244.4,1419.3 245.3,1418.7 246.3,1419 247.2,1418.7 248.1,1417.4 249,1417.4 250,1418.3 250.9,1416.9 251.8,1417.9 252.7,1417.2 253.6,1414 254.6,1411.2 255.5,1407.9 256.4,1403.6 257.3,1399.6 258.3,1396.5 259.2,1391.9 260.1,1393.3 261,1393.2 261.9,1393.5 262.9,1395.1 263.8,1394.7 264.7,1396.8 265.6,1396.4 266.6,1398 267.5,1399.8 268.4,1400.5 269.3,1400 270.2,1394.1 271.2,1387.6 272.1,1381.2 273,1374.7 273.9,1368.8 274.9,1367.2 275.8,1367.5 276.7,1365 277.6,1365.7 278.5,1362.3 279.5,1357.4 280.4,1355 281.3,1352.2 282.2,1351.4 283.2,1351.1 284.1,1353 285,1354.2 285.9,1354.3 286.8,1353.8 287.8,1356.8 288.7,1357.3 289.6,1356.1 290.5,1355.2 291.5,1354.1 292.4,1351.9 293.3,1352.7 294.2,1355.1 295.2,1355.6 296.1,1352.5 297,1341.4 297.9,1331.3 298.8,1318.6 299.8,1308.3 300.7,1306.9 301.6,1311.4 302.5,1313.4 303.5,1316.9 304.4,1317.5 305.3,1316.7 306.2,1315 307.1,1313.9 308.1,1316.4 309,1319.8 309.9,1321.3 310.8,1326 311.8,1328.9 312.7,1327.1 313.6,1325.1 314.5,1317.1 315.4,1311.8 316.4,1303.1 317.3,1298 318.2,1298 319.1,1298.7 320.1,1297.4 321,1300.6 321.9,1303.1 322.8,1302.6 323.7,1300.8 324.7,1299.8 325.6,1297.3 326.5,1296 327.4,1292.4 328.4,1291.2 329.3,1288.2 330.2,1291.7 331.1,1298.4 332,1301.4 333,1307.6 333.9,1308.6 334.8,1304.6 335.7,1302.9 336.7,1298.6 337.6,1297.4 338.5,1295.4 339.4,1301.4 340.3,1305.1 341.3,1315.5 342.2,1321 343.1,1326.3 344,1330 345,1334.6 345.9,1340.8 346.8,1343.1 347.7,1347.6 348.6,1355.3 349.6,1357.9 350.5,1360.8 351.4,1364.8 352.3,1367.2 353.3,1371.3 354.2,1373.5 355.1,1373.2 356,1376 357,1375.2 357.9,1375.5 358.8,1379.8 359.7,1382 360.6,1387.9 361.6,1389 362.5,1391.2 363.4,1390.7 364.3,1393 365.3,1392.9 366.2,1396.9 367.1,1401.1 368,1405.2 368.9,1411 369.9,1415.9 370.8,1419.8 371.7,1423.2 372.6,1428.1 373.6,1433.9 374.5,1437.6 375.4,1440.1 376.3,1441 377.2,1442.6 378.2,1444.2 379.1,1445.6 380,1445.6 380.9,1446 381.9,1445.8 382.8,1445.8 383.7,1445.8 384.6,1446.1 385.5,1446.6 386.5,1447.4 387.4,1448.9 388.3,1449.9 389.2,1451.1 390.2,1451.7 391.1,1452.1 392,1452.5 392.9,1453.2 393.8,1453.9 394.8,1454.6 395.7,1455 396.6,1455.3" fill="none" stroke="#ff0000" stroke-width="3.2" stroke-linejoin="round"/>
<rect x="192.9" y="1254.4" width="204" height="202.9" fill="none" stroke="#000" stroke-width="2.8"/>
<text x="177.5" y="1466" font-size="22.5" text-anchor="end">0</text>
<text x="177.5" y="1427.6" font-size="22.5" text-anchor="end">20</text>
<text x="177.5" y="1389.2" font-size="22.5" text-anchor="end">40</text>
<text x="177.5" y="1350.8" font-size="22.5" text-anchor="end">60</text>
<text x="177.5" y="1312.4" font-size="22.5" text-anchor="end">80</text>
<text x="177.5" y="1274.1" font-size="22.5" text-anchor="end">100</text>
<line x1="186.9" y1="1457.3" x2="192.9" y2="1457.3" stroke="#000" stroke-width="1.6"/>
<line x1="189.6" y1="1447.7" x2="192.9" y2="1447.7" stroke="#000" stroke-width="1"/>
<line x1="189.6" y1="1438.1" x2="192.9" y2="1438.1" stroke="#000" stroke-width="1"/>
<line x1="189.6" y1="1428.5" x2="192.9" y2="1428.5" stroke="#000" stroke-width="1"/>
<line x1="186.9" y1="1418.9" x2="192.9" y2="1418.9" stroke="#000" stroke-width="1.6"/>
<line x1="189.6" y1="1409.3" x2="192.9" y2="1409.3" stroke="#000" stroke-width="1"/>
<line x1="189.6" y1="1399.7" x2="192.9" y2="1399.7" stroke="#000" stroke-width="1"/>
<line x1="189.6" y1="1390.1" x2="192.9" y2="1390.1" stroke="#000" stroke-width="1"/>
<line x1="186.9" y1="1380.5" x2="192.9" y2="1380.5" stroke="#000" stroke-width="1.6"/>
<line x1="189.6" y1="1370.9" x2="192.9" y2="1370.9" stroke="#000" stroke-width="1"/>
<line x1="189.6" y1="1361.3" x2="192.9" y2="1361.3" stroke="#000" stroke-width="1"/>
<line x1="189.6" y1="1351.8" x2="192.9" y2="1351.8" stroke="#000" stroke-width="1"/>
<line x1="186.9" y1="1342.2" x2="192.9" y2="1342.2" stroke="#000" stroke-width="1.6"/>
<line x1="189.6" y1="1332.6" x2="192.9" y2="1332.6" stroke="#000" stroke-width="1"/>
<line x1="189.6" y1="1323" x2="192.9" y2="1323" stroke="#000" stroke-width="1"/>
<line x1="189.6" y1="1313.4" x2="192.9" y2="1313.4" stroke="#000" stroke-width="1"/>
<line x1="186.9" y1="1303.8" x2="192.9" y2="1303.8" stroke="#000" stroke-width="1.6"/>
<line x1="189.6" y1="1294.2" x2="192.9" y2="1294.2" stroke="#000" stroke-width="1"/>
<line x1="189.6" y1="1284.6" x2="192.9" y2="1284.6" stroke="#000" stroke-width="1"/>
<line x1="189.6" y1="1275" x2="192.9" y2="1275" stroke="#000" stroke-width="1"/>
<line x1="186.9" y1="1265.4" x2="192.9" y2="1265.4" stroke="#000" stroke-width="1.6"/>
<line x1="205" y1="1457.3" x2="205" y2="1462.3" stroke="#000" stroke-width="1.4"/>
<line x1="225.2" y1="1457.3" x2="225.2" y2="1462.3" stroke="#000" stroke-width="1.4"/>
<line x1="266.3" y1="1457.3" x2="266.3" y2="1462.3" stroke="#000" stroke-width="1.4"/>
<line x1="324.5" y1="1457.3" x2="324.5" y2="1462.3" stroke="#000" stroke-width="1.4"/>
<line x1="373.3" y1="1457.3" x2="373.3" y2="1462.3" stroke="#000" stroke-width="1.4"/>
<line x1="211.1" y1="1457.3" x2="211.1" y2="1459.9" stroke="#000" stroke-width="0.8"/>
<line x1="214.6" y1="1457.3" x2="214.6" y2="1459.9" stroke="#000" stroke-width="0.8"/>
<line x1="217.2" y1="1457.3" x2="217.2" y2="1459.9" stroke="#000" stroke-width="0.8"/>
<line x1="219.1" y1="1457.3" x2="219.1" y2="1459.9" stroke="#000" stroke-width="0.8"/>
<line x1="220.7" y1="1457.3" x2="220.7" y2="1459.9" stroke="#000" stroke-width="0.8"/>
<line x1="222.1" y1="1457.3" x2="222.1" y2="1459.9" stroke="#000" stroke-width="0.8"/>
<line x1="223.2" y1="1457.3" x2="223.2" y2="1459.9" stroke="#000" stroke-width="0.8"/>
<line x1="224.3" y1="1457.3" x2="224.3" y2="1459.9" stroke="#000" stroke-width="0.8"/>
<line x1="237.6" y1="1457.3" x2="237.6" y2="1459.9" stroke="#000" stroke-width="0.8"/>
<line x1="244.8" y1="1457.3" x2="244.8" y2="1459.9" stroke="#000" stroke-width="0.8"/>
<line x1="249.9" y1="1457.3" x2="249.9" y2="1459.9" stroke="#000" stroke-width="0.8"/>
<line x1="253.9" y1="1457.3" x2="253.9" y2="1459.9" stroke="#000" stroke-width="0.8"/>
<line x1="257.2" y1="1457.3" x2="257.2" y2="1459.9" stroke="#000" stroke-width="0.8"/>
<line x1="259.9" y1="1457.3" x2="259.9" y2="1459.9" stroke="#000" stroke-width="0.8"/>
<line x1="262.3" y1="1457.3" x2="262.3" y2="1459.9" stroke="#000" stroke-width="0.8"/>
<line x1="264.4" y1="1457.3" x2="264.4" y2="1459.9" stroke="#000" stroke-width="0.8"/>
<line x1="283.8" y1="1457.3" x2="283.8" y2="1459.9" stroke="#000" stroke-width="0.8"/>
<line x1="294.1" y1="1457.3" x2="294.1" y2="1459.9" stroke="#000" stroke-width="0.8"/>
<line x1="301.3" y1="1457.3" x2="301.3" y2="1459.9" stroke="#000" stroke-width="0.8"/>
<line x1="307" y1="1457.3" x2="307" y2="1459.9" stroke="#000" stroke-width="0.8"/>
<line x1="311.6" y1="1457.3" x2="311.6" y2="1459.9" stroke="#000" stroke-width="0.8"/>
<line x1="315.5" y1="1457.3" x2="315.5" y2="1459.9" stroke="#000" stroke-width="0.8"/>
<line x1="318.9" y1="1457.3" x2="318.9" y2="1459.9" stroke="#000" stroke-width="0.8"/>
<line x1="321.8" y1="1457.3" x2="321.8" y2="1459.9" stroke="#000" stroke-width="0.8"/>
<line x1="339.2" y1="1457.3" x2="339.2" y2="1459.9" stroke="#000" stroke-width="0.8"/>
<line x1="347.8" y1="1457.3" x2="347.8" y2="1459.9" stroke="#000" stroke-width="0.8"/>
<line x1="353.9" y1="1457.3" x2="353.9" y2="1459.9" stroke="#000" stroke-width="0.8"/>
<line x1="358.6" y1="1457.3" x2="358.6" y2="1459.9" stroke="#000" stroke-width="0.8"/>
<line x1="362.5" y1="1457.3" x2="362.5" y2="1459.9" stroke="#000" stroke-width="0.8"/>
<line x1="365.7" y1="1457.3" x2="365.7" y2="1459.9" stroke="#000" stroke-width="0.8"/>
<line x1="368.6" y1="1457.3" x2="368.6" y2="1459.9" stroke="#000" stroke-width="0.8"/>
<line x1="371.1" y1="1457.3" x2="371.1" y2="1459.9" stroke="#000" stroke-width="0.8"/>
<line x1="388" y1="1457.3" x2="388" y2="1459.9" stroke="#000" stroke-width="0.8"/>
<line x1="226" y1="1457.3" x2="226" y2="1459.9" stroke="#333" stroke-width="0.6"/>
<line x1="227.5" y1="1457.3" x2="227.5" y2="1459.9" stroke="#333" stroke-width="0.6"/>
<line x1="229" y1="1457.3" x2="229" y2="1459.9" stroke="#333" stroke-width="0.6"/>
<line x1="230.5" y1="1457.3" x2="230.5" y2="1459.9" stroke="#333" stroke-width="0.6"/>
<line x1="232" y1="1457.3" x2="232" y2="1459.9" stroke="#333" stroke-width="0.6"/>
<line x1="233.5" y1="1457.3" x2="233.5" y2="1459.9" stroke="#333" stroke-width="0.6"/>
<line x1="235" y1="1457.3" x2="235" y2="1459.9" stroke="#333" stroke-width="0.6"/>
<line x1="236.5" y1="1457.3" x2="236.5" y2="1459.9" stroke="#333" stroke-width="0.6"/>
<line x1="238" y1="1457.3" x2="238" y2="1459.9" stroke="#333" stroke-width="0.6"/>
<line x1="239.5" y1="1457.3" x2="239.5" y2="1459.9" stroke="#333" stroke-width="0.6"/>
<line x1="241" y1="1457.3" x2="241" y2="1459.9" stroke="#333" stroke-width="0.6"/>
<line x1="242.5" y1="1457.3" x2="242.5" y2="1459.9" stroke="#333" stroke-width="0.6"/>
<line x1="244" y1="1457.3" x2="244" y2="1459.9" stroke="#333" stroke-width="0.6"/>
<line x1="245.5" y1="1457.3" x2="245.5" y2="1459.9" stroke="#333" stroke-width="0.6"/>
<line x1="247" y1="1457.3" x2="247" y2="1459.9" stroke="#333" stroke-width="0.6"/>
<line x1="248.5" y1="1457.3" x2="248.5" y2="1459.9" stroke="#333" stroke-width="0.6"/>
<line x1="250" y1="1457.3" x2="250" y2="1459.9" stroke="#333" stroke-width="0.6"/>
<line x1="251.5" y1="1457.3" x2="251.5" y2="1459.9" stroke="#333" stroke-width="0.6"/>
<line x1="253" y1="1457.3" x2="253" y2="1459.9" stroke="#333" stroke-width="0.6"/>
<line x1="254.5" y1="1457.3" x2="254.5" y2="1459.9" stroke="#333" stroke-width="0.6"/>
<line x1="256" y1="1457.3" x2="256" y2="1459.9" stroke="#333" stroke-width="0.6"/>
<line x1="257.5" y1="1457.3" x2="257.5" y2="1459.9" stroke="#333" stroke-width="0.6"/>
<line x1="259" y1="1457.3" x2="259" y2="1459.9" stroke="#333" stroke-width="0.6"/>
<line x1="260.5" y1="1457.3" x2="260.5" y2="1459.9" stroke="#333" stroke-width="0.6"/>
<line x1="262" y1="1457.3" x2="262" y2="1459.9" stroke="#333" stroke-width="0.6"/>
<line x1="263.5" y1="1457.3" x2="263.5" y2="1459.9" stroke="#333" stroke-width="0.6"/>
<line x1="265" y1="1457.3" x2="265" y2="1459.9" stroke="#333" stroke-width="0.6"/>
<rect x="243.4" y="1457.3" width="3.2" height="4.5" fill="#000"/>
<text x="245" y="1491.3" font-size="22.8" text-anchor="middle">0</text>
<text x="306.1" y="1491.3" font-size="22.8">10<tspan dy="-5.4" font-size="14.1">4</tspan></text>
<text x="356.1" y="1491.3" font-size="22.8">10<tspan dy="-5.4" font-size="14.1">5</tspan></text>
<text x="126.3" y="1387.7" font-size="26" text-anchor="middle" transform="rotate(-90 126.3 1387.7)">Cell count</text>
<line x1="116.7" y1="1309" x2="116.7" y2="1271.7" stroke="#000" stroke-width="2.8"/>
<polygon points="116.7,1257.7 127.6,1277.7 116.7,1271.7 105.8,1277.7" fill="#000"/>
<text x="171" y="1530.3" font-size="26.2">CD206 -APC</text>
<line x1="343.8" y1="1520.2" x2="382.9" y2="1520.2" stroke="#000" stroke-width="2.8"/>
<polygon points="396.9,1520.2 376.9,1531.1 382.9,1520.2 376.9,1509.3" fill="#000"/>
<rect x="621.7" y="1302.1" width="45" height="155.2" fill="#808080" stroke="#000" stroke-width="2.2"/>
<rect x="699.3" y="1353.1" width="45" height="104.2" fill="#ff0000" stroke="#000" stroke-width="2.2"/>
<line x1="644.2" y1="1291.1" x2="644.2" y2="1313.1" stroke="#000" stroke-width="2.2"/>
<line x1="633.2" y1="1291.1" x2="655.2" y2="1291.1" stroke="#000" stroke-width="2.2"/>
<line x1="633.2" y1="1313.1" x2="655.2" y2="1313.1" stroke="#000" stroke-width="2.2"/>
<line x1="721.8" y1="1339.2" x2="721.8" y2="1367" stroke="#000" stroke-width="2.2"/>
<line x1="710.8" y1="1339.2" x2="732.8" y2="1339.2" stroke="#000" stroke-width="2.2"/>
<line x1="710.8" y1="1367" x2="732.8" y2="1367" stroke="#000" stroke-width="2.2"/>
<circle cx="644.2" cy="1250.6" r="5.6" fill="#000"/>
<circle cx="644.2" cy="1276.2" r="5.6" fill="#000"/>
<circle cx="644.2" cy="1296.7" r="5.6" fill="#000"/>
<circle cx="636.8" cy="1312.9" r="5.6" fill="#000"/>
<circle cx="658.3" cy="1319.3" r="5.6" fill="#000"/>
<circle cx="651.4" cy="1327" r="5.6" fill="#000"/>
<circle cx="637.3" cy="1334.2" r="5.6" fill="#000"/>
<rect x="716.3" y="1267.5" width="11.2" height="11.2" fill="#000"/>
<rect x="699.7" y="1334.2" width="11.2" height="11.2" fill="#000"/>
<rect x="734.3" y="1334.2" width="11.2" height="11.2" fill="#000"/>
<rect x="711.2" y="1347.1" width="11.2" height="11.2" fill="#000"/>
<rect x="722.7" y="1345.8" width="11.2" height="11.2" fill="#000"/>
<rect x="708.6" y="1372.2" width="11.2" height="11.2" fill="#000"/>
<rect x="722.7" y="1379.9" width="11.2" height="11.2" fill="#000"/>
<rect x="716.3" y="1402.2" width="11.2" height="11.2" fill="#000"/>
<line x1="606" y1="1224.6" x2="606" y2="1458.4" stroke="#000" stroke-width="2.2"/>
<line x1="598.8" y1="1457.3" x2="761.7" y2="1457.3" stroke="#000" stroke-width="2.2"/>
<line x1="598.5" y1="1457.3" x2="606" y2="1457.3" stroke="#000" stroke-width="2.2"/>
<text x="597.5" y="1466" font-size="22.5" text-anchor="end">0</text>
<line x1="598.5" y1="1399.4" x2="606" y2="1399.4" stroke="#000" stroke-width="2.2"/>
<text x="597.5" y="1408.1" font-size="22.5" text-anchor="end">10000</text>
<line x1="598.5" y1="1341.5" x2="606" y2="1341.5" stroke="#000" stroke-width="2.2"/>
<text x="597.5" y="1350.2" font-size="22.5" text-anchor="end">20000</text>
<line x1="598.5" y1="1283.6" x2="606" y2="1283.6" stroke="#000" stroke-width="2.2"/>
<text x="597.5" y="1292.3" font-size="22.5" text-anchor="end">30000</text>
<line x1="598.5" y1="1225.7" x2="606" y2="1225.7" stroke="#000" stroke-width="2.2"/>
<text x="597.5" y="1234.4" font-size="22.5" text-anchor="end">40000</text>
<line x1="644.2" y1="1457.3" x2="644.2" y2="1464.1" stroke="#000" stroke-width="2.2"/>
<line x1="721.8" y1="1457.3" x2="721.8" y2="1464.1" stroke="#000" stroke-width="2.2"/>
<text x="644.7" y="1493.1" font-size="24.8" text-anchor="middle" letter-spacing="1">NT</text>
<text x="721.8" y="1493.1" font-size="24.8" text-anchor="middle">Phe</text>
<text x="525" y="1339.2" font-size="25.7" text-anchor="middle" transform="rotate(-90 525 1339.2)">CD206 (MFI)</text>
<path d="M643.7 1231.6 V1217.2 H725.8 V1231.6" fill="none" stroke="#000" stroke-width="2.2" stroke-linejoin="round" stroke-linecap="round"/>
<text transform="translate(684.2 1217.4) scale(1.11 0.865)" font-size="25" text-anchor="middle">*</text>
<text x="927.5" y="1202" font-size="41" font-weight="bold">j</text>
<rect x="1025.6" y="1200.8" width="30" height="30" fill="#808080"/>
<text x="1070.3" y="1225.4" font-size="25">NT</text>
<rect x="1136.1" y="1202" width="27" height="27" fill="none" stroke="#ff0000" stroke-width="2.4"/>
<text x="1178.6" y="1225.4" font-size="25">Phe</text>
<path d="M1026.8 1457.3 L1026.8 1457.3 L1028 1457.2 L1029.1 1457.1 L1030.2 1457 L1031.3 1456.9 L1032.5 1456.8 L1033.6 1456.7 L1034.7 1456.4 L1035.8 1456.4 L1037 1456.1 L1038.1 1456 L1039.2 1456 L1040.3 1455.8 L1041.5 1455.7 L1042.6 1455.6 L1043.7 1455.3 L1044.8 1455.4 L1046 1454.8 L1047.1 1453.6 L1048.2 1452.7 L1049.3 1451.7 L1050.5 1450.5 L1051.6 1449.4 L1052.7 1448 L1053.8 1448 L1055 1446.6 L1056.1 1444 L1057.2 1441.4 L1058.3 1438 L1059.5 1435.2 L1060.6 1433.2 L1061.7 1431.2 L1062.8 1428.3 L1064 1425.7 L1065.1 1423.9 L1066.2 1417.8 L1067.3 1412.4 L1068.5 1407.6 L1069.6 1403.8 L1070.7 1397.7 L1071.8 1394.5 L1073 1393.3 L1074.1 1387.2 L1075.2 1382.7 L1076.4 1376.9 L1077.5 1369.3 L1078.6 1363.6 L1079.7 1359 L1080.9 1354.9 L1082 1349.4 L1083.1 1343.3 L1084.2 1337.5 L1085.4 1332.7 L1086.5 1330.7 L1087.6 1329.9 L1088.7 1326.2 L1089.9 1318.7 L1091 1313.9 L1092.1 1308.4 L1093.2 1307.9 L1094.4 1305.5 L1095.5 1300.6 L1096.6 1301.7 L1097.7 1300.2 L1098.9 1303 L1100 1300.7 L1101.1 1295.7 L1102.2 1294.3 L1103.4 1288.8 L1104.5 1290.7 L1105.6 1286.9 L1106.7 1286.2 L1107.9 1290.5 L1109 1290.2 L1110.1 1291.2 L1111.2 1292.3 L1112.4 1291.1 L1113.5 1290.1 L1114.6 1302.5 L1115.7 1309.3 L1116.9 1313.9 L1118 1313.1 L1119.1 1313.8 L1120.2 1317.6 L1121.4 1319.2 L1122.5 1319 L1123.6 1322.3 L1124.7 1321.5 L1125.9 1319.9 L1127 1319.4 L1128.1 1322.4 L1129.2 1321.6 L1130.4 1321.3 L1131.5 1319.3 L1132.6 1323.2 L1133.7 1326.3 L1134.9 1332.2 L1136 1338.9 L1137.1 1339.1 L1138.2 1339.1 L1139.4 1343.7 L1140.5 1347 L1141.6 1346.9 L1142.7 1348.6 L1143.9 1349.8 L1145 1351.2 L1146.1 1351.6 L1147.2 1349.3 L1148.4 1354.8 L1149.5 1354.5 L1150.6 1358.4 L1151.7 1360.1 L1152.9 1358.1 L1154 1360.3 L1155.1 1360.8 L1156.3 1359.7 L1157.4 1358.6 L1158.5 1359.4 L1159.6 1357.9 L1160.8 1359.9 L1161.9 1360 L1163 1364.7 L1164.1 1373.1 L1165.3 1379.2 L1166.4 1384.7 L1167.5 1388.5 L1168.6 1392.4 L1169.8 1394.6 L1170.9 1398.9 L1172 1401.5 L1173.1 1404.1 L1174.3 1407 L1175.4 1411.2 L1176.5 1413 L1177.6 1418.1 L1178.8 1420.4 L1179.9 1423.2 L1181 1424.2 L1182.1 1426.4 L1183.3 1428.8 L1184.4 1431.1 L1185.5 1434 L1186.6 1436.8 L1187.8 1437.7 L1188.9 1438.9 L1190 1440.5 L1191.1 1443.4 L1192.3 1444.8 L1193.4 1446.6 L1194.5 1448.8 L1195.6 1449.9 L1196.8 1449.8 L1197.9 1450.5 L1199 1451.1 L1200.1 1451.4 L1201.3 1452.3 L1202.4 1453.1 L1203.5 1453.7 L1204.6 1454.2 L1205.8 1454.6 L1206.9 1455.1 L1208 1455.3 L1209.1 1455.6 L1210.3 1455.6 L1211.4 1455.6 L1212.5 1455.7 L1213.6 1455.8 L1214.8 1455.8 L1215.9 1456.1 L1217 1456.2 L1218.1 1456.4 L1219.3 1456.4 L1220.4 1456.6 L1221.5 1456.7 L1222.6 1456.8 L1223.8 1456.9 L1224.9 1457 L1226 1457.1 L1227.1 1457.2 L1228.3 1457.2 L1229.4 1457.3 L1229.4 1457.3 Z" fill="#808080"/>
<polyline points="1026.8,1456.8 1027.8,1456.7 1028.9,1456.6 1029.9,1456.3 1030.9,1456.3 1031.9,1456.1 1032.9,1456.2 1033.9,1455.9 1034.9,1455.6 1035.9,1455.6 1037,1455.2 1038,1455.2 1039,1455.4 1040,1455.3 1041,1454.3 1042,1454.4 1043,1454 1044.1,1452.8 1045.1,1452.1 1046.1,1451.7 1047.1,1451.1 1048.1,1451.7 1049.1,1450.7 1050.1,1449.2 1051.1,1445.7 1052.2,1445.7 1053.2,1443.8 1054.2,1442.7 1055.2,1441.5 1056.2,1440.1 1057.2,1436.7 1058.2,1434.3 1059.2,1430.5 1060.3,1424.5 1061.3,1424.7 1062.3,1419 1063.3,1417.6 1064.3,1416.5 1065.3,1413.9 1066.3,1409.7 1067.3,1407.4 1068.4,1406.2 1069.4,1402.3 1070.4,1400 1071.4,1396.4 1072.4,1390.5 1073.4,1392.7 1074.4,1392.9 1075.4,1386.9 1076.5,1380.9 1077.5,1380.4 1078.5,1375 1079.5,1377.1 1080.5,1374.9 1081.5,1367.8 1082.5,1372.2 1083.6,1368.6 1084.6,1366.2 1085.6,1366.1 1086.6,1365.7 1087.6,1364 1088.6,1352.9 1089.6,1353.6 1090.6,1349.3 1091.7,1352.6 1092.7,1346.8 1093.7,1345.3 1094.7,1344.7 1095.7,1342.1 1096.7,1338.5 1097.7,1338 1098.7,1333.2 1099.8,1326.8 1100.8,1332.6 1101.8,1325.7 1102.8,1330.5 1103.8,1330.3 1104.8,1328.8 1105.8,1331.7 1106.8,1338.1 1107.9,1337.4 1108.9,1339.6 1109.9,1338.6 1110.9,1327.2 1111.9,1330.4 1112.9,1325.1 1113.9,1326.4 1115,1331.2 1116,1323.2 1117,1323 1118,1327.7 1119,1331.1 1120,1327.4 1121,1328.4 1122,1325.2 1123.1,1328.1 1124.1,1319.7 1125.1,1315.2 1126.1,1323 1127.1,1314.5 1128.1,1315.5 1129.1,1315.7 1130.1,1309.3 1131.2,1314 1132.2,1306.1 1133.2,1313.9 1134.2,1299.7 1135.2,1308.3 1136.2,1309.8 1137.2,1297 1138.2,1297.6 1139.3,1296.6 1140.3,1294 1141.3,1298.1 1142.3,1301.4 1143.3,1298.7 1144.3,1290 1145.3,1289.6 1146.3,1299.7 1147.4,1292.1 1148.4,1285.9 1149.4,1275.1 1150.4,1291.5 1151.4,1285 1152.4,1297.7 1153.4,1296 1154.5,1303.6 1155.5,1306.5 1156.5,1298 1157.5,1304.7 1158.5,1302 1159.5,1307.6 1160.5,1313 1161.5,1324.2 1162.6,1321.4 1163.6,1322.4 1164.6,1334.3 1165.6,1344.5 1166.6,1346 1167.6,1339.4 1168.6,1342.1 1169.6,1352.2 1170.7,1353.3 1171.7,1353.1 1172.7,1362 1173.7,1372.7 1174.7,1372.8 1175.7,1380.1 1176.7,1386.2 1177.7,1394.2 1178.8,1396.8 1179.8,1401.4 1180.8,1410 1181.8,1413.8 1182.8,1412.9 1183.8,1415.7 1184.8,1422.7 1185.8,1426.5 1186.9,1429.4 1187.9,1432.3 1188.9,1435.1 1189.9,1436.5 1190.9,1439 1191.9,1441.5 1192.9,1444.1 1194,1445.5 1195,1447.6 1196,1447.2 1197,1448.6 1198,1448 1199,1448.9 1200,1450.4 1201,1451.1 1202.1,1451 1203.1,1451.5 1204.1,1451.8 1205.1,1452.7 1206.1,1452.8 1207.1,1453.2 1208.1,1454.2 1209.1,1454.9 1210.2,1454.9 1211.2,1455.5 1212.2,1455.1 1213.2,1455.4 1214.2,1455.8 1215.2,1455.7 1216.2,1455.9 1217.2,1455.6 1218.3,1455.9 1219.3,1456.2 1220.3,1455.9 1221.3,1456 1222.3,1456.2 1223.3,1456.3 1224.3,1456.6 1225.3,1456.3 1226.4,1456.6 1227.4,1456.6 1228.4,1456.7 1229.4,1456.7" fill="none" stroke="#ff0000" stroke-width="3" stroke-linejoin="round"/>
<rect x="1026.2" y="1255.6" width="204.1" height="201.7" fill="none" stroke="#000" stroke-width="2.8"/>
<text x="1010.3" y="1466" font-size="22.5" text-anchor="end">0</text>
<text x="1010.3" y="1427.6" font-size="22.5" text-anchor="end">20</text>
<text x="1010.3" y="1389.2" font-size="22.5" text-anchor="end">40</text>
<text x="1010.3" y="1350.9" font-size="22.5" text-anchor="end">60</text>
<text x="1010.3" y="1312.5" font-size="22.5" text-anchor="end">80</text>
<text x="1010.3" y="1274.2" font-size="22.5" text-anchor="end">100</text>
<line x1="1020.2" y1="1457.3" x2="1026.2" y2="1457.3" stroke="#000" stroke-width="1.6"/>
<line x1="1022.9" y1="1447.7" x2="1026.2" y2="1447.7" stroke="#000" stroke-width="1"/>
<line x1="1022.9" y1="1438.1" x2="1026.2" y2="1438.1" stroke="#000" stroke-width="1"/>
<line x1="1022.9" y1="1428.5" x2="1026.2" y2="1428.5" stroke="#000" stroke-width="1"/>
<line x1="1020.2" y1="1418.9" x2="1026.2" y2="1418.9" stroke="#000" stroke-width="1.6"/>
<line x1="1022.9" y1="1409.3" x2="1026.2" y2="1409.3" stroke="#000" stroke-width="1"/>
<line x1="1022.9" y1="1399.8" x2="1026.2" y2="1399.8" stroke="#000" stroke-width="1"/>
<line x1="1022.9" y1="1390.2" x2="1026.2" y2="1390.2" stroke="#000" stroke-width="1"/>
<line x1="1020.2" y1="1380.6" x2="1026.2" y2="1380.6" stroke="#000" stroke-width="1.6"/>
<line x1="1022.9" y1="1371" x2="1026.2" y2="1371" stroke="#000" stroke-width="1"/>
<line x1="1022.9" y1="1361.4" x2="1026.2" y2="1361.4" stroke="#000" stroke-width="1"/>
<line x1="1022.9" y1="1351.8" x2="1026.2" y2="1351.8" stroke="#000" stroke-width="1"/>
<line x1="1020.2" y1="1342.2" x2="1026.2" y2="1342.2" stroke="#000" stroke-width="1.6"/>
<line x1="1022.9" y1="1332.6" x2="1026.2" y2="1332.6" stroke="#000" stroke-width="1"/>
<line x1="1022.9" y1="1323" x2="1026.2" y2="1323" stroke="#000" stroke-width="1"/>
<line x1="1022.9" y1="1313.5" x2="1026.2" y2="1313.5" stroke="#000" stroke-width="1"/>
<line x1="1020.2" y1="1303.9" x2="1026.2" y2="1303.9" stroke="#000" stroke-width="1.6"/>
<line x1="1022.9" y1="1294.3" x2="1026.2" y2="1294.3" stroke="#000" stroke-width="1"/>
<line x1="1022.9" y1="1284.7" x2="1026.2" y2="1284.7" stroke="#000" stroke-width="1"/>
<line x1="1022.9" y1="1275.1" x2="1026.2" y2="1275.1" stroke="#000" stroke-width="1"/>
<line x1="1020.2" y1="1265.5" x2="1026.2" y2="1265.5" stroke="#000" stroke-width="1.6"/>
<line x1="1037" y1="1457.3" x2="1037" y2="1462.3" stroke="#000" stroke-width="1.4"/>
<line x1="1059.5" y1="1457.3" x2="1059.5" y2="1462.3" stroke="#000" stroke-width="1.4"/>
<line x1="1101" y1="1457.3" x2="1101" y2="1462.3" stroke="#000" stroke-width="1.4"/>
<line x1="1159.2" y1="1457.3" x2="1159.2" y2="1462.3" stroke="#000" stroke-width="1.4"/>
<line x1="1207.9" y1="1457.3" x2="1207.9" y2="1462.3" stroke="#000" stroke-width="1.4"/>
<line x1="1043.8" y1="1457.3" x2="1043.8" y2="1459.9" stroke="#000" stroke-width="0.8"/>
<line x1="1047.7" y1="1457.3" x2="1047.7" y2="1459.9" stroke="#000" stroke-width="0.8"/>
<line x1="1050.5" y1="1457.3" x2="1050.5" y2="1459.9" stroke="#000" stroke-width="0.8"/>
<line x1="1052.7" y1="1457.3" x2="1052.7" y2="1459.9" stroke="#000" stroke-width="0.8"/>
<line x1="1054.5" y1="1457.3" x2="1054.5" y2="1459.9" stroke="#000" stroke-width="0.8"/>
<line x1="1056" y1="1457.3" x2="1056" y2="1459.9" stroke="#000" stroke-width="0.8"/>
<line x1="1057.3" y1="1457.3" x2="1057.3" y2="1459.9" stroke="#000" stroke-width="0.8"/>
<line x1="1058.5" y1="1457.3" x2="1058.5" y2="1459.9" stroke="#000" stroke-width="0.8"/>
<line x1="1072" y1="1457.3" x2="1072" y2="1459.9" stroke="#000" stroke-width="0.8"/>
<line x1="1079.3" y1="1457.3" x2="1079.3" y2="1459.9" stroke="#000" stroke-width="0.8"/>
<line x1="1084.5" y1="1457.3" x2="1084.5" y2="1459.9" stroke="#000" stroke-width="0.8"/>
<line x1="1088.5" y1="1457.3" x2="1088.5" y2="1459.9" stroke="#000" stroke-width="0.8"/>
<line x1="1091.8" y1="1457.3" x2="1091.8" y2="1459.9" stroke="#000" stroke-width="0.8"/>
<line x1="1094.6" y1="1457.3" x2="1094.6" y2="1459.9" stroke="#000" stroke-width="0.8"/>
<line x1="1097" y1="1457.3" x2="1097" y2="1459.9" stroke="#000" stroke-width="0.8"/>
<line x1="1099.1" y1="1457.3" x2="1099.1" y2="1459.9" stroke="#000" stroke-width="0.8"/>
<line x1="1118.5" y1="1457.3" x2="1118.5" y2="1459.9" stroke="#000" stroke-width="0.8"/>
<line x1="1128.8" y1="1457.3" x2="1128.8" y2="1459.9" stroke="#000" stroke-width="0.8"/>
<line x1="1136" y1="1457.3" x2="1136" y2="1459.9" stroke="#000" stroke-width="0.8"/>
<line x1="1141.7" y1="1457.3" x2="1141.7" y2="1459.9" stroke="#000" stroke-width="0.8"/>
<line x1="1146.3" y1="1457.3" x2="1146.3" y2="1459.9" stroke="#000" stroke-width="0.8"/>
<line x1="1150.2" y1="1457.3" x2="1150.2" y2="1459.9" stroke="#000" stroke-width="0.8"/>
<line x1="1153.6" y1="1457.3" x2="1153.6" y2="1459.9" stroke="#000" stroke-width="0.8"/>
<line x1="1156.5" y1="1457.3" x2="1156.5" y2="1459.9" stroke="#000" stroke-width="0.8"/>
<line x1="1173.9" y1="1457.3" x2="1173.9" y2="1459.9" stroke="#000" stroke-width="0.8"/>
<line x1="1182.4" y1="1457.3" x2="1182.4" y2="1459.9" stroke="#000" stroke-width="0.8"/>
<line x1="1188.5" y1="1457.3" x2="1188.5" y2="1459.9" stroke="#000" stroke-width="0.8"/>
<line x1="1193.2" y1="1457.3" x2="1193.2" y2="1459.9" stroke="#000" stroke-width="0.8"/>
<line x1="1197.1" y1="1457.3" x2="1197.1" y2="1459.9" stroke="#000" stroke-width="0.8"/>
<line x1="1200.4" y1="1457.3" x2="1200.4" y2="1459.9" stroke="#000" stroke-width="0.8"/>
<line x1="1203.2" y1="1457.3" x2="1203.2" y2="1459.9" stroke="#000" stroke-width="0.8"/>
<line x1="1205.7" y1="1457.3" x2="1205.7" y2="1459.9" stroke="#000" stroke-width="0.8"/>
<line x1="1222.6" y1="1457.3" x2="1222.6" y2="1459.9" stroke="#000" stroke-width="0.8"/>
<line x1="1060.5" y1="1457.3" x2="1060.5" y2="1459.9" stroke="#333" stroke-width="0.6"/>
<line x1="1062" y1="1457.3" x2="1062" y2="1459.9" stroke="#333" stroke-width="0.6"/>
<line x1="1063.5" y1="1457.3" x2="1063.5" y2="1459.9" stroke="#333" stroke-width="0.6"/>
<line x1="1065.1" y1="1457.3" x2="1065.1" y2="1459.9" stroke="#333" stroke-width="0.6"/>
<line x1="1066.6" y1="1457.3" x2="1066.6" y2="1459.9" stroke="#333" stroke-width="0.6"/>
<line x1="1068.1" y1="1457.3" x2="1068.1" y2="1459.9" stroke="#333" stroke-width="0.6"/>
<line x1="1069.6" y1="1457.3" x2="1069.6" y2="1459.9" stroke="#333" stroke-width="0.6"/>
<line x1="1071.1" y1="1457.3" x2="1071.1" y2="1459.9" stroke="#333" stroke-width="0.6"/>
<line x1="1072.7" y1="1457.3" x2="1072.7" y2="1459.9" stroke="#333" stroke-width="0.6"/>
<line x1="1074.2" y1="1457.3" x2="1074.2" y2="1459.9" stroke="#333" stroke-width="0.6"/>
<line x1="1075.7" y1="1457.3" x2="1075.7" y2="1459.9" stroke="#333" stroke-width="0.6"/>
<line x1="1077.2" y1="1457.3" x2="1077.2" y2="1459.9" stroke="#333" stroke-width="0.6"/>
<line x1="1078.7" y1="1457.3" x2="1078.7" y2="1459.9" stroke="#333" stroke-width="0.6"/>
<line x1="1080.2" y1="1457.3" x2="1080.2" y2="1459.9" stroke="#333" stroke-width="0.6"/>
<line x1="1081.8" y1="1457.3" x2="1081.8" y2="1459.9" stroke="#333" stroke-width="0.6"/>
<line x1="1083.3" y1="1457.3" x2="1083.3" y2="1459.9" stroke="#333" stroke-width="0.6"/>
<line x1="1084.8" y1="1457.3" x2="1084.8" y2="1459.9" stroke="#333" stroke-width="0.6"/>
<line x1="1086.3" y1="1457.3" x2="1086.3" y2="1459.9" stroke="#333" stroke-width="0.6"/>
<line x1="1087.8" y1="1457.3" x2="1087.8" y2="1459.9" stroke="#333" stroke-width="0.6"/>
<line x1="1089.4" y1="1457.3" x2="1089.4" y2="1459.9" stroke="#333" stroke-width="0.6"/>
<line x1="1090.9" y1="1457.3" x2="1090.9" y2="1459.9" stroke="#333" stroke-width="0.6"/>
<line x1="1092.4" y1="1457.3" x2="1092.4" y2="1459.9" stroke="#333" stroke-width="0.6"/>
<line x1="1093.9" y1="1457.3" x2="1093.9" y2="1459.9" stroke="#333" stroke-width="0.6"/>
<line x1="1095.4" y1="1457.3" x2="1095.4" y2="1459.9" stroke="#333" stroke-width="0.6"/>
<line x1="1097" y1="1457.3" x2="1097" y2="1459.9" stroke="#333" stroke-width="0.6"/>
<line x1="1098.5" y1="1457.3" x2="1098.5" y2="1459.9" stroke="#333" stroke-width="0.6"/>
<line x1="1100" y1="1457.3" x2="1100" y2="1459.9" stroke="#333" stroke-width="0.6"/>
<rect x="1078.4" y="1457.3" width="3.2" height="4.5" fill="#000"/>
<path d="M1270.7 1457.3 L1270.7 1457.3 L1271.8 1457 L1272.9 1456.7 L1274 1456.3 L1275.2 1455.8 L1276.3 1455.4 L1277.4 1455.1 L1278.5 1454.4 L1279.7 1453.1 L1280.8 1451.7 L1281.9 1450.4 L1283 1448.7 L1284.2 1448.1 L1285.3 1447.2 L1286.4 1445.1 L1287.6 1443.2 L1288.7 1441.1 L1289.8 1438.5 L1290.9 1435.6 L1292.1 1434 L1293.2 1431.3 L1294.3 1429.6 L1295.4 1427.9 L1296.6 1424.1 L1297.7 1420.3 L1298.8 1417.3 L1300 1413.3 L1301.1 1411.3 L1302.2 1408.6 L1303.3 1404.1 L1304.5 1403 L1305.6 1399 L1306.7 1391.8 L1307.8 1387 L1309 1384.3 L1310.1 1379.6 L1311.2 1377.2 L1312.4 1374 L1313.5 1370.9 L1314.6 1364 L1315.7 1359.7 L1316.9 1354.1 L1318 1350.4 L1319.1 1346.8 L1320.2 1344.4 L1321.4 1338.4 L1322.5 1336.1 L1323.6 1333.7 L1324.8 1332.4 L1325.9 1329.1 L1327 1326.6 L1328.1 1323.7 L1329.3 1322.5 L1330.4 1317.8 L1331.5 1314.3 L1332.6 1310.7 L1333.8 1305.4 L1334.9 1306.8 L1336 1308.4 L1337.1 1311 L1338.3 1311.7 L1339.4 1311.7 L1340.5 1311.8 L1341.7 1308.3 L1342.8 1300.2 L1343.9 1295.9 L1345 1290.9 L1346.2 1297.5 L1347.3 1296.3 L1348.4 1304.7 L1349.5 1303.7 L1350.7 1306.5 L1351.8 1310.3 L1352.9 1310.5 L1354.1 1314.9 L1355.2 1320.4 L1356.3 1320.1 L1357.4 1321.5 L1358.6 1327.1 L1359.7 1329.4 L1360.8 1328.9 L1361.9 1329.6 L1363.1 1331.3 L1364.2 1331.9 L1365.3 1332 L1366.5 1333.9 L1367.6 1331.3 L1368.7 1331.4 L1369.8 1334.3 L1371 1337 L1372.1 1333.6 L1373.2 1329.2 L1374.3 1329.1 L1375.5 1327.8 L1376.6 1325.4 L1377.7 1320.7 L1378.9 1317.8 L1380 1315.3 L1381.1 1308.5 L1382.2 1302.9 L1383.4 1297.4 L1384.5 1294.9 L1385.6 1296.1 L1386.7 1292.8 L1387.9 1290.8 L1389 1289.7 L1390.1 1289.1 L1391.2 1288.9 L1392.4 1288.5 L1393.5 1285.7 L1394.6 1286.1 L1395.8 1284.3 L1396.9 1286.6 L1398 1289.9 L1399.1 1294 L1400.3 1298.3 L1401.4 1303.9 L1402.5 1309.7 L1403.6 1314.2 L1404.8 1316.2 L1405.9 1327.7 L1407 1329.1 L1408.2 1333.5 L1409.3 1336.8 L1410.4 1337.9 L1411.5 1342.9 L1412.7 1349.3 L1413.8 1347.4 L1414.9 1352.7 L1416 1355.4 L1417.2 1361.9 L1418.3 1370.7 L1419.4 1376 L1420.6 1379.1 L1421.7 1379.9 L1422.8 1384.7 L1423.9 1391.9 L1425.1 1397 L1426.2 1399.7 L1427.3 1400.6 L1428.4 1404.1 L1429.6 1407.7 L1430.7 1411.7 L1431.8 1416.3 L1433 1419.6 L1434.1 1423.7 L1435.2 1425.4 L1436.3 1426.3 L1437.5 1429.8 L1438.6 1433.4 L1439.7 1436.6 L1440.8 1438.8 L1442 1440.3 L1443.1 1441.1 L1444.2 1442.6 L1445.3 1444.4 L1446.5 1446.3 L1447.6 1447.8 L1448.7 1449.5 L1449.9 1450.8 L1451 1451.6 L1452.1 1452 L1453.2 1452 L1454.4 1452.6 L1455.5 1453.1 L1456.6 1453.6 L1457.7 1454.3 L1458.9 1454.9 L1460 1455.4 L1461.1 1455.7 L1462.3 1456.1 L1463.4 1456.4 L1464.5 1456.4 L1465.6 1456.5 L1466.8 1456.7 L1467.9 1456.8 L1469 1456.9 L1470.1 1457 L1471.3 1457.1 L1472.4 1457.2 L1473.5 1457.3 L1473.5 1457.3 Z" fill="#808080"/>
<polyline points="1270.7,1456.7 1271.7,1456.6 1272.7,1456.5 1273.7,1456.4 1274.7,1456.3 1275.7,1456.3 1276.7,1456 1277.8,1456.1 1278.8,1456.1 1279.8,1456.1 1280.8,1455.8 1281.8,1455.9 1282.8,1455.5 1283.8,1454.7 1284.9,1453.9 1285.9,1453.2 1286.9,1453.2 1287.9,1452.7 1288.9,1452 1289.9,1450.9 1290.9,1448.7 1292,1446.5 1293,1443.7 1294,1441.9 1295,1439.4 1296,1438.4 1297,1436.9 1298,1435 1299.1,1430.2 1300.1,1425.5 1301.1,1421 1302.1,1417.2 1303.1,1412.9 1304.1,1410.5 1305.1,1404.8 1306.2,1403 1307.2,1397.7 1308.2,1392.3 1309.2,1391.1 1310.2,1387.6 1311.2,1382.2 1312.2,1374 1313.3,1372.2 1314.3,1371.4 1315.3,1362.9 1316.3,1361.4 1317.3,1350.6 1318.3,1353.3 1319.3,1342.3 1320.4,1336.7 1321.4,1339.3 1322.4,1334.1 1323.4,1332.5 1324.4,1325.5 1325.4,1321.5 1326.4,1317.8 1327.5,1317.6 1328.5,1310.3 1329.5,1308.3 1330.5,1299 1331.5,1298.9 1332.5,1300.1 1333.5,1288.8 1334.6,1296 1335.6,1291.9 1336.6,1285.3 1337.6,1284.7 1338.6,1278.9 1339.6,1281.4 1340.6,1275.7 1341.7,1287.9 1342.7,1279.7 1343.7,1287.1 1344.7,1289 1345.7,1284.1 1346.7,1285.4 1347.7,1292 1348.8,1293.2 1349.8,1295.9 1350.8,1288.4 1351.8,1294 1352.8,1300 1353.8,1299.5 1354.8,1309.9 1355.9,1311.8 1356.9,1313.3 1357.9,1311.3 1358.9,1315.1 1359.9,1320.4 1360.9,1319.9 1361.9,1328.3 1363,1325.4 1364,1323.8 1365,1334.7 1366,1325.9 1367,1325.5 1368,1332.8 1369,1328 1370.1,1326.3 1371.1,1336.1 1372.1,1332.7 1373.1,1331.4 1374.1,1329.2 1375.1,1330.2 1376.1,1317.2 1377.2,1309.9 1378.2,1301.4 1379.2,1300.6 1380.2,1298.2 1381.2,1300.7 1382.2,1300.6 1383.2,1300.9 1384.3,1300.6 1385.3,1296.8 1386.3,1292.3 1387.3,1289.4 1388.3,1289 1389.3,1282.6 1390.3,1276.1 1391.4,1288 1392.4,1281.6 1393.4,1286.5 1394.4,1293.8 1395.4,1300.6 1396.4,1296.7 1397.4,1301.4 1398.5,1314.9 1399.5,1314.8 1400.5,1315.7 1401.5,1314.6 1402.5,1317.3 1403.5,1312.6 1404.5,1306.1 1405.6,1314.6 1406.6,1323.3 1407.6,1335.4 1408.6,1331.5 1409.6,1335.4 1410.6,1342 1411.6,1341.6 1412.7,1350.6 1413.7,1350.7 1414.7,1353.5 1415.7,1353.7 1416.7,1360 1417.7,1371.9 1418.7,1374.7 1419.8,1384.8 1420.8,1385.5 1421.8,1389.2 1422.8,1392.8 1423.8,1400.2 1424.8,1401.8 1425.8,1406.1 1426.9,1407.1 1427.9,1411.9 1428.9,1413.5 1429.9,1415.9 1430.9,1415 1431.9,1419.8 1433,1422.1 1434,1424.9 1435,1429 1436,1429.4 1437,1432.4 1438,1433.6 1439,1437.2 1440.1,1438.5 1441.1,1441.6 1442.1,1442.4 1443.1,1442.5 1444.1,1443.2 1445.1,1444.6 1446.1,1447.1 1447.2,1446.3 1448.2,1448.4 1449.2,1449.3 1450.2,1450.8 1451.2,1451.2 1452.2,1452.5 1453.2,1453.1 1454.3,1452.9 1455.3,1453.5 1456.3,1453.8 1457.3,1454.2 1458.3,1454.1 1459.3,1454.5 1460.3,1455.2 1461.4,1455.2 1462.4,1455.8 1463.4,1455.5 1464.4,1456 1465.4,1455.9 1466.4,1456.1 1467.4,1456 1468.5,1456.3 1469.5,1456.5 1470.5,1456.4 1471.5,1456.6 1472.5,1456.7 1473.5,1456.7" fill="none" stroke="#ff0000" stroke-width="3" stroke-linejoin="round"/>
<rect x="1270" y="1255.6" width="204.2" height="201.7" fill="none" stroke="#000" stroke-width="2.8"/>
<line x1="1264" y1="1457.3" x2="1270" y2="1457.3" stroke="#000" stroke-width="1.6"/>
<line x1="1266.7" y1="1447.7" x2="1270" y2="1447.7" stroke="#000" stroke-width="1"/>
<line x1="1266.7" y1="1438.1" x2="1270" y2="1438.1" stroke="#000" stroke-width="1"/>
<line x1="1266.7" y1="1428.5" x2="1270" y2="1428.5" stroke="#000" stroke-width="1"/>
<line x1="1264" y1="1418.9" x2="1270" y2="1418.9" stroke="#000" stroke-width="1.6"/>
<line x1="1266.7" y1="1409.3" x2="1270" y2="1409.3" stroke="#000" stroke-width="1"/>
<line x1="1266.7" y1="1399.8" x2="1270" y2="1399.8" stroke="#000" stroke-width="1"/>
<line x1="1266.7" y1="1390.2" x2="1270" y2="1390.2" stroke="#000" stroke-width="1"/>
<line x1="1264" y1="1380.6" x2="1270" y2="1380.6" stroke="#000" stroke-width="1.6"/>
<line x1="1266.7" y1="1371" x2="1270" y2="1371" stroke="#000" stroke-width="1"/>
<line x1="1266.7" y1="1361.4" x2="1270" y2="1361.4" stroke="#000" stroke-width="1"/>
<line x1="1266.7" y1="1351.8" x2="1270" y2="1351.8" stroke="#000" stroke-width="1"/>
<line x1="1264" y1="1342.2" x2="1270" y2="1342.2" stroke="#000" stroke-width="1.6"/>
<line x1="1266.7" y1="1332.6" x2="1270" y2="1332.6" stroke="#000" stroke-width="1"/>
<line x1="1266.7" y1="1323" x2="1270" y2="1323" stroke="#000" stroke-width="1"/>
<line x1="1266.7" y1="1313.5" x2="1270" y2="1313.5" stroke="#000" stroke-width="1"/>
<line x1="1264" y1="1303.9" x2="1270" y2="1303.9" stroke="#000" stroke-width="1.6"/>
<line x1="1266.7" y1="1294.3" x2="1270" y2="1294.3" stroke="#000" stroke-width="1"/>
<line x1="1266.7" y1="1284.7" x2="1270" y2="1284.7" stroke="#000" stroke-width="1"/>
<line x1="1266.7" y1="1275.1" x2="1270" y2="1275.1" stroke="#000" stroke-width="1"/>
<line x1="1264" y1="1265.5" x2="1270" y2="1265.5" stroke="#000" stroke-width="1.6"/>
<line x1="1280.3" y1="1457.3" x2="1280.3" y2="1462.3" stroke="#000" stroke-width="1.4"/>
<line x1="1302.7" y1="1457.3" x2="1302.7" y2="1462.3" stroke="#000" stroke-width="1.4"/>
<line x1="1343.3" y1="1457.3" x2="1343.3" y2="1462.3" stroke="#000" stroke-width="1.4"/>
<line x1="1401.8" y1="1457.3" x2="1401.8" y2="1462.3" stroke="#000" stroke-width="1.4"/>
<line x1="1451.1" y1="1457.3" x2="1451.1" y2="1462.3" stroke="#000" stroke-width="1.4"/>
<line x1="1287" y1="1457.3" x2="1287" y2="1459.9" stroke="#000" stroke-width="0.8"/>
<line x1="1291" y1="1457.3" x2="1291" y2="1459.9" stroke="#000" stroke-width="0.8"/>
<line x1="1293.8" y1="1457.3" x2="1293.8" y2="1459.9" stroke="#000" stroke-width="0.8"/>
<line x1="1296" y1="1457.3" x2="1296" y2="1459.9" stroke="#000" stroke-width="0.8"/>
<line x1="1297.7" y1="1457.3" x2="1297.7" y2="1459.9" stroke="#000" stroke-width="0.8"/>
<line x1="1299.2" y1="1457.3" x2="1299.2" y2="1459.9" stroke="#000" stroke-width="0.8"/>
<line x1="1300.5" y1="1457.3" x2="1300.5" y2="1459.9" stroke="#000" stroke-width="0.8"/>
<line x1="1301.7" y1="1457.3" x2="1301.7" y2="1459.9" stroke="#000" stroke-width="0.8"/>
<line x1="1314.9" y1="1457.3" x2="1314.9" y2="1459.9" stroke="#000" stroke-width="0.8"/>
<line x1="1322.1" y1="1457.3" x2="1322.1" y2="1459.9" stroke="#000" stroke-width="0.8"/>
<line x1="1327.1" y1="1457.3" x2="1327.1" y2="1459.9" stroke="#000" stroke-width="0.8"/>
<line x1="1331.1" y1="1457.3" x2="1331.1" y2="1459.9" stroke="#000" stroke-width="0.8"/>
<line x1="1334.3" y1="1457.3" x2="1334.3" y2="1459.9" stroke="#000" stroke-width="0.8"/>
<line x1="1337" y1="1457.3" x2="1337" y2="1459.9" stroke="#000" stroke-width="0.8"/>
<line x1="1339.4" y1="1457.3" x2="1339.4" y2="1459.9" stroke="#000" stroke-width="0.8"/>
<line x1="1341.4" y1="1457.3" x2="1341.4" y2="1459.9" stroke="#000" stroke-width="0.8"/>
<line x1="1360.9" y1="1457.3" x2="1360.9" y2="1459.9" stroke="#000" stroke-width="0.8"/>
<line x1="1371.2" y1="1457.3" x2="1371.2" y2="1459.9" stroke="#000" stroke-width="0.8"/>
<line x1="1378.5" y1="1457.3" x2="1378.5" y2="1459.9" stroke="#000" stroke-width="0.8"/>
<line x1="1384.2" y1="1457.3" x2="1384.2" y2="1459.9" stroke="#000" stroke-width="0.8"/>
<line x1="1388.8" y1="1457.3" x2="1388.8" y2="1459.9" stroke="#000" stroke-width="0.8"/>
<line x1="1392.7" y1="1457.3" x2="1392.7" y2="1459.9" stroke="#000" stroke-width="0.8"/>
<line x1="1396.1" y1="1457.3" x2="1396.1" y2="1459.9" stroke="#000" stroke-width="0.8"/>
<line x1="1399.1" y1="1457.3" x2="1399.1" y2="1459.9" stroke="#000" stroke-width="0.8"/>
<line x1="1416.6" y1="1457.3" x2="1416.6" y2="1459.9" stroke="#000" stroke-width="0.8"/>
<line x1="1425.3" y1="1457.3" x2="1425.3" y2="1459.9" stroke="#000" stroke-width="0.8"/>
<line x1="1431.5" y1="1457.3" x2="1431.5" y2="1459.9" stroke="#000" stroke-width="0.8"/>
<line x1="1436.3" y1="1457.3" x2="1436.3" y2="1459.9" stroke="#000" stroke-width="0.8"/>
<line x1="1440.2" y1="1457.3" x2="1440.2" y2="1459.9" stroke="#000" stroke-width="0.8"/>
<line x1="1443.5" y1="1457.3" x2="1443.5" y2="1459.9" stroke="#000" stroke-width="0.8"/>
<line x1="1446.3" y1="1457.3" x2="1446.3" y2="1459.9" stroke="#000" stroke-width="0.8"/>
<line x1="1448.8" y1="1457.3" x2="1448.8" y2="1459.9" stroke="#000" stroke-width="0.8"/>
<line x1="1465.9" y1="1457.3" x2="1465.9" y2="1459.9" stroke="#000" stroke-width="0.8"/>
<line x1="1303.5" y1="1457.3" x2="1303.5" y2="1459.9" stroke="#333" stroke-width="0.6"/>
<line x1="1305" y1="1457.3" x2="1305" y2="1459.9" stroke="#333" stroke-width="0.6"/>
<line x1="1306.5" y1="1457.3" x2="1306.5" y2="1459.9" stroke="#333" stroke-width="0.6"/>
<line x1="1308" y1="1457.3" x2="1308" y2="1459.9" stroke="#333" stroke-width="0.6"/>
<line x1="1309.5" y1="1457.3" x2="1309.5" y2="1459.9" stroke="#333" stroke-width="0.6"/>
<line x1="1311" y1="1457.3" x2="1311" y2="1459.9" stroke="#333" stroke-width="0.6"/>
<line x1="1312.5" y1="1457.3" x2="1312.5" y2="1459.9" stroke="#333" stroke-width="0.6"/>
<line x1="1314" y1="1457.3" x2="1314" y2="1459.9" stroke="#333" stroke-width="0.6"/>
<line x1="1315.5" y1="1457.3" x2="1315.5" y2="1459.9" stroke="#333" stroke-width="0.6"/>
<line x1="1317" y1="1457.3" x2="1317" y2="1459.9" stroke="#333" stroke-width="0.6"/>
<line x1="1318.5" y1="1457.3" x2="1318.5" y2="1459.9" stroke="#333" stroke-width="0.6"/>
<line x1="1320" y1="1457.3" x2="1320" y2="1459.9" stroke="#333" stroke-width="0.6"/>
<line x1="1321.5" y1="1457.3" x2="1321.5" y2="1459.9" stroke="#333" stroke-width="0.6"/>
<line x1="1323" y1="1457.3" x2="1323" y2="1459.9" stroke="#333" stroke-width="0.6"/>
<line x1="1324.5" y1="1457.3" x2="1324.5" y2="1459.9" stroke="#333" stroke-width="0.6"/>
<line x1="1326" y1="1457.3" x2="1326" y2="1459.9" stroke="#333" stroke-width="0.6"/>
<line x1="1327.5" y1="1457.3" x2="1327.5" y2="1459.9" stroke="#333" stroke-width="0.6"/>
<line x1="1329" y1="1457.3" x2="1329" y2="1459.9" stroke="#333" stroke-width="0.6"/>
<line x1="1330.5" y1="1457.3" x2="1330.5" y2="1459.9" stroke="#333" stroke-width="0.6"/>
<line x1="1332" y1="1457.3" x2="1332" y2="1459.9" stroke="#333" stroke-width="0.6"/>
<line x1="1333.5" y1="1457.3" x2="1333.5" y2="1459.9" stroke="#333" stroke-width="0.6"/>
<line x1="1335" y1="1457.3" x2="1335" y2="1459.9" stroke="#333" stroke-width="0.6"/>
<line x1="1336.5" y1="1457.3" x2="1336.5" y2="1459.9" stroke="#333" stroke-width="0.6"/>
<line x1="1338" y1="1457.3" x2="1338" y2="1459.9" stroke="#333" stroke-width="0.6"/>
<line x1="1339.5" y1="1457.3" x2="1339.5" y2="1459.9" stroke="#333" stroke-width="0.6"/>
<line x1="1341" y1="1457.3" x2="1341" y2="1459.9" stroke="#333" stroke-width="0.6"/>
<line x1="1342.5" y1="1457.3" x2="1342.5" y2="1459.9" stroke="#333" stroke-width="0.6"/>
<rect x="1321.7" y="1457.3" width="3.2" height="4.5" fill="#000"/>
<text x="1078.6" y="1493" font-size="22.8" text-anchor="middle">0</text>
<text x="1139.5" y="1493" font-size="22.8">10<tspan dy="-5.4" font-size="14.1">4</tspan></text>
<text x="1189.5" y="1493" font-size="22.8">10<tspan dy="-5.4" font-size="14.1">5</tspan></text>
<text x="1213.4" y="1290.1" font-size="25" text-anchor="end">Veh</text>
<text x="1460.3" y="1290.1" font-size="25" text-anchor="end">Clod</text>
<text x="956.4" y="1409.4" font-size="25.8" text-anchor="middle" transform="rotate(-90 956.4 1409.4)">Count</text>
<line x1="947.7" y1="1352" x2="947.7" y2="1273.3" stroke="#000" stroke-width="2.8"/>
<polygon points="947.7,1259.3 958.6,1279.3 947.7,1273.3 936.8,1279.3" fill="#000"/>
<text x="1033.5" y="1526.8" font-size="26.3">Granzyme B -PE</text>
<line x1="1256.5" y1="1516.4" x2="1458.6" y2="1516.4" stroke="#000" stroke-width="2.8"/>
<polygon points="1472.6,1516.4 1452.6,1527.3 1458.6,1516.4 1452.6,1505.5" fill="#000"/>
<rect x="1692" y="1378.6" width="33.5" height="79.2" fill="#808080" stroke="#000" stroke-width="2.2"/>
<rect x="1750.2" y="1311.8" width="33.5" height="146" fill="#ff0000" stroke="#000" stroke-width="2.2"/>
<rect x="1808.8" y="1326.6" width="33.5" height="131.2" fill="#5b5bfb" stroke="#000" stroke-width="2.2"/>
<rect x="1867" y="1339.8" width="33.5" height="118" fill="#00c000" stroke="#000" stroke-width="2.2"/>
<line x1="1708.8" y1="1365.9" x2="1708.8" y2="1391.3" stroke="#000" stroke-width="2.2"/>
<line x1="1700.8" y1="1365.9" x2="1716.8" y2="1365.9" stroke="#000" stroke-width="2.2"/>
<line x1="1700.8" y1="1391.3" x2="1716.8" y2="1391.3" stroke="#000" stroke-width="2.2"/>
<line x1="1767" y1="1299.4" x2="1767" y2="1324.3" stroke="#000" stroke-width="2.2"/>
<line x1="1759" y1="1299.4" x2="1775" y2="1299.4" stroke="#000" stroke-width="2.2"/>
<line x1="1759" y1="1324.3" x2="1775" y2="1324.3" stroke="#000" stroke-width="2.2"/>
<line x1="1825.6" y1="1315.7" x2="1825.6" y2="1337.5" stroke="#000" stroke-width="2.2"/>
<line x1="1817.6" y1="1315.7" x2="1833.6" y2="1315.7" stroke="#000" stroke-width="2.2"/>
<line x1="1817.6" y1="1337.5" x2="1833.6" y2="1337.5" stroke="#000" stroke-width="2.2"/>
<line x1="1883.8" y1="1327.2" x2="1883.8" y2="1352.4" stroke="#000" stroke-width="2.2"/>
<line x1="1875.8" y1="1327.2" x2="1891.8" y2="1327.2" stroke="#000" stroke-width="2.2"/>
<line x1="1875.8" y1="1352.4" x2="1891.8" y2="1352.4" stroke="#000" stroke-width="2.2"/>
<circle cx="1701.9" cy="1335.2" r="5.8" fill="#000"/>
<circle cx="1715.8" cy="1341.9" r="5.8" fill="#000"/>
<circle cx="1715.8" cy="1365" r="5.8" fill="#000"/>
<circle cx="1701.9" cy="1378.3" r="5.8" fill="#000"/>
<circle cx="1701.9" cy="1405.8" r="5.8" fill="#000"/>
<circle cx="1715.8" cy="1405.8" r="5.8" fill="#000"/>
<circle cx="1708.8" cy="1420.7" r="5.8" fill="#000"/>
<rect x="1761.3" y="1249.4" width="11.5" height="11.5" fill="#000"/>
<rect x="1761.3" y="1276.9" width="11.5" height="11.5" fill="#000"/>
<rect x="1761.3" y="1291" width="11.5" height="11.5" fill="#000"/>
<rect x="1750.6" y="1310.5" width="11.5" height="11.5" fill="#000"/>
<rect x="1771.1" y="1306.4" width="11.5" height="11.5" fill="#000"/>
<rect x="1761.3" y="1320.8" width="11.5" height="11.5" fill="#000"/>
<rect x="1768.5" y="1346.1" width="11.5" height="11.5" fill="#000"/>
<rect x="1753.9" y="1352.6" width="11.5" height="11.5" fill="#000"/>
<circle cx="1825.6" cy="1282.1" r="5.8" fill="#000"/>
<circle cx="1832.5" cy="1306" r="5.8" fill="#000"/>
<circle cx="1811.5" cy="1314.2" r="5.8" fill="#000"/>
<circle cx="1818.4" cy="1326.5" r="5.8" fill="#000"/>
<circle cx="1832.5" cy="1339.1" r="5.8" fill="#000"/>
<circle cx="1832.5" cy="1354.5" r="5.8" fill="#000"/>
<circle cx="1818.4" cy="1365.5" r="5.8" fill="#000"/>
<rect x="1878.1" y="1287.4" width="11.5" height="11.5" fill="#000"/>
<rect x="1885.2" y="1310.5" width="11.5" height="11.5" fill="#000"/>
<rect x="1870.4" y="1320" width="11.5" height="11.5" fill="#000"/>
<rect x="1867.3" y="1341.3" width="11.5" height="11.5" fill="#000"/>
<rect x="1889.1" y="1341.3" width="11.5" height="11.5" fill="#000"/>
<rect x="1878.1" y="1349.5" width="11.5" height="11.5" fill="#000"/>
<rect x="1878.1" y="1388" width="11.5" height="11.5" fill="#000"/>
<line x1="1680.6" y1="1223.8" x2="1680.6" y2="1458.9" stroke="#000" stroke-width="2.2"/>
<line x1="1673.4" y1="1457.8" x2="1914.1" y2="1457.8" stroke="#000" stroke-width="2.2"/>
<line x1="1673.1" y1="1457.8" x2="1680.6" y2="1457.8" stroke="#000" stroke-width="2.2"/>
<text x="1668.1" y="1466.6" font-size="23" text-anchor="end">0</text>
<line x1="1673.1" y1="1380.2" x2="1680.6" y2="1380.2" stroke="#000" stroke-width="2.2"/>
<text x="1668.1" y="1389" font-size="23" text-anchor="end">5000</text>
<line x1="1673.1" y1="1302.5" x2="1680.6" y2="1302.5" stroke="#000" stroke-width="2.2"/>
<text x="1668.1" y="1311.4" font-size="23" text-anchor="end">10000</text>
<line x1="1673.1" y1="1224.9" x2="1680.6" y2="1224.9" stroke="#000" stroke-width="2.2"/>
<text x="1668.1" y="1233.7" font-size="23" text-anchor="end">15000</text>
<line x1="1708.8" y1="1457.8" x2="1708.8" y2="1464.6" stroke="#000" stroke-width="2.2"/>
<line x1="1767" y1="1457.8" x2="1767" y2="1464.6" stroke="#000" stroke-width="2.2"/>
<line x1="1825.6" y1="1457.8" x2="1825.6" y2="1464.6" stroke="#000" stroke-width="2.2"/>
<line x1="1883.8" y1="1457.8" x2="1883.8" y2="1464.6" stroke="#000" stroke-width="2.2"/>
<text x="1709.3" y="1493.1" font-size="24.8" text-anchor="middle" letter-spacing="1">NT</text>
<text x="1767" y="1493.1" font-size="24.8" text-anchor="middle">Phe</text>
<text x="1826.1" y="1493.1" font-size="24.8" text-anchor="middle" letter-spacing="1">NT</text>
<text x="1883.8" y="1493.1" font-size="24.8" text-anchor="middle">Phe</text>
<line x1="1684.5" y1="1504" x2="1789.6" y2="1504" stroke="#000" stroke-width="2.7"/>
<line x1="1805.8" y1="1504" x2="1911" y2="1504" stroke="#000" stroke-width="2.7"/>
<text x="1737.8" y="1537" font-size="25.3" text-anchor="middle">Veh</text>
<text x="1854.3" y="1537" font-size="25.3" text-anchor="middle">Clod</text>
<text x="1592.1" y="1339.2" font-size="25" text-anchor="middle" transform="rotate(-90 1592.1 1339.2)">Granzyme B (MFI)</text>
<path d="M1707.6 1220.9 V1214.1 H1765.8 V1220.9" fill="none" stroke="#000" stroke-width="2.2" stroke-linejoin="round" stroke-linecap="round"/>
<text transform="translate(1738.3 1213.6) scale(1.11 0.865)" font-size="25" text-anchor="middle">**</text>
<path d="M1708.3 1195.3 V1188.5 H1826.9 V1195.3" fill="none" stroke="#000" stroke-width="2.2" stroke-linejoin="round" stroke-linecap="round"/>
<text transform="translate(1770.4 1187.5) scale(1.11 0.865)" font-size="25" text-anchor="middle">*</text>
<path d="M1824.3 1244.5 V1237.7 H1885.9 V1244.5" fill="none" stroke="#000" stroke-width="2.2" stroke-linejoin="round" stroke-linecap="round"/>
<text x="1855.9" y="1230.3" font-size="25" text-anchor="middle">ns</text>
<text x="-1.2" y="1591.7" font-size="41" font-weight="bold">k</text>
<g transform="translate(62.3 1723.1) scale(1)" stroke-linecap="round" stroke-linejoin="round">
<path d="M3.6 -25C2.5 -26.6 -0.4 -32.6 -2.8 -34.8C-5.2 -37 -8.3 -37.5 -10.7 -38.1C-13.1 -38.7 -14.9 -38.6 -17.2 -38.4C-19.5 -38.2 -22 -38 -24.4 -37C-26.8 -36 -29.2 -34.4 -31.6 -32.7C-34 -31 -36.4 -28.7 -38.8 -26.9C-41.2 -25.1 -44 -23 -45.9 -21.9C-47.8 -20.8 -49 -20 -50.3 -20.1C-51.6 -20.2 -53 -21.9 -53.5 -22.3L-52.9 -20.7C-52.3 -20.2 -50.8 -18.2 -49.5 -17.9C-48.2 -17.6 -47.2 -18 -45.2 -19C-43.2 -20 -39.8 -22.3 -37.3 -24.1C-34.8 -25.9 -32.5 -28.1 -30.1 -29.8C-27.7 -31.5 -25.1 -33.2 -23 -34.1C-20.9 -35 -19.1 -35.2 -17.2 -35.2C-15.3 -35.2 -13.2 -34.8 -11.5 -34.1C-9.8 -33.4 -8.3 -32.7 -7.2 -31.2C-6.1 -29.7 -5.4 -26 -5 -25Z" fill="#c4c4c4" stroke="#1a1a1a" stroke-width="1.1"/>
<path d="M-2 -27 C-5 -32 -10 -36.4 -17.2 -36.7 C-24 -36.8 -30 -32 -36 -27" fill="none" stroke="#8a8a8a" stroke-width="1.2"/>
<circle cx="0" cy="0" r="26" fill="#cccccc" stroke="#1a1a1a" stroke-width="1.2"/>
<path d="M-20.1 20.5 L-4.6 39.6 Q0 42.6 4.9 39.6 L19.8 20.5 L19 8 L-19 8 Z" fill="#cccccc"/>
<path d="M-20.1 20.5 L-4.6 39.6 Q0 42.6 4.9 39.6 L19.8 20.5" fill="none" stroke="#1a1a1a" stroke-width="1.2"/>
<circle cx="-17.2" cy="8.5" r="12.6" fill="#cccccc"/>
<path d="M-27.3 11.2 A10.4 10.4 0 0 1 -8.2 3.3 Q-18.2 -1 -27.3 11.2 Z" fill="#999999"/>
<path d="M-20.1 20.8 A12.6 12.6 0 1 1 -4.8 10.7" fill="none" stroke="#1a1a1a" stroke-width="1.2"/>
<circle cx="17.2" cy="8.5" r="12.6" fill="#cccccc"/>
<path d="M27.3 11.2 A10.4 10.4 0 0 0 8.2 3.3 Q18.2 -1 27.3 11.2 Z" fill="#999999"/>
<path d="M20.1 20.8 A12.6 12.6 0 1 0 4.8 10.7" fill="none" stroke="#1a1a1a" stroke-width="1.2"/>
<ellipse cx="-7.3" cy="24.8" rx="2.2" ry="3" fill="#1a1a1a"/>
<ellipse cx="-7.2" cy="24.5" rx="0.55" ry="0.95" fill="#fff"/>
<ellipse cx="6.9" cy="24.8" rx="2.2" ry="3" fill="#1a1a1a"/>
<ellipse cx="7" cy="24.5" rx="0.55" ry="0.95" fill="#fff"/>
<polygon points="-8.5,33.5 -4,35.5 -3,39.5 -6,38.2" fill="#555"/>
<polygon points="8.5,33.5 4.3,35.5 3.3,39.5 6.3,38.2" fill="#555"/>
<polygon points="-2.7,33.8 2.9,33.8 0.1,38.6" fill="#000" stroke="#000" stroke-width="0.8"/>
<path d="M10.8 34.5 C16 30.5 19 31.5 22.3 33.6" fill="none" stroke="#1a1a1a" stroke-width="1.1"/>
<path d="M10.8 34.5 C15 35.5 18 37 20.1 39.4" fill="none" stroke="#1a1a1a" stroke-width="1.1"/>
<path d="M10.8 34.5 C13.5 37 14.5 41 14.7 43.7" fill="none" stroke="#1a1a1a" stroke-width="1.1"/>
<path d="M-10.8 34.5 C-16 30.5 -19 31.5 -22.3 33.6" fill="none" stroke="#1a1a1a" stroke-width="1.1"/>
<path d="M-10.8 34.5 C-15 35.5 -18 37 -20.1 39.4" fill="none" stroke="#1a1a1a" stroke-width="1.1"/>
<path d="M-10.8 34.5 C-13.5 37 -14.5 41 -14.7 43.7" fill="none" stroke="#1a1a1a" stroke-width="1.1"/>
<g transform="translate(11.5 -13.6) rotate(-43.7)">
<line x1="0" y1="0" x2="15" y2="0" stroke="#1a1a1a" stroke-width="1.2"/>
<rect x="14" y="-1.6" width="2.6" height="3.2" fill="#fff" stroke="#1a1a1a" stroke-width="0.9"/>
<rect x="16.6" y="-3.2" width="29" height="6.4" fill="#fff" stroke="#1a1a1a" stroke-width="1.35"/>
<line x1="19" y1="-3.2" x2="19" y2="1.2" stroke="#1a1a1a" stroke-width="1.2"/>
<line x1="21.1" y1="-3.2" x2="21.1" y2="1.2" stroke="#1a1a1a" stroke-width="1.2"/>
<line x1="23.2" y1="-3.2" x2="23.2" y2="1.2" stroke="#1a1a1a" stroke-width="1.2"/>
<line x1="25.3" y1="-3.2" x2="25.3" y2="1.2" stroke="#1a1a1a" stroke-width="1.2"/>
<line x1="27.4" y1="-3.2" x2="27.4" y2="1.2" stroke="#1a1a1a" stroke-width="1.2"/>
<line x1="29.5" y1="-3.2" x2="29.5" y2="1.2" stroke="#1a1a1a" stroke-width="1.2"/>
<rect x="45.2" y="-7" width="2" height="14" rx="1" fill="#555" stroke="#1a1a1a" stroke-width="1.3"/>
<rect x="47.4" y="-1.2" width="7" height="2.4" fill="#fff" stroke="#1a1a1a" stroke-width="0.9"/>
<rect x="54.2" y="-4.6" width="1.8" height="9.2" rx="0.9" fill="#1a1a1a" stroke="#1a1a1a" stroke-width="1"/>
</g>
</g>
<text x="63.2" y="1786.3" font-size="21.5" text-anchor="middle">B6 wildtype</text>
<text x="63.2" y="1812.1" font-size="21.5" text-anchor="middle">mice</text>
<line x1="95.4" y1="1753.5" x2="513.7" y2="1753.5" stroke="#000" stroke-width="3.4"/>
<text x="162.3" y="1658.4" font-size="21.8" text-anchor="middle"><tspan font-style="italic">s.c.</tspan> B16-OVA</text>
<text x="162.3" y="1685.1" font-size="21.8" text-anchor="middle">or</text>
<text x="161.9" y="1711" font-size="21.8" text-anchor="middle">MC38</text>
<line x1="161.5" y1="1717.3" x2="161.5" y2="1741.5" stroke="#000" stroke-width="3.3"/>
<polygon points="161.5,1750 156.2,1740.5 166.8,1740.5" fill="#000"/>
<line x1="161.5" y1="1790.5" x2="161.5" y2="1765.8" stroke="#000" stroke-width="3.3"/>
<polygon points="161.5,1757.3 166.8,1766.8 156.2,1766.8" fill="#000"/>
<text x="160.3" y="1812.1" font-size="21.8" text-anchor="middle">Day0</text>
<text x="338.5" y="1658.4" font-size="21.8" text-anchor="middle">Phenelzine <tspan font-style="italic">i.p.</tspan> daily</text>
<text x="334.7" y="1685.1" font-size="21.8" text-anchor="middle">aPD-1 <tspan font-style="italic">i.p.</tspan></text>
<text x="338.2" y="1711" font-size="21.8" text-anchor="middle">twice a week</text>
<line x1="338.2" y1="1717.3" x2="338.2" y2="1741.5" stroke="#000" stroke-width="3.3"/>
<polygon points="338.2,1750 332.9,1740.5 343.4,1740.5" fill="#000"/>
<line x1="338.2" y1="1790.5" x2="338.2" y2="1765.8" stroke="#000" stroke-width="3.3"/>
<polygon points="338.2,1757.3 343.4,1766.8 332.9,1766.8" fill="#000"/>
<text x="336.7" y="1812.1" font-size="21.8" text-anchor="middle">Day3</text>
<text x="481.3" y="1679.1" font-size="21.8" text-anchor="middle">Terminal</text>
<text x="481.3" y="1705.2" font-size="21.8" text-anchor="middle">Analysis</text>
<line x1="481.8" y1="1717.3" x2="481.8" y2="1741.5" stroke="#000" stroke-width="3.3"/>
<polygon points="481.8,1750 476.6,1740.5 487.1,1740.5" fill="#000"/>
<line x1="481.8" y1="1770.7" x2="481.8" y2="1765.8" stroke="#000" stroke-width="3.3"/>
<polygon points="481.8,1757.3 487.1,1766.8 476.6,1766.8" fill="#000"/>
<text x="474.1" y="1789.1" font-size="21.8" text-anchor="middle">Day 18</text>
<text x="473.7" y="1815.9" font-size="21.8" text-anchor="middle">or Day 27</text>
<text x="531" y="1590.7" font-size="41" font-weight="bold">l</text>
<line x1="666.2" y1="1626.2" x2="666.2" y2="1861.2" stroke="#000" stroke-width="2"/>
<line x1="665.2" y1="1860.2" x2="900.7" y2="1860.2" stroke="#000" stroke-width="2"/>
<line x1="658.7" y1="1860.2" x2="666.2" y2="1860.2" stroke="#000" stroke-width="2"/>
<text x="657.2" y="1868.7" font-size="22" text-anchor="end">0</text>
<line x1="658.7" y1="1782.5" x2="666.2" y2="1782.5" stroke="#000" stroke-width="2"/>
<text x="657.2" y="1791" font-size="22" text-anchor="end">300</text>
<line x1="658.7" y1="1704.9" x2="666.2" y2="1704.9" stroke="#000" stroke-width="2"/>
<text x="657.2" y="1713.3" font-size="22" text-anchor="end">600</text>
<line x1="658.7" y1="1627.2" x2="666.2" y2="1627.2" stroke="#000" stroke-width="2"/>
<text x="657.2" y="1635.7" font-size="22" text-anchor="end">900</text>
<line x1="666.2" y1="1860.2" x2="666.2" y2="1867.2" stroke="#000" stroke-width="2"/>
<text x="666.2" y="1890" font-size="22" text-anchor="middle">0</text>
<line x1="739.9" y1="1860.2" x2="739.9" y2="1867.2" stroke="#000" stroke-width="2"/>
<text x="739.9" y="1890" font-size="22" text-anchor="middle">6</text>
<line x1="813.7" y1="1860.2" x2="813.7" y2="1867.2" stroke="#000" stroke-width="2"/>
<text x="813.7" y="1890" font-size="22" text-anchor="middle">12</text>
<line x1="887.4" y1="1860.2" x2="887.4" y2="1867.2" stroke="#000" stroke-width="2"/>
<text x="887.4" y="1890" font-size="22" text-anchor="middle">18</text>
<polyline points="666.2,1860.2 703.1,1858.1 752.2,1849.8 801.4,1844.9 838.2,1839 887.4,1825.5" fill="none" stroke="#00c000" stroke-width="2.3"/>
<line x1="887.4" y1="1817.7" x2="887.4" y2="1833.3" stroke="#00c000" stroke-width="2"/>
<line x1="881.9" y1="1817.7" x2="892.9" y2="1817.7" stroke="#00c000" stroke-width="2"/>
<line x1="881.9" y1="1833.3" x2="892.9" y2="1833.3" stroke="#00c000" stroke-width="2"/>
<polygon points="666.2,1866.6 672.2,1855.1 660.2,1855.1" fill="#00c000"/>
<polygon points="703.1,1864.6 709.1,1853.1 697,1853.1" fill="#00c000"/>
<polygon points="752.2,1856.3 758.3,1844.8 746.2,1844.8" fill="#00c000"/>
<polygon points="801.4,1851.4 807.4,1839.9 795.3,1839.9" fill="#00c000"/>
<polygon points="838.2,1845.4 844.3,1833.9 832.2,1833.9" fill="#00c000"/>
<polygon points="887.4,1831.9 893.4,1820.4 881.4,1820.4" fill="#00c000"/>
<polyline points="666.2,1860.2 703.1,1856.1 752.2,1846.7 801.4,1828.6 838.2,1806.9 887.4,1769.1" fill="none" stroke="#0000ff" stroke-width="2.3"/>
<line x1="801.4" y1="1821.4" x2="801.4" y2="1835.9" stroke="#0000ff" stroke-width="2"/>
<line x1="795.9" y1="1821.4" x2="806.9" y2="1821.4" stroke="#0000ff" stroke-width="2"/>
<line x1="795.9" y1="1835.9" x2="806.9" y2="1835.9" stroke="#0000ff" stroke-width="2"/>
<line x1="838.2" y1="1795.7" x2="838.2" y2="1818" stroke="#0000ff" stroke-width="2"/>
<line x1="832.7" y1="1795.7" x2="843.7" y2="1795.7" stroke="#0000ff" stroke-width="2"/>
<line x1="832.7" y1="1818" x2="843.7" y2="1818" stroke="#0000ff" stroke-width="2"/>
<line x1="887.4" y1="1757.7" x2="887.4" y2="1780.5" stroke="#0000ff" stroke-width="2"/>
<line x1="881.9" y1="1757.7" x2="892.9" y2="1757.7" stroke="#0000ff" stroke-width="2"/>
<line x1="881.9" y1="1780.5" x2="892.9" y2="1780.5" stroke="#0000ff" stroke-width="2"/>
<polygon points="666.2,1853.8 672.2,1865.3 660.2,1865.3" fill="#0000ff"/>
<polygon points="703.1,1849.6 709.1,1861.1 697,1861.1" fill="#0000ff"/>
<polygon points="752.2,1840.3 758.3,1851.8 746.2,1851.8" fill="#0000ff"/>
<polygon points="801.4,1822.2 807.4,1833.7 795.3,1833.7" fill="#0000ff"/>
<polygon points="838.2,1800.4 844.3,1811.9 832.2,1811.9" fill="#0000ff"/>
<polygon points="887.4,1762.6 893.4,1774.1 881.4,1774.1" fill="#0000ff"/>
<polyline points="666.2,1860.2 703.1,1856.8 752.2,1845.4 801.4,1836.4 838.2,1822.1 887.4,1799.9" fill="none" stroke="#ff0000" stroke-width="2.3"/>
<line x1="887.4" y1="1792.9" x2="887.4" y2="1806.9" stroke="#ff0000" stroke-width="2"/>
<line x1="881.9" y1="1792.9" x2="892.9" y2="1792.9" stroke="#ff0000" stroke-width="2"/>
<line x1="881.9" y1="1806.9" x2="892.9" y2="1806.9" stroke="#ff0000" stroke-width="2"/>
<rect x="660.5" y="1854.5" width="11.4" height="11.4" fill="#ff0000"/>
<rect x="697.4" y="1851.1" width="11.4" height="11.4" fill="#ff0000"/>
<rect x="746.5" y="1839.7" width="11.4" height="11.4" fill="#ff0000"/>
<rect x="795.7" y="1830.7" width="11.4" height="11.4" fill="#ff0000"/>
<rect x="832.5" y="1816.4" width="11.4" height="11.4" fill="#ff0000"/>
<rect x="881.7" y="1794.2" width="11.4" height="11.4" fill="#ff0000"/>
<polyline points="666.2,1860.2 703.1,1856.1 752.2,1836.4 801.4,1799.9 838.2,1753.8 887.4,1665.8" fill="none" stroke="#000" stroke-width="2.3"/>
<line x1="801.4" y1="1786.7" x2="801.4" y2="1813.1" stroke="#000" stroke-width="2"/>
<line x1="795.9" y1="1786.7" x2="806.9" y2="1786.7" stroke="#000" stroke-width="2"/>
<line x1="795.9" y1="1813.1" x2="806.9" y2="1813.1" stroke="#000" stroke-width="2"/>
<line x1="838.2" y1="1733.3" x2="838.2" y2="1774.2" stroke="#000" stroke-width="2"/>
<line x1="832.7" y1="1733.3" x2="843.7" y2="1733.3" stroke="#000" stroke-width="2"/>
<line x1="832.7" y1="1774.2" x2="843.7" y2="1774.2" stroke="#000" stroke-width="2"/>
<line x1="887.4" y1="1637" x2="887.4" y2="1694.5" stroke="#000" stroke-width="2"/>
<line x1="881.9" y1="1637" x2="892.9" y2="1637" stroke="#000" stroke-width="2"/>
<line x1="881.9" y1="1694.5" x2="892.9" y2="1694.5" stroke="#000" stroke-width="2"/>
<circle cx="666.2" cy="1860.2" r="5.7" fill="#000"/>
<circle cx="703.1" cy="1856.1" r="5.7" fill="#000"/>
<circle cx="752.2" cy="1836.4" r="5.7" fill="#000"/>
<circle cx="801.4" cy="1799.9" r="5.7" fill="#000"/>
<circle cx="838.2" cy="1753.8" r="5.7" fill="#000"/>
<circle cx="887.4" cy="1665.8" r="5.7" fill="#000"/>
<text x="782.7" y="1917.7" font-size="25.5" text-anchor="middle">Days</text>
<text x="566.8" y="1739.9" font-size="26" text-anchor="middle" transform="rotate(-90 566.8 1739.9)">B16-OVA</text>
<text x="603.2" y="1741.5" font-size="25.3" text-anchor="middle" transform="rotate(-90 603.2 1741.5)">tumor volume (mm<tspan dy="-10.6" font-size="20">3</tspan><tspan dy="10.6">)</tspan></text>
<line x1="675.5" y1="1602.9" x2="699.5" y2="1602.9" stroke="#000" stroke-width="2.3"/>
<circle cx="687.5" cy="1602.9" r="5.2" fill="#000"/>
<text x="715" y="1610.4" font-size="22">Iso</text>
<line x1="675.5" y1="1629.3" x2="699.5" y2="1629.3" stroke="#ff0000" stroke-width="2.3"/>
<rect x="682.3" y="1624.1" width="10.4" height="10.4" fill="#ff0000"/>
<text x="715" y="1636.8" font-size="22">Phe + Iso</text>
<line x1="675.5" y1="1655.4" x2="699.5" y2="1655.4" stroke="#0000ff" stroke-width="2.3"/>
<polygon points="687.5,1649.5 693,1660 682,1660" fill="#0000ff"/>
<text x="715" y="1663.2" font-size="22">aPD-1</text>
<line x1="675.5" y1="1680.6" x2="699.5" y2="1680.6" stroke="#00c000" stroke-width="2.3"/>
<polygon points="687.5,1686.5 693,1676 682,1676" fill="#00c000"/>
<text x="715" y="1688.9" font-size="22">Phe + aPD-1</text>
<text x="686.8" y="1790.2" font-size="23.8">Phe</text>
<line x1="703.2" y1="1801.7" x2="703.2" y2="1828" stroke="#000" stroke-width="3.4"/>
<polygon points="703.2,1840 696.5,1827 710,1827" fill="#000"/>
<text x="910" y="1590.7" font-size="41" font-weight="bold">m</text>
<rect x="1033.3" y="1709.6" width="34" height="145.9" fill="#808080" stroke="#000" stroke-width="2.2"/>
<rect x="1091.6" y="1810.8" width="34" height="44.7" fill="#ff0000" stroke="#000" stroke-width="2.2"/>
<rect x="1149.8" y="1778.7" width="34" height="76.8" fill="#5b5bfb" stroke="#000" stroke-width="2.2"/>
<rect x="1208.3" y="1829.6" width="34" height="25.9" fill="#00c000" stroke="#000" stroke-width="2.2"/>
<line x1="1050.3" y1="1687.8" x2="1050.3" y2="1731.4" stroke="#000" stroke-width="2.2"/>
<line x1="1042.3" y1="1687.8" x2="1058.3" y2="1687.8" stroke="#000" stroke-width="2.2"/>
<line x1="1042.3" y1="1731.4" x2="1058.3" y2="1731.4" stroke="#000" stroke-width="2.2"/>
<line x1="1108.6" y1="1806.9" x2="1108.6" y2="1814.7" stroke="#000" stroke-width="2.2"/>
<line x1="1100.6" y1="1806.9" x2="1116.6" y2="1806.9" stroke="#000" stroke-width="2.2"/>
<line x1="1100.6" y1="1814.7" x2="1116.6" y2="1814.7" stroke="#000" stroke-width="2.2"/>
<line x1="1166.8" y1="1770.7" x2="1166.8" y2="1786.6" stroke="#000" stroke-width="2.2"/>
<line x1="1158.8" y1="1770.7" x2="1174.8" y2="1770.7" stroke="#000" stroke-width="2.2"/>
<line x1="1158.8" y1="1786.6" x2="1174.8" y2="1786.6" stroke="#000" stroke-width="2.2"/>
<line x1="1225.3" y1="1823.4" x2="1225.3" y2="1835.9" stroke="#000" stroke-width="2.2"/>
<line x1="1217.3" y1="1823.4" x2="1233.3" y2="1823.4" stroke="#000" stroke-width="2.2"/>
<line x1="1217.3" y1="1835.9" x2="1233.3" y2="1835.9" stroke="#000" stroke-width="2.2"/>
<circle cx="1043.2" cy="1663.1" r="5.8" fill="#000"/>
<circle cx="1057.3" cy="1676.5" r="5.8" fill="#000"/>
<circle cx="1050.3" cy="1701.6" r="5.8" fill="#000"/>
<circle cx="1050.3" cy="1721.6" r="5.8" fill="#000"/>
<circle cx="1050.3" cy="1787" r="5.8" fill="#000"/>
<rect x="1102.8" y="1788.2" width="11.5" height="11.5" fill="#000"/>
<rect x="1093.1" y="1803.1" width="11.5" height="11.5" fill="#000"/>
<rect x="1112.3" y="1801.6" width="11.5" height="11.5" fill="#000"/>
<rect x="1102.8" y="1806.2" width="11.5" height="11.5" fill="#000"/>
<rect x="1102.8" y="1824.1" width="11.5" height="11.5" fill="#000"/>
<polygon points="1159.6,1748.5 1165.7,1760.1 1153.5,1760.1" fill="#000"/>
<polygon points="1174,1758.5 1180.1,1770.1 1167.9,1770.1" fill="#000"/>
<polygon points="1156.5,1782.3 1162.6,1793.9 1150.4,1793.9" fill="#000"/>
<polygon points="1176.6,1786.2 1182.7,1797.8 1170.5,1797.8" fill="#000"/>
<polygon points="1166.8,1793.9 1172.9,1805.5 1160.7,1805.5" fill="#000"/>
<polygon points="1225.3,1811.2 1231.4,1799.6 1219.2,1799.6" fill="#000"/>
<polygon points="1219.4,1839 1225.5,1827.4 1213.3,1827.4" fill="#000"/>
<polygon points="1230.9,1839 1237,1827.4 1224.8,1827.4" fill="#000"/>
<polygon points="1222,1846.6 1228.1,1835 1215.9,1835" fill="#000"/>
<polygon points="1228.4,1845.4 1234.5,1833.8 1222.3,1833.8" fill="#000"/>
<line x1="1021.1" y1="1621" x2="1021.1" y2="1856.6" stroke="#000" stroke-width="2.2"/>
<line x1="1014.2" y1="1855.5" x2="1255.3" y2="1855.5" stroke="#000" stroke-width="2.2"/>
<line x1="1013.6" y1="1855.5" x2="1021.1" y2="1855.5" stroke="#000" stroke-width="2.2"/>
<text x="1010.1" y="1864.2" font-size="22.5" text-anchor="end">0</text>
<line x1="1013.6" y1="1816.6" x2="1021.1" y2="1816.6" stroke="#000" stroke-width="2.2"/>
<text x="1010.1" y="1825.3" font-size="22.5" text-anchor="end">200</text>
<line x1="1013.6" y1="1777.7" x2="1021.1" y2="1777.7" stroke="#000" stroke-width="2.2"/>
<text x="1010.1" y="1786.4" font-size="22.5" text-anchor="end">400</text>
<line x1="1013.6" y1="1738.8" x2="1021.1" y2="1738.8" stroke="#000" stroke-width="2.2"/>
<text x="1010.1" y="1747.5" font-size="22.5" text-anchor="end">600</text>
<line x1="1013.6" y1="1699.9" x2="1021.1" y2="1699.9" stroke="#000" stroke-width="2.2"/>
<text x="1010.1" y="1708.6" font-size="22.5" text-anchor="end">800</text>
<line x1="1013.6" y1="1661" x2="1021.1" y2="1661" stroke="#000" stroke-width="2.2"/>
<text x="1010.1" y="1669.7" font-size="22.5" text-anchor="end">1000</text>
<line x1="1013.6" y1="1622.1" x2="1021.1" y2="1622.1" stroke="#000" stroke-width="2.2"/>
<text x="1010.1" y="1630.8" font-size="22.5" text-anchor="end">1200</text>
<line x1="1050.3" y1="1855.5" x2="1050.3" y2="1862.3" stroke="#000" stroke-width="2.2"/>
<line x1="1108.6" y1="1855.5" x2="1108.6" y2="1862.3" stroke="#000" stroke-width="2.2"/>
<line x1="1166.8" y1="1855.5" x2="1166.8" y2="1862.3" stroke="#000" stroke-width="2.2"/>
<line x1="1225.3" y1="1855.5" x2="1225.3" y2="1862.3" stroke="#000" stroke-width="2.2"/>
<text x="1050.8" y="1890" font-size="24.8" text-anchor="middle" letter-spacing="1">NT</text>
<text x="1108.6" y="1890" font-size="24.8" text-anchor="middle">Phe</text>
<text x="1167.3" y="1890" font-size="24.8" text-anchor="middle" letter-spacing="1">NT</text>
<text x="1228.6" y="1890" font-size="24.8" text-anchor="middle">Phe</text>
<line x1="1025.7" y1="1901.2" x2="1130.9" y2="1901.2" stroke="#000" stroke-width="2.7"/>
<line x1="1146.3" y1="1901.2" x2="1251" y2="1901.2" stroke="#000" stroke-width="2.7"/>
<text x="1077" y="1934.8" font-size="25.3" text-anchor="middle">Iso</text>
<text x="1194.3" y="1934.8" font-size="25.3" text-anchor="middle">aPD-1</text>
<text x="951.9" y="1737" font-size="25.5" text-anchor="middle" transform="rotate(-90 951.9 1737)">Tumor volume (mm<tspan dy="-10.7" font-size="20.1">3</tspan><tspan dy="10.7">)</tspan></text>
<path d="M1050.1 1650.7 V1643.9 H1109.1 V1650.7" fill="none" stroke="#000" stroke-width="2.2" stroke-linejoin="round" stroke-linecap="round"/>
<text transform="translate(1079.6 1646.6) scale(1.11 0.865)" font-size="25" text-anchor="middle">***</text>
<path d="M1050.1 1626.8 V1620 H1173.2 V1626.8" fill="none" stroke="#000" stroke-width="2.2" stroke-linejoin="round" stroke-linecap="round"/>
<text transform="translate(1109.1 1621) scale(1.11 0.865)" font-size="25" text-anchor="middle">**</text>
<path d="M1050.1 1601.4 V1594.6 H1234.3 V1601.4" fill="none" stroke="#000" stroke-width="2.2" stroke-linejoin="round" stroke-linecap="round"/>
<text transform="translate(1139.1 1596.6) scale(1.11 0.865)" font-size="25" text-anchor="middle">***</text>
<path d="M1107.3 1741 V1734.2 H1163.5 V1741" fill="none" stroke="#000" stroke-width="2.2" stroke-linejoin="round" stroke-linecap="round"/>
<text x="1135.3" y="1726.8" font-size="25" text-anchor="middle">ns</text>
<path d="M1172.4 1741 V1734.2 H1229.1 V1741" fill="none" stroke="#000" stroke-width="2.2" stroke-linejoin="round" stroke-linecap="round"/>
<text transform="translate(1199.6 1732.1) scale(1.11 0.865)" font-size="25" text-anchor="middle">*</text>
<text x="1260" y="1590.7" font-size="41" font-weight="bold">n</text>
<line x1="1397" y1="1623.1" x2="1397" y2="1859.9" stroke="#000" stroke-width="2"/>
<line x1="1396" y1="1858.9" x2="1632" y2="1858.9" stroke="#000" stroke-width="2"/>
<line x1="1389.5" y1="1858.9" x2="1397" y2="1858.9" stroke="#000" stroke-width="2"/>
<text x="1388" y="1867.4" font-size="22" text-anchor="end">0</text>
<line x1="1389.5" y1="1780.6" x2="1397" y2="1780.6" stroke="#000" stroke-width="2"/>
<text x="1388" y="1789.1" font-size="22" text-anchor="end">200</text>
<line x1="1389.5" y1="1702.4" x2="1397" y2="1702.4" stroke="#000" stroke-width="2"/>
<text x="1388" y="1710.8" font-size="22" text-anchor="end">400</text>
<line x1="1389.5" y1="1624.1" x2="1397" y2="1624.1" stroke="#000" stroke-width="2"/>
<text x="1388" y="1632.6" font-size="22" text-anchor="end">600</text>
<line x1="1397" y1="1858.9" x2="1397" y2="1865.9" stroke="#000" stroke-width="2"/>
<text x="1397" y="1888.2" font-size="22" text-anchor="middle">0</text>
<line x1="1475" y1="1858.9" x2="1475" y2="1865.9" stroke="#000" stroke-width="2"/>
<text x="1475" y="1888.2" font-size="22" text-anchor="middle">9</text>
<line x1="1553" y1="1858.9" x2="1553" y2="1865.9" stroke="#000" stroke-width="2"/>
<text x="1553" y="1888.2" font-size="22" text-anchor="middle">18</text>
<line x1="1631" y1="1858.9" x2="1631" y2="1865.9" stroke="#000" stroke-width="2"/>
<text x="1631" y="1888.2" font-size="22" text-anchor="middle">27</text>
<polyline points="1397,1858.9 1423,1851.9 1457.7,1851.1 1483.7,1847.9 1518.3,1847.2 1544.3,1840.9 1579,1831.9 1605,1823.7 1631,1821.7" fill="none" stroke="#00c000" stroke-width="2.3"/>
<line x1="1605" y1="1815.1" x2="1605" y2="1832.3" stroke="#00c000" stroke-width="2"/>
<line x1="1599.5" y1="1815.1" x2="1610.5" y2="1815.1" stroke="#00c000" stroke-width="2"/>
<line x1="1599.5" y1="1832.3" x2="1610.5" y2="1832.3" stroke="#00c000" stroke-width="2"/>
<line x1="1631" y1="1813.1" x2="1631" y2="1830.3" stroke="#00c000" stroke-width="2"/>
<line x1="1625.5" y1="1813.1" x2="1636.5" y2="1813.1" stroke="#00c000" stroke-width="2"/>
<line x1="1625.5" y1="1830.3" x2="1636.5" y2="1830.3" stroke="#00c000" stroke-width="2"/>
<polygon points="1397,1865.3 1403,1853.8 1391,1853.8" fill="#00c000"/>
<polygon points="1423,1858.3 1429,1846.8 1417,1846.8" fill="#00c000"/>
<polygon points="1457.7,1857.5 1463.7,1846 1451.6,1846" fill="#00c000"/>
<polygon points="1483.7,1854.4 1489.7,1842.9 1477.6,1842.9" fill="#00c000"/>
<polygon points="1518.3,1853.6 1524.4,1842.1 1512.3,1842.1" fill="#00c000"/>
<polygon points="1544.3,1847.3 1550.4,1835.8 1538.3,1835.8" fill="#00c000"/>
<polygon points="1579,1838.3 1585,1826.8 1573,1826.8" fill="#00c000"/>
<polygon points="1605,1830.1 1611,1818.6 1599,1818.6" fill="#00c000"/>
<polygon points="1631,1828.2 1637,1816.7 1625,1816.7" fill="#00c000"/>
<polyline points="1397,1858.9 1423,1851.1 1457.7,1851.1 1483.7,1846.8 1518.3,1837.8 1544.3,1826 1579,1802.9 1605,1790 1631,1778.7" fill="none" stroke="#0000ff" stroke-width="2.3"/>
<line x1="1544.3" y1="1817.4" x2="1544.3" y2="1834.6" stroke="#0000ff" stroke-width="2"/>
<line x1="1538.8" y1="1817.4" x2="1549.8" y2="1817.4" stroke="#0000ff" stroke-width="2"/>
<line x1="1538.8" y1="1834.6" x2="1549.8" y2="1834.6" stroke="#0000ff" stroke-width="2"/>
<line x1="1579" y1="1792.8" x2="1579" y2="1813.1" stroke="#0000ff" stroke-width="2"/>
<line x1="1573.5" y1="1792.8" x2="1584.5" y2="1792.8" stroke="#0000ff" stroke-width="2"/>
<line x1="1573.5" y1="1813.1" x2="1584.5" y2="1813.1" stroke="#0000ff" stroke-width="2"/>
<line x1="1605" y1="1770.5" x2="1605" y2="1809.6" stroke="#0000ff" stroke-width="2"/>
<line x1="1599.5" y1="1770.5" x2="1610.5" y2="1770.5" stroke="#0000ff" stroke-width="2"/>
<line x1="1599.5" y1="1809.6" x2="1610.5" y2="1809.6" stroke="#0000ff" stroke-width="2"/>
<line x1="1631" y1="1762.2" x2="1631" y2="1795.1" stroke="#0000ff" stroke-width="2"/>
<line x1="1625.5" y1="1762.2" x2="1636.5" y2="1762.2" stroke="#0000ff" stroke-width="2"/>
<line x1="1625.5" y1="1795.1" x2="1636.5" y2="1795.1" stroke="#0000ff" stroke-width="2"/>
<polygon points="1397,1852.5 1403,1864 1391,1864" fill="#0000ff"/>
<polygon points="1423,1844.6 1429,1856.1 1417,1856.1" fill="#0000ff"/>
<polygon points="1457.7,1844.6 1463.7,1856.1 1451.6,1856.1" fill="#0000ff"/>
<polygon points="1483.7,1840.3 1489.7,1851.8 1477.6,1851.8" fill="#0000ff"/>
<polygon points="1518.3,1831.3 1524.4,1842.8 1512.3,1842.8" fill="#0000ff"/>
<polygon points="1544.3,1819.6 1550.4,1831.1 1538.3,1831.1" fill="#0000ff"/>
<polygon points="1579,1796.5 1585,1808 1573,1808" fill="#0000ff"/>
<polygon points="1605,1783.6 1611,1795.1 1599,1795.1" fill="#0000ff"/>
<polygon points="1631,1772.2 1637,1783.7 1625,1783.7" fill="#0000ff"/>
<polyline points="1397,1858.9 1423,1849.1 1457.7,1850.3 1483.7,1846.8 1518.3,1841.3 1544.3,1836.2 1579,1809.2 1605,1786.9 1631,1772" fill="none" stroke="#ff0000" stroke-width="2.3"/>
<line x1="1579" y1="1795.5" x2="1579" y2="1822.9" stroke="#ff0000" stroke-width="2"/>
<line x1="1573.5" y1="1795.5" x2="1584.5" y2="1795.5" stroke="#ff0000" stroke-width="2"/>
<line x1="1573.5" y1="1822.9" x2="1584.5" y2="1822.9" stroke="#ff0000" stroke-width="2"/>
<line x1="1605" y1="1772.4" x2="1605" y2="1801.4" stroke="#ff0000" stroke-width="2"/>
<line x1="1599.5" y1="1772.4" x2="1610.5" y2="1772.4" stroke="#ff0000" stroke-width="2"/>
<line x1="1599.5" y1="1801.4" x2="1610.5" y2="1801.4" stroke="#ff0000" stroke-width="2"/>
<line x1="1631" y1="1750.1" x2="1631" y2="1793.9" stroke="#ff0000" stroke-width="2"/>
<line x1="1625.5" y1="1750.1" x2="1636.5" y2="1750.1" stroke="#ff0000" stroke-width="2"/>
<line x1="1625.5" y1="1793.9" x2="1636.5" y2="1793.9" stroke="#ff0000" stroke-width="2"/>
<rect x="1391.3" y="1853.2" width="11.4" height="11.4" fill="#ff0000"/>
<rect x="1417.3" y="1843.4" width="11.4" height="11.4" fill="#ff0000"/>
<rect x="1452" y="1844.6" width="11.4" height="11.4" fill="#ff0000"/>
<rect x="1478" y="1841.1" width="11.4" height="11.4" fill="#ff0000"/>
<rect x="1512.6" y="1835.6" width="11.4" height="11.4" fill="#ff0000"/>
<rect x="1538.6" y="1830.5" width="11.4" height="11.4" fill="#ff0000"/>
<rect x="1573.3" y="1803.5" width="11.4" height="11.4" fill="#ff0000"/>
<rect x="1599.3" y="1781.2" width="11.4" height="11.4" fill="#ff0000"/>
<rect x="1625.3" y="1766.3" width="11.4" height="11.4" fill="#ff0000"/>
<polyline points="1397,1858.9 1423,1851.1 1457.7,1845.2 1483.7,1838.9 1518.3,1824.3 1544.3,1782.6 1579,1713.3 1605,1687.5 1631,1673" fill="none" stroke="#000" stroke-width="2.3"/>
<line x1="1544.3" y1="1767.7" x2="1544.3" y2="1797.5" stroke="#000" stroke-width="2"/>
<line x1="1538.8" y1="1767.7" x2="1549.8" y2="1767.7" stroke="#000" stroke-width="2"/>
<line x1="1538.8" y1="1797.5" x2="1549.8" y2="1797.5" stroke="#000" stroke-width="2"/>
<line x1="1579" y1="1680.1" x2="1579" y2="1746.6" stroke="#000" stroke-width="2"/>
<line x1="1573.5" y1="1680.1" x2="1584.5" y2="1680.1" stroke="#000" stroke-width="2"/>
<line x1="1573.5" y1="1746.6" x2="1584.5" y2="1746.6" stroke="#000" stroke-width="2"/>
<line x1="1605" y1="1656.2" x2="1605" y2="1718.8" stroke="#000" stroke-width="2"/>
<line x1="1599.5" y1="1656.2" x2="1610.5" y2="1656.2" stroke="#000" stroke-width="2"/>
<line x1="1599.5" y1="1718.8" x2="1610.5" y2="1718.8" stroke="#000" stroke-width="2"/>
<line x1="1631" y1="1641.7" x2="1631" y2="1704.3" stroke="#000" stroke-width="2"/>
<line x1="1625.5" y1="1641.7" x2="1636.5" y2="1641.7" stroke="#000" stroke-width="2"/>
<line x1="1625.5" y1="1704.3" x2="1636.5" y2="1704.3" stroke="#000" stroke-width="2"/>
<circle cx="1397" cy="1858.9" r="5.7" fill="#000"/>
<circle cx="1423" cy="1851.1" r="5.7" fill="#000"/>
<circle cx="1457.7" cy="1845.2" r="5.7" fill="#000"/>
<circle cx="1483.7" cy="1838.9" r="5.7" fill="#000"/>
<circle cx="1518.3" cy="1824.3" r="5.7" fill="#000"/>
<circle cx="1544.3" cy="1782.6" r="5.7" fill="#000"/>
<circle cx="1579" cy="1713.3" r="5.7" fill="#000"/>
<circle cx="1605" cy="1687.5" r="5.7" fill="#000"/>
<circle cx="1631" cy="1673" r="5.7" fill="#000"/>
<text x="1513.5" y="1913.9" font-size="25.5" text-anchor="middle">Days</text>
<text x="1299.3" y="1739.5" font-size="25.5" text-anchor="middle" transform="rotate(-90 1299.3 1739.5)">MC38</text>
<text x="1337.3" y="1740.5" font-size="25.2" text-anchor="middle" transform="rotate(-90 1337.3 1740.5)">tumor volume (mm<tspan dy="-10.6" font-size="19.9">3</tspan><tspan dy="10.6">)</tspan></text>
<line x1="1405.6" y1="1601.1" x2="1429.6" y2="1601.1" stroke="#000" stroke-width="2.3"/>
<circle cx="1417.6" cy="1601.1" r="5.2" fill="#000"/>
<text x="1445" y="1608.6" font-size="22">Iso</text>
<line x1="1405.6" y1="1625.9" x2="1429.6" y2="1625.9" stroke="#ff0000" stroke-width="2.3"/>
<rect x="1412.4" y="1620.7" width="10.4" height="10.4" fill="#ff0000"/>
<text x="1445" y="1633.7" font-size="22">Phe + Iso</text>
<line x1="1405.6" y1="1651.6" x2="1429.6" y2="1651.6" stroke="#0000ff" stroke-width="2.3"/>
<polygon points="1417.6,1645.7 1423.1,1656.2 1412.1,1656.2" fill="#0000ff"/>
<text x="1445" y="1658.6" font-size="22">aPD-1</text>
<line x1="1405.6" y1="1675.2" x2="1429.6" y2="1675.2" stroke="#00c000" stroke-width="2.3"/>
<polygon points="1417.6,1681.1 1423.1,1670.6 1412.1,1670.6" fill="#00c000"/>
<text x="1445" y="1683.8" font-size="22">Phe + aPD-1</text>
<text x="1408.5" y="1786.9" font-size="23.8">Phe</text>
<line x1="1423.4" y1="1796" x2="1423.4" y2="1823" stroke="#000" stroke-width="3.4"/>
<polygon points="1423.4,1835 1416.7,1822 1430.2,1822" fill="#000"/>
<text x="1640.5" y="1590.7" font-size="41" font-weight="bold">o</text>
<rect x="1758.3" y="1706.4" width="34" height="149.1" fill="#808080" stroke="#000" stroke-width="2.2"/>
<rect x="1816.5" y="1786.3" width="34" height="69.2" fill="#ff0000" stroke="#000" stroke-width="2.2"/>
<rect x="1874.7" y="1790.9" width="34" height="64.6" fill="#5b5bfb" stroke="#000" stroke-width="2.2"/>
<rect x="1933.2" y="1826.2" width="34" height="29.3" fill="#00c000" stroke="#000" stroke-width="2.2"/>
<line x1="1775.3" y1="1681.5" x2="1775.3" y2="1731.4" stroke="#000" stroke-width="2.2"/>
<line x1="1767.3" y1="1681.5" x2="1783.3" y2="1681.5" stroke="#000" stroke-width="2.2"/>
<line x1="1767.3" y1="1731.4" x2="1783.3" y2="1731.4" stroke="#000" stroke-width="2.2"/>
<line x1="1833.5" y1="1768.5" x2="1833.5" y2="1804" stroke="#000" stroke-width="2.2"/>
<line x1="1825.5" y1="1768.5" x2="1841.5" y2="1768.5" stroke="#000" stroke-width="2.2"/>
<line x1="1825.5" y1="1804" x2="1841.5" y2="1804" stroke="#000" stroke-width="2.2"/>
<line x1="1891.7" y1="1777.8" x2="1891.7" y2="1804" stroke="#000" stroke-width="2.2"/>
<line x1="1883.7" y1="1777.8" x2="1899.7" y2="1777.8" stroke="#000" stroke-width="2.2"/>
<line x1="1883.7" y1="1804" x2="1899.7" y2="1804" stroke="#000" stroke-width="2.2"/>
<line x1="1950.2" y1="1819.3" x2="1950.2" y2="1833" stroke="#000" stroke-width="2.2"/>
<line x1="1942.2" y1="1819.3" x2="1958.2" y2="1819.3" stroke="#000" stroke-width="2.2"/>
<line x1="1942.2" y1="1833" x2="1958.2" y2="1833" stroke="#000" stroke-width="2.2"/>
<circle cx="1767.6" cy="1659.3" r="5.8" fill="#000"/>
<circle cx="1782.2" cy="1657.5" r="5.8" fill="#000"/>
<circle cx="1775.3" cy="1682.4" r="5.8" fill="#000"/>
<circle cx="1782.2" cy="1761.1" r="5.8" fill="#000"/>
<circle cx="1767.6" cy="1773.5" r="5.8" fill="#000"/>
<rect x="1827.8" y="1720.2" width="11.5" height="11.5" fill="#000"/>
<rect x="1820.6" y="1774.1" width="11.5" height="11.5" fill="#000"/>
<rect x="1834.9" y="1778" width="11.5" height="11.5" fill="#000"/>
<rect x="1834.9" y="1813.4" width="11.5" height="11.5" fill="#000"/>
<rect x="1820.6" y="1818.5" width="11.5" height="11.5" fill="#000"/>
<polygon points="1891.7,1742.6 1897.8,1754.2 1885.6,1754.2" fill="#000"/>
<polygon points="1884.3,1772.1 1890.4,1783.7 1878.2,1783.7" fill="#000"/>
<polygon points="1898.9,1786.2 1905,1797.8 1892.8,1797.8" fill="#000"/>
<polygon points="1898.9,1810.1 1905,1821.7 1892.8,1821.7" fill="#000"/>
<polygon points="1884.3,1817 1890.4,1828.6 1878.2,1828.6" fill="#000"/>
<polygon points="1943,1808.7 1949.1,1797.1 1936.9,1797.1" fill="#000"/>
<polygon points="1957.4,1822.3 1963.5,1810.7 1951.3,1810.7" fill="#000"/>
<polygon points="1940,1837.7 1946.1,1826.1 1933.9,1826.1" fill="#000"/>
<polygon points="1960.5,1844.1 1966.6,1832.5 1954.4,1832.5" fill="#000"/>
<polygon points="1950.2,1849.2 1956.3,1837.6 1944.1,1837.6" fill="#000"/>
<line x1="1746.3" y1="1620.5" x2="1746.3" y2="1856.6" stroke="#000" stroke-width="2.2"/>
<line x1="1739.9" y1="1855.5" x2="1980.2" y2="1855.5" stroke="#000" stroke-width="2.2"/>
<line x1="1738.8" y1="1855.5" x2="1746.3" y2="1855.5" stroke="#000" stroke-width="2.2"/>
<text x="1736.8" y="1864.2" font-size="22.5" text-anchor="end">0</text>
<line x1="1738.8" y1="1777.5" x2="1746.3" y2="1777.5" stroke="#000" stroke-width="2.2"/>
<text x="1736.8" y="1786.2" font-size="22.5" text-anchor="end">250</text>
<line x1="1738.8" y1="1699.6" x2="1746.3" y2="1699.6" stroke="#000" stroke-width="2.2"/>
<text x="1736.8" y="1708.2" font-size="22.5" text-anchor="end">500</text>
<line x1="1738.8" y1="1621.6" x2="1746.3" y2="1621.6" stroke="#000" stroke-width="2.2"/>
<text x="1736.8" y="1630.3" font-size="22.5" text-anchor="end">750</text>
<line x1="1775.3" y1="1855.5" x2="1775.3" y2="1862.3" stroke="#000" stroke-width="2.2"/>
<line x1="1833.5" y1="1855.5" x2="1833.5" y2="1862.3" stroke="#000" stroke-width="2.2"/>
<line x1="1891.7" y1="1855.5" x2="1891.7" y2="1862.3" stroke="#000" stroke-width="2.2"/>
<line x1="1950.2" y1="1855.5" x2="1950.2" y2="1862.3" stroke="#000" stroke-width="2.2"/>
<text x="1775.8" y="1890" font-size="24.8" text-anchor="middle" letter-spacing="1">NT</text>
<text x="1833.5" y="1890" font-size="24.8" text-anchor="middle">Phe</text>
<text x="1892.2" y="1890" font-size="24.8" text-anchor="middle" letter-spacing="1">NT</text>
<text x="1957.2" y="1890" font-size="24.8" text-anchor="middle">Phe</text>
<line x1="1750.6" y1="1901.2" x2="1856" y2="1901.2" stroke="#000" stroke-width="2.7"/>
<line x1="1870.7" y1="1901.2" x2="1975.9" y2="1901.2" stroke="#000" stroke-width="2.7"/>
<text x="1802" y="1934.8" font-size="25.3" text-anchor="middle">Iso</text>
<text x="1918.7" y="1934.8" font-size="25.3" text-anchor="middle">aPD-1</text>
<text x="1685.3" y="1737" font-size="25.5" text-anchor="middle" transform="rotate(-90 1685.3 1737)">Tumor volume (mm<tspan dy="-10.7" font-size="20.1">3</tspan><tspan dy="10.7">)</tspan></text>
<path d="M1775.3 1643.8 V1637 H1834 V1643.8" fill="none" stroke="#000" stroke-width="2.2" stroke-linejoin="round" stroke-linecap="round"/>
<text transform="translate(1804.5 1638.3) scale(1.11 0.865)" font-size="25" text-anchor="middle">*</text>
<path d="M1775.3 1622.5 V1615.7 H1898.4 V1622.5" fill="none" stroke="#000" stroke-width="2.2" stroke-linejoin="round" stroke-linecap="round"/>
<text transform="translate(1834.3 1617.2) scale(1.11 0.865)" font-size="25" text-anchor="middle">*</text>
<path d="M1775.3 1602 V1595.2 H1957.9 V1602" fill="none" stroke="#000" stroke-width="2.2" stroke-linejoin="round" stroke-linecap="round"/>
<text transform="translate(1862.5 1596.7) scale(1.11 0.865)" font-size="25" text-anchor="middle">**</text>
<path d="M1833 1710.5 V1703.7 H1889.4 V1710.5" fill="none" stroke="#000" stroke-width="2.2" stroke-linejoin="round" stroke-linecap="round"/>
<text x="1861.7" y="1696.3" font-size="25" text-anchor="middle">ns</text>
<path d="M1898.4 1710.5 V1703.7 H1955.4 V1710.5" fill="none" stroke="#000" stroke-width="2.2" stroke-linejoin="round" stroke-linecap="round"/>
<text transform="translate(1925.9 1704.5) scale(1.11 0.865)" font-size="25" text-anchor="middle">*</text>
</svg>
</body></html>
